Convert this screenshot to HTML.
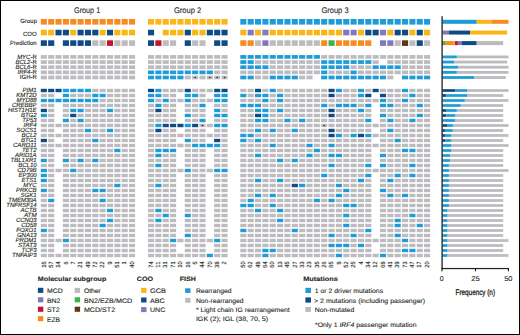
<!DOCTYPE html>
<html><head><meta charset="utf-8"><style>
html,body{margin:0;padding:0;background:#fff;}
body{width:520px;height:335px;overflow:hidden;}
svg{display:block;font-family:"Liberation Sans",sans-serif;text-rendering:geometricPrecision;}
</style></head><body>
<svg width="520" height="335" viewBox="0 0 520 335">

<g>
<rect x="0" y="0" width="520" height="335" fill="#fff"/>
<g fill="#231F20" stroke="#231F20" stroke-width="0.1">
<text x="74.00" y="12.90" font-size="8.2" textLength="26.20" lengthAdjust="spacingAndGlyphs">Group 1</text>
<text x="174.00" y="12.90" font-size="8.2" textLength="27.20" lengthAdjust="spacingAndGlyphs">Group 2</text>
<text x="321.40" y="12.90" font-size="8.2" textLength="27.20" lengthAdjust="spacingAndGlyphs">Group 3</text>
<text x="37.00" y="22.80" font-size="6.0" text-anchor="end" textLength="16.68" lengthAdjust="spacingAndGlyphs" stroke-width="0.12">Group</text>
<text x="36.70" y="35.70" font-size="6.0" text-anchor="end" textLength="13.67" lengthAdjust="spacingAndGlyphs" stroke-width="0.12">COO</text>
<text x="36.70" y="44.90" font-size="6.0" text-anchor="end" textLength="26.68" lengthAdjust="spacingAndGlyphs" stroke-width="0.12">Prediction</text>
<text x="36.8" y="59.30" font-size="6.0" text-anchor="end" textLength="19.66" lengthAdjust="spacingAndGlyphs" stroke-width="0.12"><tspan font-style="italic">MYC</tspan>-R</text>
<text x="36.8" y="64.40" font-size="6.0" text-anchor="end" textLength="21.34" lengthAdjust="spacingAndGlyphs" stroke-width="0.12"><tspan font-style="italic">BCL2</tspan>-R</text>
<text x="36.8" y="69.30" font-size="6.0" text-anchor="end" textLength="21.34" lengthAdjust="spacingAndGlyphs" stroke-width="0.12"><tspan font-style="italic">BCL6</tspan>-R</text>
<text x="36.8" y="74.40" font-size="6.0" text-anchor="end" textLength="19.33" lengthAdjust="spacingAndGlyphs" stroke-width="0.12"><tspan font-style="italic">IRF4</tspan>-R</text>
<text x="36.80" y="79.30" font-size="6.0" text-anchor="end" textLength="17.00" lengthAdjust="spacingAndGlyphs" stroke-width="0.12">IGH-R</text>
<text x="36.60" y="92.10" font-size="6.0" text-anchor="end" textLength="14.00" lengthAdjust="spacingAndGlyphs" stroke-width="0.12" font-style="italic">PIM1</text>
<text x="36.60" y="97.10" font-size="6.0" text-anchor="end" textLength="20.33" lengthAdjust="spacingAndGlyphs" stroke-width="0.12" font-style="italic">KMT2D</text>
<text x="36.60" y="102.10" font-size="6.0" text-anchor="end" textLength="20.01" lengthAdjust="spacingAndGlyphs" stroke-width="0.12" font-style="italic">MYD88</text>
<text x="36.60" y="107.10" font-size="6.0" text-anchor="end" textLength="24.67" lengthAdjust="spacingAndGlyphs" stroke-width="0.12" font-style="italic">CREBBP</text>
<text x="36.60" y="112.10" font-size="6.0" text-anchor="end" textLength="28.68" lengthAdjust="spacingAndGlyphs" stroke-width="0.12" font-style="italic">HIST1H1E</text>
<text x="36.60" y="117.10" font-size="6.0" text-anchor="end" textLength="15.67" lengthAdjust="spacingAndGlyphs" stroke-width="0.12" font-style="italic">BTG2</text>
<text x="36.60" y="122.10" font-size="6.0" text-anchor="end" textLength="14.34" lengthAdjust="spacingAndGlyphs" stroke-width="0.12" font-style="italic">TP53</text>
<text x="36.60" y="127.10" font-size="6.0" text-anchor="end" textLength="13.00" lengthAdjust="spacingAndGlyphs" stroke-width="0.12" font-style="italic">IRF4</text>
<text x="36.60" y="132.10" font-size="6.0" text-anchor="end" textLength="20.34" lengthAdjust="spacingAndGlyphs" stroke-width="0.12" font-style="italic">SOCS1</text>
<text x="36.60" y="137.10" font-size="6.0" text-anchor="end" textLength="15.01" lengthAdjust="spacingAndGlyphs" stroke-width="0.12" font-style="italic">BCL2</text>
<text x="36.60" y="142.10" font-size="6.0" text-anchor="end" textLength="15.67" lengthAdjust="spacingAndGlyphs" stroke-width="0.12" font-style="italic">BTG1</text>
<text x="36.60" y="147.10" font-size="6.0" text-anchor="end" textLength="23.67" lengthAdjust="spacingAndGlyphs" stroke-width="0.12" font-style="italic">CARD11</text>
<text x="36.60" y="152.10" font-size="6.0" text-anchor="end" textLength="14.67" lengthAdjust="spacingAndGlyphs" stroke-width="0.12" font-style="italic">TET2</text>
<text x="36.60" y="157.10" font-size="6.0" text-anchor="end" textLength="21.67" lengthAdjust="spacingAndGlyphs" stroke-width="0.12" font-style="italic">ARID1A</text>
<text x="36.60" y="162.10" font-size="6.0" text-anchor="end" textLength="26.01" lengthAdjust="spacingAndGlyphs" stroke-width="0.12" font-style="italic">TBL1XR1</text>
<text x="36.60" y="167.10" font-size="6.0" text-anchor="end" textLength="18.35" lengthAdjust="spacingAndGlyphs" stroke-width="0.12" font-style="italic">BCL10</text>
<text x="36.60" y="172.10" font-size="6.0" text-anchor="end" textLength="19.34" lengthAdjust="spacingAndGlyphs" stroke-width="0.12" font-style="italic">CD79B</text>
<text x="36.60" y="177.10" font-size="6.0" text-anchor="end" textLength="18.01" lengthAdjust="spacingAndGlyphs" stroke-width="0.12" font-style="italic">EP300</text>
<text x="36.60" y="182.10" font-size="6.0" text-anchor="end" textLength="15.01" lengthAdjust="spacingAndGlyphs" stroke-width="0.12" font-style="italic">ETS1</text>
<text x="36.60" y="187.10" font-size="6.0" text-anchor="end" textLength="13.33" lengthAdjust="spacingAndGlyphs" stroke-width="0.12" font-style="italic">MYC</text>
<text x="36.60" y="192.10" font-size="6.0" text-anchor="end" textLength="20.67" lengthAdjust="spacingAndGlyphs" stroke-width="0.12" font-style="italic">PRKCB</text>
<text x="36.60" y="197.10" font-size="6.0" text-anchor="end" textLength="16.01" lengthAdjust="spacingAndGlyphs" stroke-width="0.12" font-style="italic">SGK1</text>
<text x="36.60" y="202.10" font-size="6.0" text-anchor="end" textLength="28.34" lengthAdjust="spacingAndGlyphs" stroke-width="0.12" font-style="italic">TMEM30A</text>
<text x="36.60" y="207.10" font-size="6.0" text-anchor="end" textLength="30.34" lengthAdjust="spacingAndGlyphs" stroke-width="0.12" font-style="italic">TNFRSF14</text>
<text x="36.60" y="212.10" font-size="6.0" text-anchor="end" textLength="16.00" lengthAdjust="spacingAndGlyphs" stroke-width="0.12" font-style="italic">ACTB</text>
<text x="36.60" y="217.10" font-size="6.0" text-anchor="end" textLength="12.67" lengthAdjust="spacingAndGlyphs" stroke-width="0.12" font-style="italic">ATM</text>
<text x="36.60" y="222.10" font-size="6.0" text-anchor="end" textLength="20.67" lengthAdjust="spacingAndGlyphs" stroke-width="0.12" font-style="italic">CCND3</text>
<text x="36.60" y="227.10" font-size="6.0" text-anchor="end" textLength="15.34" lengthAdjust="spacingAndGlyphs" stroke-width="0.12" font-style="italic">CD58</text>
<text x="36.60" y="232.10" font-size="6.0" text-anchor="end" textLength="20.34" lengthAdjust="spacingAndGlyphs" stroke-width="0.12" font-style="italic">FOXO1</text>
<text x="36.60" y="237.10" font-size="6.0" text-anchor="end" textLength="19.68" lengthAdjust="spacingAndGlyphs" stroke-width="0.12" font-style="italic">GNA13</text>
<text x="36.60" y="242.10" font-size="6.0" text-anchor="end" textLength="21.00" lengthAdjust="spacingAndGlyphs" stroke-width="0.12" font-style="italic">PRDM1</text>
<text x="36.60" y="247.10" font-size="6.0" text-anchor="end" textLength="18.67" lengthAdjust="spacingAndGlyphs" stroke-width="0.12" font-style="italic">STAT3</text>
<text x="36.60" y="252.10" font-size="6.0" text-anchor="end" textLength="15.00" lengthAdjust="spacingAndGlyphs" stroke-width="0.12" font-style="italic">TCF3</text>
<text x="36.60" y="257.10" font-size="6.0" text-anchor="end" textLength="24.67" lengthAdjust="spacingAndGlyphs" stroke-width="0.12" font-style="italic">TNFAIP3</text>
<text x="45.55" y="261.50" font-size="6.1" text-anchor="end" textLength="6.20" lengthAdjust="spacingAndGlyphs" stroke-width="0.12" transform="rotate(-90 45.55 261.50)">15</text>
<text x="52.90" y="261.50" font-size="6.1" text-anchor="end" textLength="6.20" lengthAdjust="spacingAndGlyphs" stroke-width="0.12" transform="rotate(-90 52.90 261.50)">57</text>
<text x="60.25" y="261.50" font-size="6.1" text-anchor="end" textLength="6.20" lengthAdjust="spacingAndGlyphs" stroke-width="0.12" transform="rotate(-90 60.25 261.50)">14</text>
<text x="67.60" y="261.50" font-size="6.1" text-anchor="end" textLength="3.10" lengthAdjust="spacingAndGlyphs" stroke-width="0.12" transform="rotate(-90 67.60 261.50)">6</text>
<text x="74.95" y="261.50" font-size="6.1" text-anchor="end" textLength="3.10" lengthAdjust="spacingAndGlyphs" stroke-width="0.12" transform="rotate(-90 74.95 261.50)">7</text>
<text x="82.30" y="261.50" font-size="6.1" text-anchor="end" textLength="6.20" lengthAdjust="spacingAndGlyphs" stroke-width="0.12" transform="rotate(-90 82.30 261.50)">21</text>
<text x="89.65" y="261.50" font-size="6.1" text-anchor="end" textLength="6.20" lengthAdjust="spacingAndGlyphs" stroke-width="0.12" transform="rotate(-90 89.65 261.50)">49</text>
<text x="97.00" y="261.50" font-size="6.1" text-anchor="end" textLength="6.20" lengthAdjust="spacingAndGlyphs" stroke-width="0.12" transform="rotate(-90 97.00 261.50)">72</text>
<text x="104.35" y="261.50" font-size="6.1" text-anchor="end" textLength="6.20" lengthAdjust="spacingAndGlyphs" stroke-width="0.12" transform="rotate(-90 104.35 261.50)">22</text>
<text x="111.70" y="261.50" font-size="6.1" text-anchor="end" textLength="3.10" lengthAdjust="spacingAndGlyphs" stroke-width="0.12" transform="rotate(-90 111.70 261.50)">9</text>
<text x="119.05" y="261.50" font-size="6.1" text-anchor="end" textLength="6.20" lengthAdjust="spacingAndGlyphs" stroke-width="0.12" transform="rotate(-90 119.05 261.50)">51</text>
<text x="126.40" y="261.50" font-size="6.1" text-anchor="end" textLength="3.10" lengthAdjust="spacingAndGlyphs" stroke-width="0.12" transform="rotate(-90 126.40 261.50)">1</text>
<text x="133.75" y="261.50" font-size="6.1" text-anchor="end" textLength="6.20" lengthAdjust="spacingAndGlyphs" stroke-width="0.12" transform="rotate(-90 133.75 261.50)">40</text>
<text x="152.75" y="261.50" font-size="6.1" text-anchor="end" textLength="6.20" lengthAdjust="spacingAndGlyphs" stroke-width="0.12" transform="rotate(-90 152.75 261.50)">74</text>
<text x="160.10" y="261.50" font-size="6.1" text-anchor="end" textLength="6.20" lengthAdjust="spacingAndGlyphs" stroke-width="0.12" transform="rotate(-90 160.10 261.50)">11</text>
<text x="167.45" y="261.50" font-size="6.1" text-anchor="end" textLength="6.20" lengthAdjust="spacingAndGlyphs" stroke-width="0.12" transform="rotate(-90 167.45 261.50)">31</text>
<text x="174.80" y="261.50" font-size="6.1" text-anchor="end" textLength="6.20" lengthAdjust="spacingAndGlyphs" stroke-width="0.12" transform="rotate(-90 174.80 261.50)">71</text>
<text x="182.15" y="261.50" font-size="6.1" text-anchor="end" textLength="6.20" lengthAdjust="spacingAndGlyphs" stroke-width="0.12" transform="rotate(-90 182.15 261.50)">10</text>
<text x="189.50" y="261.50" font-size="6.1" text-anchor="end" textLength="6.20" lengthAdjust="spacingAndGlyphs" stroke-width="0.12" transform="rotate(-90 189.50 261.50)">16</text>
<text x="196.85" y="261.50" font-size="6.1" text-anchor="end" textLength="3.10" lengthAdjust="spacingAndGlyphs" stroke-width="0.12" transform="rotate(-90 196.85 261.50)">5</text>
<text x="204.20" y="261.50" font-size="6.1" text-anchor="end" textLength="6.20" lengthAdjust="spacingAndGlyphs" stroke-width="0.12" transform="rotate(-90 204.20 261.50)">44</text>
<text x="211.55" y="261.50" font-size="6.1" text-anchor="end" textLength="6.20" lengthAdjust="spacingAndGlyphs" stroke-width="0.12" transform="rotate(-90 211.55 261.50)">70</text>
<text x="218.90" y="261.50" font-size="6.1" text-anchor="end" textLength="6.20" lengthAdjust="spacingAndGlyphs" stroke-width="0.12" transform="rotate(-90 218.90 261.50)">38</text>
<text x="226.25" y="261.50" font-size="6.1" text-anchor="end" textLength="3.10" lengthAdjust="spacingAndGlyphs" stroke-width="0.12" transform="rotate(-90 226.25 261.50)">2</text>
<text x="245.05" y="261.50" font-size="6.1" text-anchor="end" textLength="6.20" lengthAdjust="spacingAndGlyphs" stroke-width="0.12" transform="rotate(-90 245.05 261.50)">50</text>
<text x="252.40" y="261.50" font-size="6.1" text-anchor="end" textLength="6.20" lengthAdjust="spacingAndGlyphs" stroke-width="0.12" transform="rotate(-90 252.40 261.50)">62</text>
<text x="259.75" y="261.50" font-size="6.1" text-anchor="end" textLength="6.20" lengthAdjust="spacingAndGlyphs" stroke-width="0.12" transform="rotate(-90 259.75 261.50)">48</text>
<text x="267.10" y="261.50" font-size="6.1" text-anchor="end" textLength="6.20" lengthAdjust="spacingAndGlyphs" stroke-width="0.12" transform="rotate(-90 267.10 261.50)">64</text>
<text x="274.45" y="261.50" font-size="6.1" text-anchor="end" textLength="6.20" lengthAdjust="spacingAndGlyphs" stroke-width="0.12" transform="rotate(-90 274.45 261.50)">60</text>
<text x="281.80" y="261.50" font-size="6.1" text-anchor="end" textLength="6.20" lengthAdjust="spacingAndGlyphs" stroke-width="0.12" transform="rotate(-90 281.80 261.50)">13</text>
<text x="289.15" y="261.50" font-size="6.1" text-anchor="end" textLength="6.20" lengthAdjust="spacingAndGlyphs" stroke-width="0.12" transform="rotate(-90 289.15 261.50)">45</text>
<text x="296.50" y="261.50" font-size="6.1" text-anchor="end" textLength="6.20" lengthAdjust="spacingAndGlyphs" stroke-width="0.12" transform="rotate(-90 296.50 261.50)">27</text>
<text x="303.85" y="261.50" font-size="6.1" text-anchor="end" textLength="6.20" lengthAdjust="spacingAndGlyphs" stroke-width="0.12" transform="rotate(-90 303.85 261.50)">33</text>
<text x="311.20" y="261.50" font-size="6.1" text-anchor="end" textLength="6.20" lengthAdjust="spacingAndGlyphs" stroke-width="0.12" transform="rotate(-90 311.20 261.50)">23</text>
<text x="318.55" y="261.50" font-size="6.1" text-anchor="end" textLength="6.20" lengthAdjust="spacingAndGlyphs" stroke-width="0.12" transform="rotate(-90 318.55 261.50)">35</text>
<text x="325.90" y="261.50" font-size="6.1" text-anchor="end" textLength="6.20" lengthAdjust="spacingAndGlyphs" stroke-width="0.12" transform="rotate(-90 325.90 261.50)">26</text>
<text x="333.25" y="261.50" font-size="6.1" text-anchor="end" textLength="6.20" lengthAdjust="spacingAndGlyphs" stroke-width="0.12" transform="rotate(-90 333.25 261.50)">65</text>
<text x="340.60" y="261.50" font-size="6.1" text-anchor="end" textLength="3.10" lengthAdjust="spacingAndGlyphs" stroke-width="0.12" transform="rotate(-90 340.60 261.50)">8</text>
<text x="347.95" y="261.50" font-size="6.1" text-anchor="end" textLength="6.20" lengthAdjust="spacingAndGlyphs" stroke-width="0.12" transform="rotate(-90 347.95 261.50)">52</text>
<text x="355.30" y="261.50" font-size="6.1" text-anchor="end" textLength="6.20" lengthAdjust="spacingAndGlyphs" stroke-width="0.12" transform="rotate(-90 355.30 261.50)">25</text>
<text x="362.65" y="261.50" font-size="6.1" text-anchor="end" textLength="3.10" lengthAdjust="spacingAndGlyphs" stroke-width="0.12" transform="rotate(-90 362.65 261.50)">4</text>
<text x="370.00" y="261.50" font-size="6.1" text-anchor="end" textLength="6.20" lengthAdjust="spacingAndGlyphs" stroke-width="0.12" transform="rotate(-90 370.00 261.50)">34</text>
<text x="377.35" y="261.50" font-size="6.1" text-anchor="end" textLength="6.20" lengthAdjust="spacingAndGlyphs" stroke-width="0.12" transform="rotate(-90 377.35 261.50)">12</text>
<text x="384.70" y="261.50" font-size="6.1" text-anchor="end" textLength="6.20" lengthAdjust="spacingAndGlyphs" stroke-width="0.12" transform="rotate(-90 384.70 261.50)">68</text>
<text x="392.05" y="261.50" font-size="6.1" text-anchor="end" textLength="6.20" lengthAdjust="spacingAndGlyphs" stroke-width="0.12" transform="rotate(-90 392.05 261.50)">41</text>
<text x="399.40" y="261.50" font-size="6.1" text-anchor="end" textLength="6.20" lengthAdjust="spacingAndGlyphs" stroke-width="0.12" transform="rotate(-90 399.40 261.50)">39</text>
<text x="406.75" y="261.50" font-size="6.1" text-anchor="end" textLength="6.20" lengthAdjust="spacingAndGlyphs" stroke-width="0.12" transform="rotate(-90 406.75 261.50)">73</text>
<text x="414.10" y="261.50" font-size="6.1" text-anchor="end" textLength="6.20" lengthAdjust="spacingAndGlyphs" stroke-width="0.12" transform="rotate(-90 414.10 261.50)">47</text>
<text x="421.45" y="261.50" font-size="6.1" text-anchor="end" textLength="6.20" lengthAdjust="spacingAndGlyphs" stroke-width="0.12" transform="rotate(-90 421.45 261.50)">17</text>
<text x="428.80" y="261.50" font-size="6.1" text-anchor="end" textLength="6.20" lengthAdjust="spacingAndGlyphs" stroke-width="0.12" transform="rotate(-90 428.80 261.50)">20</text>
<text x="37.80" y="281.20" font-size="6.3" font-weight="bold" textLength="68.50" lengthAdjust="spacingAndGlyphs">Molecular subgroup</text>
<text x="46.90" y="293.40" font-size="6.6" textLength="15.80" lengthAdjust="spacingAndGlyphs">MCD</text>
<text x="46.90" y="302.85" font-size="6.6" textLength="13.60" lengthAdjust="spacingAndGlyphs">BN2</text>
<text x="46.90" y="312.30" font-size="6.6" textLength="12.80" lengthAdjust="spacingAndGlyphs">ST2</text>
<text x="46.90" y="321.75" font-size="6.6" textLength="13.10" lengthAdjust="spacingAndGlyphs">EZB</text>
<text x="83.90" y="293.40" font-size="6.6" textLength="17.00" lengthAdjust="spacingAndGlyphs">Other</text>
<text x="83.90" y="302.85" font-size="6.6" textLength="48.40" lengthAdjust="spacingAndGlyphs">BN2/EZB/MCD</text>
<text x="83.90" y="312.30" font-size="6.6" textLength="31.20" lengthAdjust="spacingAndGlyphs">MCD/ST2</text>
<text x="136.80" y="281.40" font-size="6.3" font-weight="bold" textLength="16.30" lengthAdjust="spacingAndGlyphs">COO</text>
<text x="149.90" y="292.90" font-size="6.6" textLength="16.20" lengthAdjust="spacingAndGlyphs">GCB</text>
<text x="149.90" y="302.50" font-size="6.6" textLength="14.90" lengthAdjust="spacingAndGlyphs">ABC</text>
<text x="149.90" y="312.10" font-size="6.6" textLength="15.40" lengthAdjust="spacingAndGlyphs">UNC</text>
<text x="179.80" y="281.40" font-size="6.3" font-weight="bold" textLength="16.00" lengthAdjust="spacingAndGlyphs">FISH</text>
<text x="195.90" y="293.00" font-size="6.5" textLength="35.70" lengthAdjust="spacingAndGlyphs">Rearranged</text>
<text x="195.90" y="302.50" font-size="6.5" textLength="47.60" lengthAdjust="spacingAndGlyphs">Non-rearranged</text>
<text x="195.90" y="312.10" font-size="6.5" textLength="93.90" lengthAdjust="spacingAndGlyphs">* Light chain IG rearrangement</text>
<text x="195.90" y="320.60" font-size="6.5" textLength="72.30" lengthAdjust="spacingAndGlyphs">IGK (2); IGL (38, 70, 5)</text>
<text x="303.20" y="281.20" font-size="6.3" font-weight="bold" textLength="34.60" lengthAdjust="spacingAndGlyphs">Mutations</text>
<text x="314.80" y="293.10" font-size="6.5" textLength="68.30" lengthAdjust="spacingAndGlyphs">1 or 2 driver mutations</text>
<text x="314.00" y="302.50" font-size="6.5" textLength="111.20" lengthAdjust="spacingAndGlyphs">&gt; 2 mutations (including passenger)</text>
<text x="314.80" y="312.00" font-size="6.5" textLength="39.40" lengthAdjust="spacingAndGlyphs">Non-mutated</text>
<text x="315.0" y="326.6" font-size="6.5" textLength="101.50" lengthAdjust="spacingAndGlyphs">*Only 1 <tspan font-style="italic">IRF4</tspan> passenger mutation</text>
<text x="439.80" y="280.90" font-size="7.0" textLength="3.90" lengthAdjust="spacingAndGlyphs">0</text>
<text x="471.30" y="280.90" font-size="7.0" textLength="8.50" lengthAdjust="spacingAndGlyphs">25</text>
<text x="504.20" y="280.90" font-size="7.0" textLength="8.30" lengthAdjust="spacingAndGlyphs">50</text>
<text x="455.60" y="294.60" font-size="8.2" textLength="39.40" lengthAdjust="spacingAndGlyphs" stroke-width="0.3">Frequency (n)</text>
</g>
<g>
<rect x="40.80" y="19.00" width="6.10" height="5.60" fill="#F68B1F"/>
<rect x="48.15" y="19.00" width="6.10" height="5.60" fill="#F68B1F"/>
<rect x="55.50" y="19.00" width="6.10" height="5.60" fill="#F68B1F"/>
<rect x="62.85" y="19.00" width="6.10" height="5.60" fill="#F68B1F"/>
<rect x="70.20" y="19.00" width="6.10" height="5.60" fill="#F68B1F"/>
<rect x="77.55" y="19.00" width="6.10" height="5.60" fill="#F68B1F"/>
<rect x="84.90" y="19.00" width="6.10" height="5.60" fill="#F68B1F"/>
<rect x="92.25" y="19.00" width="6.10" height="5.60" fill="#F68B1F"/>
<rect x="99.60" y="19.00" width="6.10" height="5.60" fill="#F68B1F"/>
<rect x="106.95" y="19.00" width="6.10" height="5.60" fill="#F68B1F"/>
<rect x="114.30" y="19.00" width="6.10" height="5.60" fill="#F68B1F"/>
<rect x="121.65" y="19.00" width="6.10" height="5.60" fill="#F68B1F"/>
<rect x="129.00" y="19.00" width="6.10" height="5.60" fill="#F68B1F"/>
<rect x="148.00" y="19.00" width="6.10" height="5.60" fill="#FBB516"/>
<rect x="155.35" y="19.00" width="6.10" height="5.60" fill="#FBB516"/>
<rect x="162.70" y="19.00" width="6.10" height="5.60" fill="#FBB516"/>
<rect x="170.05" y="19.00" width="6.10" height="5.60" fill="#FBB516"/>
<rect x="177.40" y="19.00" width="6.10" height="5.60" fill="#FBB516"/>
<rect x="184.75" y="19.00" width="6.10" height="5.60" fill="#FBB516"/>
<rect x="192.10" y="19.00" width="6.10" height="5.60" fill="#FBB516"/>
<rect x="199.45" y="19.00" width="6.10" height="5.60" fill="#FBB516"/>
<rect x="206.80" y="19.00" width="6.10" height="5.60" fill="#FBB516"/>
<rect x="214.15" y="19.00" width="6.10" height="5.60" fill="#FBB516"/>
<rect x="221.50" y="19.00" width="6.10" height="5.60" fill="#FBB516"/>
<rect x="240.30" y="19.00" width="6.10" height="5.60" fill="#1E9CD8"/>
<rect x="247.65" y="19.00" width="6.10" height="5.60" fill="#1E9CD8"/>
<rect x="255.00" y="19.00" width="6.10" height="5.60" fill="#1E9CD8"/>
<rect x="262.35" y="19.00" width="6.10" height="5.60" fill="#1E9CD8"/>
<rect x="269.70" y="19.00" width="6.10" height="5.60" fill="#1E9CD8"/>
<rect x="277.05" y="19.00" width="6.10" height="5.60" fill="#1E9CD8"/>
<rect x="284.40" y="19.00" width="6.10" height="5.60" fill="#1E9CD8"/>
<rect x="291.75" y="19.00" width="6.10" height="5.60" fill="#1E9CD8"/>
<rect x="299.10" y="19.00" width="6.10" height="5.60" fill="#1E9CD8"/>
<rect x="306.45" y="19.00" width="6.10" height="5.60" fill="#1E9CD8"/>
<rect x="313.80" y="19.00" width="6.10" height="5.60" fill="#1E9CD8"/>
<rect x="321.15" y="19.00" width="6.10" height="5.60" fill="#1E9CD8"/>
<rect x="328.50" y="19.00" width="6.10" height="5.60" fill="#1E9CD8"/>
<rect x="335.85" y="19.00" width="6.10" height="5.60" fill="#1E9CD8"/>
<rect x="343.20" y="19.00" width="6.10" height="5.60" fill="#1E9CD8"/>
<rect x="350.55" y="19.00" width="6.10" height="5.60" fill="#1E9CD8"/>
<rect x="357.90" y="19.00" width="6.10" height="5.60" fill="#1E9CD8"/>
<rect x="365.25" y="19.00" width="6.10" height="5.60" fill="#1E9CD8"/>
<rect x="372.60" y="19.00" width="6.10" height="5.60" fill="#1E9CD8"/>
<rect x="379.95" y="19.00" width="6.10" height="5.60" fill="#1E9CD8"/>
<rect x="387.30" y="19.00" width="6.10" height="5.60" fill="#1E9CD8"/>
<rect x="394.65" y="19.00" width="6.10" height="5.60" fill="#1E9CD8"/>
<rect x="402.00" y="19.00" width="6.10" height="5.60" fill="#1E9CD8"/>
<rect x="409.35" y="19.00" width="6.10" height="5.60" fill="#1E9CD8"/>
<rect x="416.70" y="19.00" width="6.10" height="5.60" fill="#1E9CD8"/>
<rect x="424.05" y="19.00" width="6.10" height="5.60" fill="#1E9CD8"/>
<rect x="40.80" y="29.75" width="6.10" height="5.60" fill="#FBB516"/>
<rect x="48.15" y="29.75" width="6.10" height="5.60" fill="#FBB516"/>
<rect x="55.50" y="29.75" width="6.10" height="5.60" fill="#0E4A83"/>
<rect x="62.85" y="29.75" width="6.10" height="5.60" fill="#0E4A83"/>
<rect x="70.20" y="29.75" width="6.10" height="5.60" fill="#FBB516"/>
<rect x="77.55" y="29.75" width="6.10" height="5.60" fill="#0E4A83"/>
<rect x="84.90" y="29.75" width="6.10" height="5.60" fill="#0E4A83"/>
<rect x="92.25" y="29.75" width="6.10" height="5.60" fill="#0E4A83"/>
<rect x="99.60" y="29.75" width="6.10" height="5.60" fill="#FBB516"/>
<rect x="106.95" y="29.75" width="6.10" height="5.60" fill="#0E4A83"/>
<rect x="114.30" y="29.75" width="6.10" height="5.60" fill="#FBB516"/>
<rect x="121.65" y="29.75" width="6.10" height="5.60" fill="#FBB516"/>
<rect x="129.00" y="29.75" width="6.10" height="5.60" fill="#FBB516"/>
<rect x="148.00" y="29.75" width="6.10" height="5.60" fill="#0E4A83"/>
<rect x="162.70" y="29.75" width="6.10" height="5.60" fill="#FBB516"/>
<rect x="170.05" y="29.75" width="6.10" height="5.60" fill="#FBB516"/>
<rect x="177.40" y="29.75" width="6.10" height="5.60" fill="#FBB516"/>
<rect x="184.75" y="29.75" width="6.10" height="5.60" fill="#0E4A83"/>
<rect x="192.10" y="29.75" width="6.10" height="5.60" fill="#FBB516"/>
<rect x="199.45" y="29.75" width="6.10" height="5.60" fill="#FBB516"/>
<rect x="206.80" y="29.75" width="6.10" height="5.60" fill="#0E4A83"/>
<rect x="214.15" y="29.75" width="6.10" height="5.60" fill="#0E4A83"/>
<rect x="221.50" y="29.75" width="6.10" height="5.60" fill="#0E4A83"/>
<rect x="240.30" y="29.75" width="6.10" height="5.60" fill="#FBB516"/>
<rect x="247.65" y="29.75" width="6.10" height="5.60" fill="#8278BC"/>
<rect x="255.00" y="29.75" width="6.10" height="5.60" fill="#FBB516"/>
<rect x="262.35" y="29.75" width="6.10" height="5.60" fill="#8278BC"/>
<rect x="269.70" y="29.75" width="6.10" height="5.60" fill="#FBB516"/>
<rect x="277.05" y="29.75" width="6.10" height="5.60" fill="#FBB516"/>
<rect x="284.40" y="29.75" width="6.10" height="5.60" fill="#FBB516"/>
<rect x="291.75" y="29.75" width="6.10" height="5.60" fill="#FBB516"/>
<rect x="299.10" y="29.75" width="6.10" height="5.60" fill="#FBB516"/>
<rect x="306.45" y="29.75" width="6.10" height="5.60" fill="#FBB516"/>
<rect x="313.80" y="29.75" width="6.10" height="5.60" fill="#FBB516"/>
<rect x="321.15" y="29.75" width="6.10" height="5.60" fill="#FBB516"/>
<rect x="328.50" y="29.75" width="6.10" height="5.60" fill="#FBB516"/>
<rect x="335.85" y="29.75" width="6.10" height="5.60" fill="#FBB516"/>
<rect x="343.20" y="29.75" width="6.10" height="5.60" fill="#8278BC"/>
<rect x="350.55" y="29.75" width="6.10" height="5.60" fill="#8278BC"/>
<rect x="357.90" y="29.75" width="6.10" height="5.60" fill="#FBB516"/>
<rect x="365.25" y="29.75" width="6.10" height="5.60" fill="#0E4A83"/>
<rect x="372.60" y="29.75" width="6.10" height="5.60" fill="#0E4A83"/>
<rect x="379.95" y="29.75" width="6.10" height="5.60" fill="#8278BC"/>
<rect x="387.30" y="29.75" width="6.10" height="5.60" fill="#FBB516"/>
<rect x="394.65" y="29.75" width="6.10" height="5.60" fill="#0E4A83"/>
<rect x="402.00" y="29.75" width="6.10" height="5.60" fill="#0E4A83"/>
<rect x="409.35" y="29.75" width="6.10" height="5.60" fill="#FBB516"/>
<rect x="416.70" y="29.75" width="6.10" height="5.60" fill="#0E4A83"/>
<rect x="424.05" y="29.75" width="6.10" height="5.60" fill="#FBB516"/>
<rect x="40.80" y="40.30" width="6.10" height="5.60" fill="#0E4A83"/>
<rect x="48.15" y="40.30" width="6.10" height="5.60" fill="#0E4A83"/>
<rect x="62.85" y="40.30" width="6.10" height="5.60" fill="#0E4A83"/>
<rect x="70.20" y="40.30" width="6.10" height="5.60" fill="#0E4A83"/>
<rect x="77.55" y="40.30" width="6.10" height="5.60" fill="#0E4A83"/>
<rect x="84.90" y="40.30" width="6.10" height="5.60" fill="#0E4A83"/>
<rect x="92.25" y="40.30" width="6.10" height="5.60" fill="#BCBCC0"/>
<rect x="99.60" y="40.30" width="6.10" height="5.60" fill="#BCBCC0"/>
<rect x="106.95" y="40.30" width="6.10" height="5.60" fill="#C5132F"/>
<rect x="114.30" y="40.30" width="6.10" height="5.60" fill="#BCBCC0"/>
<rect x="121.65" y="40.30" width="6.10" height="5.60" fill="#BCBCC0"/>
<rect x="129.00" y="40.30" width="6.10" height="5.60" fill="#BCBCC0"/>
<rect x="148.00" y="40.30" width="6.10" height="5.60" fill="#0E4A83"/>
<rect x="155.35" y="40.30" width="6.10" height="5.60" fill="#C5132F"/>
<rect x="162.70" y="40.30" width="6.10" height="5.60" fill="#BCBCC0"/>
<rect x="170.05" y="40.30" width="6.10" height="5.60" fill="#BCBCC0"/>
<rect x="184.75" y="40.30" width="6.10" height="5.60" fill="#0E4A83"/>
<rect x="192.10" y="40.30" width="6.10" height="5.60" fill="#BCBCC0"/>
<rect x="199.45" y="40.30" width="6.10" height="5.60" fill="#BCBCC0"/>
<rect x="214.15" y="40.30" width="6.10" height="5.60" fill="#0E4A83"/>
<rect x="221.50" y="40.30" width="6.10" height="5.60" fill="#0E4A83"/>
<rect x="240.30" y="40.30" width="6.10" height="5.60" fill="#F68B1F"/>
<rect x="247.65" y="40.30" width="6.10" height="5.60" fill="#F68B1F"/>
<rect x="255.00" y="40.30" width="6.10" height="5.60" fill="#BCBCC0"/>
<rect x="262.35" y="40.30" width="6.10" height="5.60" fill="#8278BC"/>
<rect x="269.70" y="40.30" width="6.10" height="5.60" fill="#BCBCC0"/>
<rect x="277.05" y="40.30" width="6.10" height="5.60" fill="#BCBCC0"/>
<rect x="284.40" y="40.30" width="6.10" height="5.60" fill="#BCBCC0"/>
<rect x="291.75" y="40.30" width="6.10" height="5.60" fill="#BCBCC0"/>
<rect x="299.10" y="40.30" width="6.10" height="5.60" fill="#BCBCC0"/>
<rect x="306.45" y="40.30" width="6.10" height="5.60" fill="#BCBCC0"/>
<rect x="313.80" y="40.30" width="6.10" height="5.60" fill="#BCBCC0"/>
<rect x="321.15" y="40.30" width="6.10" height="5.60" fill="#F68B1F"/>
<rect x="328.50" y="40.30" width="6.10" height="5.60" fill="#3BB54A"/>
<rect x="335.85" y="40.30" width="6.10" height="5.60" fill="#F68B1F"/>
<rect x="343.20" y="40.30" width="6.10" height="5.60" fill="#F68B1F"/>
<rect x="350.55" y="40.30" width="6.10" height="5.60" fill="#F68B1F"/>
<rect x="357.90" y="40.30" width="6.10" height="5.60" fill="#F68B1F"/>
<rect x="365.25" y="40.30" width="6.10" height="5.60" fill="#F68B1F"/>
<rect x="379.95" y="40.30" width="6.10" height="5.60" fill="#8278BC"/>
<rect x="387.30" y="40.30" width="6.10" height="5.60" fill="#8278BC"/>
<rect x="394.65" y="40.30" width="6.10" height="5.60" fill="#BCBCC0"/>
<rect x="402.00" y="40.30" width="6.10" height="5.60" fill="#5E3719"/>
<rect x="409.35" y="40.30" width="6.10" height="5.60" fill="#BCBCC0"/>
<rect x="416.70" y="40.30" width="6.10" height="5.60" fill="#0E4A83"/>
<rect x="424.05" y="40.30" width="6.10" height="5.60" fill="#BCBCC0"/>
<rect x="40.80" y="55.05" width="6.10" height="3.70" fill="#BCBCC0"/>
<rect x="48.15" y="55.05" width="6.10" height="3.70" fill="#BCBCC0"/>
<rect x="55.50" y="55.05" width="6.10" height="3.70" fill="#BCBCC0"/>
<rect x="62.85" y="55.05" width="6.10" height="3.70" fill="#BCBCC0"/>
<rect x="70.20" y="55.05" width="6.10" height="3.70" fill="#BCBCC0"/>
<rect x="77.55" y="55.05" width="6.10" height="3.70" fill="#BCBCC0"/>
<rect x="84.90" y="55.05" width="6.10" height="3.70" fill="#BCBCC0"/>
<rect x="92.25" y="55.05" width="6.10" height="3.70" fill="#BCBCC0"/>
<rect x="99.60" y="55.05" width="6.10" height="3.70" fill="#BCBCC0"/>
<rect x="106.95" y="55.05" width="6.10" height="3.70" fill="#BCBCC0"/>
<rect x="114.30" y="55.05" width="6.10" height="3.70" fill="#BCBCC0"/>
<rect x="121.65" y="55.05" width="6.10" height="3.70" fill="#BCBCC0"/>
<rect x="129.00" y="55.05" width="6.10" height="3.70" fill="#BCBCC0"/>
<rect x="148.00" y="55.05" width="6.10" height="3.70" fill="#BCBCC0"/>
<rect x="155.35" y="55.05" width="6.10" height="3.70" fill="#BCBCC0"/>
<rect x="162.70" y="55.05" width="6.10" height="3.70" fill="#BCBCC0"/>
<rect x="170.05" y="55.05" width="6.10" height="3.70" fill="#BCBCC0"/>
<rect x="177.40" y="55.05" width="6.10" height="3.70" fill="#BCBCC0"/>
<rect x="184.75" y="55.05" width="6.10" height="3.70" fill="#BCBCC0"/>
<rect x="192.10" y="55.05" width="6.10" height="3.70" fill="#BCBCC0"/>
<rect x="199.45" y="55.05" width="6.10" height="3.70" fill="#BCBCC0"/>
<rect x="206.80" y="55.05" width="6.10" height="3.70" fill="#BCBCC0"/>
<rect x="214.15" y="55.05" width="6.10" height="3.70" fill="#BCBCC0"/>
<rect x="221.50" y="55.05" width="6.10" height="3.70" fill="#BCBCC0"/>
<rect x="240.30" y="55.05" width="6.10" height="3.70" fill="#1E9CD8"/>
<rect x="247.65" y="55.05" width="6.10" height="3.70" fill="#1E9CD8"/>
<rect x="255.00" y="55.05" width="6.10" height="3.70" fill="#1E9CD8"/>
<rect x="262.35" y="55.05" width="6.10" height="3.70" fill="#1E9CD8"/>
<rect x="269.70" y="55.05" width="6.10" height="3.70" fill="#1E9CD8"/>
<rect x="277.05" y="55.05" width="6.10" height="3.70" fill="#1E9CD8"/>
<rect x="284.40" y="55.05" width="6.10" height="3.70" fill="#1E9CD8"/>
<rect x="291.75" y="55.05" width="6.10" height="3.70" fill="#1E9CD8"/>
<rect x="299.10" y="55.05" width="6.10" height="3.70" fill="#1E9CD8"/>
<rect x="306.45" y="55.05" width="6.10" height="3.70" fill="#1E9CD8"/>
<rect x="313.80" y="55.05" width="6.10" height="3.70" fill="#1E9CD8"/>
<rect x="321.15" y="55.05" width="6.10" height="3.70" fill="#BCBCC0"/>
<rect x="328.50" y="55.05" width="6.10" height="3.70" fill="#BCBCC0"/>
<rect x="335.85" y="55.05" width="6.10" height="3.70" fill="#BCBCC0"/>
<rect x="343.20" y="55.05" width="6.10" height="3.70" fill="#BCBCC0"/>
<rect x="350.55" y="55.05" width="6.10" height="3.70" fill="#BCBCC0"/>
<rect x="357.90" y="55.05" width="6.10" height="3.70" fill="#BCBCC0"/>
<rect x="365.25" y="55.05" width="6.10" height="3.70" fill="#BCBCC0"/>
<rect x="372.60" y="55.05" width="6.10" height="3.70" fill="#BCBCC0"/>
<rect x="379.95" y="55.05" width="6.10" height="3.70" fill="#BCBCC0"/>
<rect x="387.30" y="55.05" width="6.10" height="3.70" fill="#BCBCC0"/>
<rect x="394.65" y="55.05" width="6.10" height="3.70" fill="#BCBCC0"/>
<rect x="402.00" y="55.05" width="6.10" height="3.70" fill="#BCBCC0"/>
<rect x="409.35" y="55.05" width="6.10" height="3.70" fill="#BCBCC0"/>
<rect x="416.70" y="55.05" width="6.10" height="3.70" fill="#BCBCC0"/>
<rect x="424.05" y="55.05" width="6.10" height="3.70" fill="#BCBCC0"/>
<rect x="40.80" y="60.20" width="6.10" height="3.70" fill="#BCBCC0"/>
<rect x="48.15" y="60.20" width="6.10" height="3.70" fill="#BCBCC0"/>
<rect x="55.50" y="60.20" width="6.10" height="3.70" fill="#BCBCC0"/>
<rect x="62.85" y="60.20" width="6.10" height="3.70" fill="#BCBCC0"/>
<rect x="70.20" y="60.20" width="6.10" height="3.70" fill="#BCBCC0"/>
<rect x="77.55" y="60.20" width="6.10" height="3.70" fill="#BCBCC0"/>
<rect x="84.90" y="60.20" width="6.10" height="3.70" fill="#BCBCC0"/>
<rect x="92.25" y="60.20" width="6.10" height="3.70" fill="#BCBCC0"/>
<rect x="99.60" y="60.20" width="6.10" height="3.70" fill="#BCBCC0"/>
<rect x="106.95" y="60.20" width="6.10" height="3.70" fill="#BCBCC0"/>
<rect x="114.30" y="60.20" width="6.10" height="3.70" fill="#BCBCC0"/>
<rect x="121.65" y="60.20" width="6.10" height="3.70" fill="#BCBCC0"/>
<rect x="129.00" y="60.20" width="6.10" height="3.70" fill="#BCBCC0"/>
<rect x="148.00" y="60.20" width="6.10" height="3.70" fill="#BCBCC0"/>
<rect x="155.35" y="60.20" width="6.10" height="3.70" fill="#BCBCC0"/>
<rect x="162.70" y="60.20" width="6.10" height="3.70" fill="#BCBCC0"/>
<rect x="170.05" y="60.20" width="6.10" height="3.70" fill="#BCBCC0"/>
<rect x="177.40" y="60.20" width="6.10" height="3.70" fill="#BCBCC0"/>
<rect x="184.75" y="60.20" width="6.10" height="3.70" fill="#BCBCC0"/>
<rect x="192.10" y="60.20" width="6.10" height="3.70" fill="#BCBCC0"/>
<rect x="199.45" y="60.20" width="6.10" height="3.70" fill="#BCBCC0"/>
<rect x="206.80" y="60.20" width="6.10" height="3.70" fill="#BCBCC0"/>
<rect x="214.15" y="60.20" width="6.10" height="3.70" fill="#BCBCC0"/>
<rect x="221.50" y="60.20" width="6.10" height="3.70" fill="#BCBCC0"/>
<rect x="240.30" y="60.20" width="6.10" height="3.70" fill="#1E9CD8"/>
<rect x="247.65" y="60.20" width="6.10" height="3.70" fill="#1E9CD8"/>
<rect x="255.00" y="60.20" width="6.10" height="3.70" fill="#BCBCC0"/>
<rect x="262.35" y="60.20" width="6.10" height="3.70" fill="#BCBCC0"/>
<rect x="269.70" y="60.20" width="6.10" height="3.70" fill="#BCBCC0"/>
<rect x="277.05" y="60.20" width="6.10" height="3.70" fill="#BCBCC0"/>
<rect x="284.40" y="60.20" width="6.10" height="3.70" fill="#BCBCC0"/>
<rect x="291.75" y="60.20" width="6.10" height="3.70" fill="#BCBCC0"/>
<rect x="299.10" y="60.20" width="6.10" height="3.70" fill="#BCBCC0"/>
<rect x="306.45" y="60.20" width="6.10" height="3.70" fill="#BCBCC0"/>
<rect x="313.80" y="60.20" width="6.10" height="3.70" fill="#BCBCC0"/>
<rect x="321.15" y="60.20" width="6.10" height="3.70" fill="#1E9CD8"/>
<rect x="328.50" y="60.20" width="6.10" height="3.70" fill="#1E9CD8"/>
<rect x="335.85" y="60.20" width="6.10" height="3.70" fill="#1E9CD8"/>
<rect x="343.20" y="60.20" width="6.10" height="3.70" fill="#1E9CD8"/>
<rect x="350.55" y="60.20" width="6.10" height="3.70" fill="#1E9CD8"/>
<rect x="357.90" y="60.20" width="6.10" height="3.70" fill="#1E9CD8"/>
<rect x="365.25" y="60.20" width="6.10" height="3.70" fill="#1E9CD8"/>
<rect x="372.60" y="60.20" width="6.10" height="3.70" fill="#BCBCC0"/>
<rect x="387.30" y="60.20" width="6.10" height="3.70" fill="#BCBCC0"/>
<rect x="394.65" y="60.20" width="6.10" height="3.70" fill="#BCBCC0"/>
<rect x="402.00" y="60.20" width="6.10" height="3.70" fill="#BCBCC0"/>
<rect x="409.35" y="60.20" width="6.10" height="3.70" fill="#BCBCC0"/>
<rect x="416.70" y="60.20" width="6.10" height="3.70" fill="#BCBCC0"/>
<rect x="424.05" y="60.20" width="6.10" height="3.70" fill="#BCBCC0"/>
<rect x="40.80" y="65.35" width="6.10" height="3.70" fill="#BCBCC0"/>
<rect x="48.15" y="65.35" width="6.10" height="3.70" fill="#BCBCC0"/>
<rect x="55.50" y="65.35" width="6.10" height="3.70" fill="#BCBCC0"/>
<rect x="62.85" y="65.35" width="6.10" height="3.70" fill="#BCBCC0"/>
<rect x="70.20" y="65.35" width="6.10" height="3.70" fill="#BCBCC0"/>
<rect x="77.55" y="65.35" width="6.10" height="3.70" fill="#BCBCC0"/>
<rect x="84.90" y="65.35" width="6.10" height="3.70" fill="#BCBCC0"/>
<rect x="92.25" y="65.35" width="6.10" height="3.70" fill="#BCBCC0"/>
<rect x="99.60" y="65.35" width="6.10" height="3.70" fill="#BCBCC0"/>
<rect x="106.95" y="65.35" width="6.10" height="3.70" fill="#BCBCC0"/>
<rect x="114.30" y="65.35" width="6.10" height="3.70" fill="#BCBCC0"/>
<rect x="121.65" y="65.35" width="6.10" height="3.70" fill="#BCBCC0"/>
<rect x="129.00" y="65.35" width="6.10" height="3.70" fill="#BCBCC0"/>
<rect x="148.00" y="65.35" width="6.10" height="3.70" fill="#BCBCC0"/>
<rect x="155.35" y="65.35" width="6.10" height="3.70" fill="#BCBCC0"/>
<rect x="162.70" y="65.35" width="6.10" height="3.70" fill="#BCBCC0"/>
<rect x="170.05" y="65.35" width="6.10" height="3.70" fill="#BCBCC0"/>
<rect x="177.40" y="65.35" width="6.10" height="3.70" fill="#BCBCC0"/>
<rect x="184.75" y="65.35" width="6.10" height="3.70" fill="#BCBCC0"/>
<rect x="192.10" y="65.35" width="6.10" height="3.70" fill="#BCBCC0"/>
<rect x="199.45" y="65.35" width="6.10" height="3.70" fill="#BCBCC0"/>
<rect x="206.80" y="65.35" width="6.10" height="3.70" fill="#BCBCC0"/>
<rect x="214.15" y="65.35" width="6.10" height="3.70" fill="#BCBCC0"/>
<rect x="221.50" y="65.35" width="6.10" height="3.70" fill="#BCBCC0"/>
<rect x="240.30" y="65.35" width="6.10" height="3.70" fill="#1E9CD8"/>
<rect x="247.65" y="65.35" width="6.10" height="3.70" fill="#1E9CD8"/>
<rect x="255.00" y="65.35" width="6.10" height="3.70" fill="#1E9CD8"/>
<rect x="262.35" y="65.35" width="6.10" height="3.70" fill="#1E9CD8"/>
<rect x="269.70" y="65.35" width="6.10" height="3.70" fill="#BCBCC0"/>
<rect x="277.05" y="65.35" width="6.10" height="3.70" fill="#BCBCC0"/>
<rect x="284.40" y="65.35" width="6.10" height="3.70" fill="#BCBCC0"/>
<rect x="291.75" y="65.35" width="6.10" height="3.70" fill="#BCBCC0"/>
<rect x="299.10" y="65.35" width="6.10" height="3.70" fill="#BCBCC0"/>
<rect x="306.45" y="65.35" width="6.10" height="3.70" fill="#BCBCC0"/>
<rect x="313.80" y="65.35" width="6.10" height="3.70" fill="#BCBCC0"/>
<rect x="321.15" y="65.35" width="6.10" height="3.70" fill="#1E9CD8"/>
<rect x="328.50" y="65.35" width="6.10" height="3.70" fill="#1E9CD8"/>
<rect x="335.85" y="65.35" width="6.10" height="3.70" fill="#1E9CD8"/>
<rect x="343.20" y="65.35" width="6.10" height="3.70" fill="#1E9CD8"/>
<rect x="350.55" y="65.35" width="6.10" height="3.70" fill="#BCBCC0"/>
<rect x="357.90" y="65.35" width="6.10" height="3.70" fill="#BCBCC0"/>
<rect x="365.25" y="65.35" width="6.10" height="3.70" fill="#BCBCC0"/>
<rect x="372.60" y="65.35" width="6.10" height="3.70" fill="#1E9CD8"/>
<rect x="379.95" y="65.35" width="6.10" height="3.70" fill="#1E9CD8"/>
<rect x="387.30" y="65.35" width="6.10" height="3.70" fill="#1E9CD8"/>
<rect x="394.65" y="65.35" width="6.10" height="3.70" fill="#1E9CD8"/>
<rect x="402.00" y="65.35" width="6.10" height="3.70" fill="#BCBCC0"/>
<rect x="409.35" y="65.35" width="6.10" height="3.70" fill="#BCBCC0"/>
<rect x="416.70" y="65.35" width="6.10" height="3.70" fill="#BCBCC0"/>
<rect x="424.05" y="65.35" width="6.10" height="3.70" fill="#BCBCC0"/>
<rect x="40.80" y="70.50" width="6.10" height="3.70" fill="#BCBCC0"/>
<rect x="48.15" y="70.50" width="6.10" height="3.70" fill="#BCBCC0"/>
<rect x="55.50" y="70.50" width="6.10" height="3.70" fill="#BCBCC0"/>
<rect x="62.85" y="70.50" width="6.10" height="3.70" fill="#BCBCC0"/>
<rect x="70.20" y="70.50" width="6.10" height="3.70" fill="#BCBCC0"/>
<rect x="77.55" y="70.50" width="6.10" height="3.70" fill="#BCBCC0"/>
<rect x="84.90" y="70.50" width="6.10" height="3.70" fill="#BCBCC0"/>
<rect x="92.25" y="70.50" width="6.10" height="3.70" fill="#BCBCC0"/>
<rect x="99.60" y="70.50" width="6.10" height="3.70" fill="#BCBCC0"/>
<rect x="106.95" y="70.50" width="6.10" height="3.70" fill="#BCBCC0"/>
<rect x="114.30" y="70.50" width="6.10" height="3.70" fill="#BCBCC0"/>
<rect x="121.65" y="70.50" width="6.10" height="3.70" fill="#BCBCC0"/>
<rect x="129.00" y="70.50" width="6.10" height="3.70" fill="#BCBCC0"/>
<rect x="148.00" y="70.50" width="6.10" height="3.70" fill="#1E9CD8"/>
<rect x="155.35" y="70.50" width="6.10" height="3.70" fill="#1E9CD8"/>
<rect x="162.70" y="70.50" width="6.10" height="3.70" fill="#1E9CD8"/>
<rect x="170.05" y="70.50" width="6.10" height="3.70" fill="#1E9CD8"/>
<rect x="177.40" y="70.50" width="6.10" height="3.70" fill="#1E9CD8"/>
<rect x="184.75" y="70.50" width="6.10" height="3.70" fill="#1E9CD8"/>
<rect x="192.10" y="70.50" width="6.10" height="3.70" fill="#1E9CD8"/>
<rect x="199.45" y="70.50" width="6.10" height="3.70" fill="#1E9CD8"/>
<rect x="206.80" y="70.50" width="6.10" height="3.70" fill="#1E9CD8"/>
<rect x="214.15" y="70.50" width="6.10" height="3.70" fill="#BCBCC0"/>
<rect x="221.50" y="70.50" width="6.10" height="3.70" fill="#BCBCC0"/>
<rect x="240.30" y="70.50" width="6.10" height="3.70" fill="#BCBCC0"/>
<rect x="247.65" y="70.50" width="6.10" height="3.70" fill="#BCBCC0"/>
<rect x="255.00" y="70.50" width="6.10" height="3.70" fill="#BCBCC0"/>
<rect x="262.35" y="70.50" width="6.10" height="3.70" fill="#BCBCC0"/>
<rect x="269.70" y="70.50" width="6.10" height="3.70" fill="#BCBCC0"/>
<rect x="277.05" y="70.50" width="6.10" height="3.70" fill="#BCBCC0"/>
<rect x="284.40" y="70.50" width="6.10" height="3.70" fill="#BCBCC0"/>
<rect x="291.75" y="70.50" width="6.10" height="3.70" fill="#BCBCC0"/>
<rect x="299.10" y="70.50" width="6.10" height="3.70" fill="#BCBCC0"/>
<rect x="306.45" y="70.50" width="6.10" height="3.70" fill="#BCBCC0"/>
<rect x="313.80" y="70.50" width="6.10" height="3.70" fill="#BCBCC0"/>
<rect x="321.15" y="70.50" width="6.10" height="3.70" fill="#1E9CD8"/>
<rect x="328.50" y="70.50" width="6.10" height="3.70" fill="#BCBCC0"/>
<rect x="335.85" y="70.50" width="6.10" height="3.70" fill="#BCBCC0"/>
<rect x="343.20" y="70.50" width="6.10" height="3.70" fill="#BCBCC0"/>
<rect x="350.55" y="70.50" width="6.10" height="3.70" fill="#1E9CD8"/>
<rect x="357.90" y="70.50" width="6.10" height="3.70" fill="#BCBCC0"/>
<rect x="365.25" y="70.50" width="6.10" height="3.70" fill="#BCBCC0"/>
<rect x="372.60" y="70.50" width="6.10" height="3.70" fill="#BCBCC0"/>
<rect x="379.95" y="70.50" width="6.10" height="3.70" fill="#BCBCC0"/>
<rect x="387.30" y="70.50" width="6.10" height="3.70" fill="#BCBCC0"/>
<rect x="394.65" y="70.50" width="6.10" height="3.70" fill="#BCBCC0"/>
<rect x="402.00" y="70.50" width="6.10" height="3.70" fill="#BCBCC0"/>
<rect x="409.35" y="70.50" width="6.10" height="3.70" fill="#BCBCC0"/>
<rect x="416.70" y="70.50" width="6.10" height="3.70" fill="#BCBCC0"/>
<rect x="424.05" y="70.50" width="6.10" height="3.70" fill="#BCBCC0"/>
<rect x="40.80" y="75.65" width="6.10" height="3.70" fill="#BCBCC0"/>
<rect x="48.15" y="75.65" width="6.10" height="3.70" fill="#BCBCC0"/>
<rect x="55.50" y="75.65" width="6.10" height="3.70" fill="#BCBCC0"/>
<rect x="62.85" y="75.65" width="6.10" height="3.70" fill="#BCBCC0"/>
<rect x="70.20" y="75.65" width="6.10" height="3.70" fill="#BCBCC0"/>
<rect x="77.55" y="75.65" width="6.10" height="3.70" fill="#BCBCC0"/>
<rect x="84.90" y="75.65" width="6.10" height="3.70" fill="#BCBCC0"/>
<rect x="92.25" y="75.65" width="6.10" height="3.70" fill="#BCBCC0"/>
<rect x="99.60" y="75.65" width="6.10" height="3.70" fill="#BCBCC0"/>
<rect x="106.95" y="75.65" width="6.10" height="3.70" fill="#BCBCC0"/>
<rect x="114.30" y="75.65" width="6.10" height="3.70" fill="#BCBCC0"/>
<rect x="121.65" y="75.65" width="6.10" height="3.70" fill="#BCBCC0"/>
<rect x="129.00" y="75.65" width="6.10" height="3.70" fill="#BCBCC0"/>
<rect x="148.00" y="75.65" width="6.10" height="3.70" fill="#1E9CD8"/>
<rect x="155.35" y="75.65" width="6.10" height="3.70" fill="#1E9CD8"/>
<rect x="162.70" y="75.65" width="6.10" height="3.70" fill="#1E9CD8"/>
<rect x="170.05" y="75.65" width="6.10" height="3.70" fill="#1E9CD8"/>
<rect x="177.40" y="75.65" width="6.10" height="3.70" fill="#1E9CD8"/>
<rect x="184.75" y="75.65" width="6.10" height="3.70" fill="#BCBCC0"/>
<rect x="192.10" y="75.65" width="6.10" height="3.70" fill="#BCBCC0"/>
<circle cx="195.15" cy="77.50" r="0.8" fill="#1a1a1a"/>
<rect x="199.45" y="75.65" width="6.10" height="3.70" fill="#BCBCC0"/>
<rect x="206.80" y="75.65" width="6.10" height="3.70" fill="#BCBCC0"/>
<circle cx="209.85" cy="77.50" r="0.8" fill="#1a1a1a"/>
<rect x="214.15" y="75.65" width="6.10" height="3.70" fill="#BCBCC0"/>
<circle cx="217.20" cy="77.50" r="0.8" fill="#1a1a1a"/>
<rect x="221.50" y="75.65" width="6.10" height="3.70" fill="#BCBCC0"/>
<circle cx="224.55" cy="77.50" r="0.8" fill="#1a1a1a"/>
<rect x="240.30" y="75.65" width="6.10" height="3.70" fill="#1E9CD8"/>
<rect x="247.65" y="75.65" width="6.10" height="3.70" fill="#1E9CD8"/>
<rect x="255.00" y="75.65" width="6.10" height="3.70" fill="#BCBCC0"/>
<rect x="262.35" y="75.65" width="6.10" height="3.70" fill="#BCBCC0"/>
<rect x="269.70" y="75.65" width="6.10" height="3.70" fill="#1E9CD8"/>
<rect x="277.05" y="75.65" width="6.10" height="3.70" fill="#1E9CD8"/>
<rect x="284.40" y="75.65" width="6.10" height="3.70" fill="#1E9CD8"/>
<rect x="291.75" y="75.65" width="6.10" height="3.70" fill="#1E9CD8"/>
<rect x="299.10" y="75.65" width="6.10" height="3.70" fill="#BCBCC0"/>
<rect x="306.45" y="75.65" width="6.10" height="3.70" fill="#BCBCC0"/>
<rect x="321.15" y="75.65" width="6.10" height="3.70" fill="#1E9CD8"/>
<rect x="328.50" y="75.65" width="6.10" height="3.70" fill="#1E9CD8"/>
<rect x="335.85" y="75.65" width="6.10" height="3.70" fill="#1E9CD8"/>
<rect x="343.20" y="75.65" width="6.10" height="3.70" fill="#1E9CD8"/>
<rect x="350.55" y="75.65" width="6.10" height="3.70" fill="#1E9CD8"/>
<rect x="357.90" y="75.65" width="6.10" height="3.70" fill="#1E9CD8"/>
<rect x="365.25" y="75.65" width="6.10" height="3.70" fill="#1E9CD8"/>
<rect x="372.60" y="75.65" width="6.10" height="3.70" fill="#1E9CD8"/>
<rect x="379.95" y="75.65" width="6.10" height="3.70" fill="#1E9CD8"/>
<rect x="387.30" y="75.65" width="6.10" height="3.70" fill="#BCBCC0"/>
<rect x="402.00" y="75.65" width="6.10" height="3.70" fill="#1E9CD8"/>
<rect x="409.35" y="75.65" width="6.10" height="3.70" fill="#1E9CD8"/>
<rect x="416.70" y="75.65" width="6.10" height="3.70" fill="#1E9CD8"/>
<rect x="424.05" y="75.65" width="6.10" height="3.70" fill="#1E9CD8"/>
<rect x="40.80" y="88.80" width="6.10" height="3.40" fill="#0E4A83"/>
<rect x="48.15" y="88.80" width="6.10" height="3.40" fill="#0E4A83"/>
<rect x="55.50" y="88.80" width="6.10" height="3.40" fill="#0E4A83"/>
<rect x="62.85" y="88.80" width="6.10" height="3.40" fill="#1E9CD8"/>
<rect x="70.20" y="88.80" width="6.10" height="3.40" fill="#1E9CD8"/>
<rect x="77.55" y="88.80" width="6.10" height="3.40" fill="#1E9CD8"/>
<rect x="84.90" y="88.80" width="6.10" height="3.40" fill="#1E9CD8"/>
<rect x="92.25" y="88.80" width="6.10" height="3.40" fill="#BCBCC0"/>
<rect x="99.60" y="88.80" width="6.10" height="3.40" fill="#BCBCC0"/>
<rect x="106.95" y="88.80" width="6.10" height="3.40" fill="#BCBCC0"/>
<rect x="114.30" y="88.80" width="6.10" height="3.40" fill="#BCBCC0"/>
<rect x="121.65" y="88.80" width="6.10" height="3.40" fill="#BCBCC0"/>
<rect x="129.00" y="88.80" width="6.10" height="3.40" fill="#BCBCC0"/>
<rect x="148.00" y="88.80" width="6.10" height="3.40" fill="#0E4A83"/>
<rect x="155.35" y="88.80" width="6.10" height="3.40" fill="#1E9CD8"/>
<rect x="162.70" y="88.80" width="6.10" height="3.40" fill="#BCBCC0"/>
<rect x="170.05" y="88.80" width="6.10" height="3.40" fill="#BCBCC0"/>
<rect x="177.40" y="88.80" width="6.10" height="3.40" fill="#BCBCC0"/>
<rect x="184.75" y="88.80" width="6.10" height="3.40" fill="#0E4A83"/>
<rect x="192.10" y="88.80" width="6.10" height="3.40" fill="#BCBCC0"/>
<rect x="199.45" y="88.80" width="6.10" height="3.40" fill="#BCBCC0"/>
<rect x="206.80" y="88.80" width="6.10" height="3.40" fill="#BCBCC0"/>
<rect x="214.15" y="88.80" width="6.10" height="3.40" fill="#0E4A83"/>
<rect x="221.50" y="88.80" width="6.10" height="3.40" fill="#0E4A83"/>
<rect x="240.30" y="88.80" width="6.10" height="3.40" fill="#BCBCC0"/>
<rect x="247.65" y="88.80" width="6.10" height="3.40" fill="#BCBCC0"/>
<rect x="255.00" y="88.80" width="6.10" height="3.40" fill="#0E4A83"/>
<rect x="262.35" y="88.80" width="6.10" height="3.40" fill="#BCBCC0"/>
<rect x="269.70" y="88.80" width="6.10" height="3.40" fill="#1E9CD8"/>
<rect x="277.05" y="88.80" width="6.10" height="3.40" fill="#BCBCC0"/>
<rect x="284.40" y="88.80" width="6.10" height="3.40" fill="#BCBCC0"/>
<rect x="291.75" y="88.80" width="6.10" height="3.40" fill="#BCBCC0"/>
<rect x="299.10" y="88.80" width="6.10" height="3.40" fill="#BCBCC0"/>
<rect x="306.45" y="88.80" width="6.10" height="3.40" fill="#BCBCC0"/>
<rect x="313.80" y="88.80" width="6.10" height="3.40" fill="#BCBCC0"/>
<rect x="321.15" y="88.80" width="6.10" height="3.40" fill="#BCBCC0"/>
<rect x="328.50" y="88.80" width="6.10" height="3.40" fill="#0E4A83"/>
<rect x="335.85" y="88.80" width="6.10" height="3.40" fill="#1E9CD8"/>
<rect x="343.20" y="88.80" width="6.10" height="3.40" fill="#BCBCC0"/>
<rect x="350.55" y="88.80" width="6.10" height="3.40" fill="#BCBCC0"/>
<rect x="357.90" y="88.80" width="6.10" height="3.40" fill="#1E9CD8"/>
<rect x="365.25" y="88.80" width="6.10" height="3.40" fill="#BCBCC0"/>
<rect x="372.60" y="88.80" width="6.10" height="3.40" fill="#0E4A83"/>
<rect x="379.95" y="88.80" width="6.10" height="3.40" fill="#BCBCC0"/>
<rect x="387.30" y="88.80" width="6.10" height="3.40" fill="#BCBCC0"/>
<rect x="394.65" y="88.80" width="6.10" height="3.40" fill="#BCBCC0"/>
<rect x="402.00" y="88.80" width="6.10" height="3.40" fill="#1E9CD8"/>
<rect x="409.35" y="88.80" width="6.10" height="3.40" fill="#BCBCC0"/>
<rect x="416.70" y="88.80" width="6.10" height="3.40" fill="#BCBCC0"/>
<rect x="424.05" y="88.80" width="6.10" height="3.40" fill="#BCBCC0"/>
<rect x="40.80" y="93.80" width="6.10" height="3.40" fill="#BCBCC0"/>
<rect x="48.15" y="93.80" width="6.10" height="3.40" fill="#BCBCC0"/>
<rect x="62.85" y="93.80" width="6.10" height="3.40" fill="#1E9CD8"/>
<rect x="70.20" y="93.80" width="6.10" height="3.40" fill="#BCBCC0"/>
<rect x="77.55" y="93.80" width="6.10" height="3.40" fill="#BCBCC0"/>
<rect x="84.90" y="93.80" width="6.10" height="3.40" fill="#BCBCC0"/>
<rect x="92.25" y="93.80" width="6.10" height="3.40" fill="#1E9CD8"/>
<rect x="99.60" y="93.80" width="6.10" height="3.40" fill="#1E9CD8"/>
<rect x="106.95" y="93.80" width="6.10" height="3.40" fill="#BCBCC0"/>
<rect x="114.30" y="93.80" width="6.10" height="3.40" fill="#BCBCC0"/>
<rect x="121.65" y="93.80" width="6.10" height="3.40" fill="#BCBCC0"/>
<rect x="129.00" y="93.80" width="6.10" height="3.40" fill="#BCBCC0"/>
<rect x="148.00" y="93.80" width="6.10" height="3.40" fill="#1E9CD8"/>
<rect x="155.35" y="93.80" width="6.10" height="3.40" fill="#1E9CD8"/>
<rect x="162.70" y="93.80" width="6.10" height="3.40" fill="#BCBCC0"/>
<rect x="170.05" y="93.80" width="6.10" height="3.40" fill="#BCBCC0"/>
<rect x="184.75" y="93.80" width="6.10" height="3.40" fill="#1E9CD8"/>
<rect x="192.10" y="93.80" width="6.10" height="3.40" fill="#1E9CD8"/>
<rect x="199.45" y="93.80" width="6.10" height="3.40" fill="#BCBCC0"/>
<rect x="214.15" y="93.80" width="6.10" height="3.40" fill="#1E9CD8"/>
<rect x="221.50" y="93.80" width="6.10" height="3.40" fill="#1E9CD8"/>
<rect x="240.30" y="93.80" width="6.10" height="3.40" fill="#1E9CD8"/>
<rect x="247.65" y="93.80" width="6.10" height="3.40" fill="#BCBCC0"/>
<rect x="255.00" y="93.80" width="6.10" height="3.40" fill="#1E9CD8"/>
<rect x="262.35" y="93.80" width="6.10" height="3.40" fill="#1E9CD8"/>
<rect x="269.70" y="93.80" width="6.10" height="3.40" fill="#BCBCC0"/>
<rect x="277.05" y="93.80" width="6.10" height="3.40" fill="#1E9CD8"/>
<rect x="284.40" y="93.80" width="6.10" height="3.40" fill="#BCBCC0"/>
<rect x="291.75" y="93.80" width="6.10" height="3.40" fill="#BCBCC0"/>
<rect x="299.10" y="93.80" width="6.10" height="3.40" fill="#BCBCC0"/>
<rect x="306.45" y="93.80" width="6.10" height="3.40" fill="#BCBCC0"/>
<rect x="313.80" y="93.80" width="6.10" height="3.40" fill="#BCBCC0"/>
<rect x="321.15" y="93.80" width="6.10" height="3.40" fill="#BCBCC0"/>
<rect x="328.50" y="93.80" width="6.10" height="3.40" fill="#0E4A83"/>
<rect x="335.85" y="93.80" width="6.10" height="3.40" fill="#BCBCC0"/>
<rect x="343.20" y="93.80" width="6.10" height="3.40" fill="#BCBCC0"/>
<rect x="350.55" y="93.80" width="6.10" height="3.40" fill="#BCBCC0"/>
<rect x="357.90" y="93.80" width="6.10" height="3.40" fill="#1E9CD8"/>
<rect x="365.25" y="93.80" width="6.10" height="3.40" fill="#0E4A83"/>
<rect x="379.95" y="93.80" width="6.10" height="3.40" fill="#0E4A83"/>
<rect x="387.30" y="93.80" width="6.10" height="3.40" fill="#BCBCC0"/>
<rect x="394.65" y="93.80" width="6.10" height="3.40" fill="#BCBCC0"/>
<rect x="402.00" y="93.80" width="6.10" height="3.40" fill="#BCBCC0"/>
<rect x="409.35" y="93.80" width="6.10" height="3.40" fill="#1E9CD8"/>
<rect x="416.70" y="93.80" width="6.10" height="3.40" fill="#BCBCC0"/>
<rect x="424.05" y="93.80" width="6.10" height="3.40" fill="#BCBCC0"/>
<rect x="40.80" y="98.80" width="6.10" height="3.40" fill="#1E9CD8"/>
<rect x="48.15" y="98.80" width="6.10" height="3.40" fill="#1E9CD8"/>
<rect x="55.50" y="98.80" width="6.10" height="3.40" fill="#1E9CD8"/>
<rect x="62.85" y="98.80" width="6.10" height="3.40" fill="#1E9CD8"/>
<rect x="70.20" y="98.80" width="6.10" height="3.40" fill="#1E9CD8"/>
<rect x="77.55" y="98.80" width="6.10" height="3.40" fill="#1E9CD8"/>
<rect x="84.90" y="98.80" width="6.10" height="3.40" fill="#1E9CD8"/>
<rect x="92.25" y="98.80" width="6.10" height="3.40" fill="#1E9CD8"/>
<rect x="99.60" y="98.80" width="6.10" height="3.40" fill="#BCBCC0"/>
<rect x="106.95" y="98.80" width="6.10" height="3.40" fill="#BCBCC0"/>
<rect x="114.30" y="98.80" width="6.10" height="3.40" fill="#BCBCC0"/>
<rect x="121.65" y="98.80" width="6.10" height="3.40" fill="#BCBCC0"/>
<rect x="129.00" y="98.80" width="6.10" height="3.40" fill="#BCBCC0"/>
<rect x="148.00" y="98.80" width="6.10" height="3.40" fill="#1E9CD8"/>
<rect x="155.35" y="98.80" width="6.10" height="3.40" fill="#BCBCC0"/>
<rect x="162.70" y="98.80" width="6.10" height="3.40" fill="#1E9CD8"/>
<rect x="170.05" y="98.80" width="6.10" height="3.40" fill="#BCBCC0"/>
<rect x="177.40" y="98.80" width="6.10" height="3.40" fill="#BCBCC0"/>
<rect x="184.75" y="98.80" width="6.10" height="3.40" fill="#1E9CD8"/>
<rect x="192.10" y="98.80" width="6.10" height="3.40" fill="#BCBCC0"/>
<rect x="199.45" y="98.80" width="6.10" height="3.40" fill="#BCBCC0"/>
<rect x="206.80" y="98.80" width="6.10" height="3.40" fill="#BCBCC0"/>
<rect x="214.15" y="98.80" width="6.10" height="3.40" fill="#1E9CD8"/>
<rect x="221.50" y="98.80" width="6.10" height="3.40" fill="#1E9CD8"/>
<rect x="240.30" y="98.80" width="6.10" height="3.40" fill="#BCBCC0"/>
<rect x="247.65" y="98.80" width="6.10" height="3.40" fill="#BCBCC0"/>
<rect x="255.00" y="98.80" width="6.10" height="3.40" fill="#BCBCC0"/>
<rect x="262.35" y="98.80" width="6.10" height="3.40" fill="#1E9CD8"/>
<rect x="269.70" y="98.80" width="6.10" height="3.40" fill="#BCBCC0"/>
<rect x="277.05" y="98.80" width="6.10" height="3.40" fill="#1E9CD8"/>
<rect x="284.40" y="98.80" width="6.10" height="3.40" fill="#BCBCC0"/>
<rect x="291.75" y="98.80" width="6.10" height="3.40" fill="#BCBCC0"/>
<rect x="299.10" y="98.80" width="6.10" height="3.40" fill="#BCBCC0"/>
<rect x="306.45" y="98.80" width="6.10" height="3.40" fill="#BCBCC0"/>
<rect x="313.80" y="98.80" width="6.10" height="3.40" fill="#BCBCC0"/>
<rect x="321.15" y="98.80" width="6.10" height="3.40" fill="#BCBCC0"/>
<rect x="328.50" y="98.80" width="6.10" height="3.40" fill="#BCBCC0"/>
<rect x="335.85" y="98.80" width="6.10" height="3.40" fill="#BCBCC0"/>
<rect x="343.20" y="98.80" width="6.10" height="3.40" fill="#BCBCC0"/>
<rect x="350.55" y="98.80" width="6.10" height="3.40" fill="#BCBCC0"/>
<rect x="357.90" y="98.80" width="6.10" height="3.40" fill="#BCBCC0"/>
<rect x="365.25" y="98.80" width="6.10" height="3.40" fill="#BCBCC0"/>
<rect x="372.60" y="98.80" width="6.10" height="3.40" fill="#BCBCC0"/>
<rect x="379.95" y="98.80" width="6.10" height="3.40" fill="#1E9CD8"/>
<rect x="387.30" y="98.80" width="6.10" height="3.40" fill="#BCBCC0"/>
<rect x="394.65" y="98.80" width="6.10" height="3.40" fill="#BCBCC0"/>
<rect x="402.00" y="98.80" width="6.10" height="3.40" fill="#1E9CD8"/>
<rect x="409.35" y="98.80" width="6.10" height="3.40" fill="#BCBCC0"/>
<rect x="416.70" y="98.80" width="6.10" height="3.40" fill="#BCBCC0"/>
<rect x="424.05" y="98.80" width="6.10" height="3.40" fill="#BCBCC0"/>
<rect x="40.80" y="103.80" width="6.10" height="3.40" fill="#BCBCC0"/>
<rect x="48.15" y="103.80" width="6.10" height="3.40" fill="#BCBCC0"/>
<rect x="62.85" y="103.80" width="6.10" height="3.40" fill="#BCBCC0"/>
<rect x="70.20" y="103.80" width="6.10" height="3.40" fill="#BCBCC0"/>
<rect x="77.55" y="103.80" width="6.10" height="3.40" fill="#BCBCC0"/>
<rect x="84.90" y="103.80" width="6.10" height="3.40" fill="#BCBCC0"/>
<rect x="92.25" y="103.80" width="6.10" height="3.40" fill="#BCBCC0"/>
<rect x="99.60" y="103.80" width="6.10" height="3.40" fill="#BCBCC0"/>
<rect x="106.95" y="103.80" width="6.10" height="3.40" fill="#BCBCC0"/>
<rect x="114.30" y="103.80" width="6.10" height="3.40" fill="#BCBCC0"/>
<rect x="121.65" y="103.80" width="6.10" height="3.40" fill="#BCBCC0"/>
<rect x="129.00" y="103.80" width="6.10" height="3.40" fill="#BCBCC0"/>
<rect x="148.00" y="103.80" width="6.10" height="3.40" fill="#BCBCC0"/>
<rect x="155.35" y="103.80" width="6.10" height="3.40" fill="#1E9CD8"/>
<rect x="162.70" y="103.80" width="6.10" height="3.40" fill="#BCBCC0"/>
<rect x="170.05" y="103.80" width="6.10" height="3.40" fill="#BCBCC0"/>
<rect x="184.75" y="103.80" width="6.10" height="3.40" fill="#BCBCC0"/>
<rect x="192.10" y="103.80" width="6.10" height="3.40" fill="#BCBCC0"/>
<rect x="199.45" y="103.80" width="6.10" height="3.40" fill="#1E9CD8"/>
<rect x="214.15" y="103.80" width="6.10" height="3.40" fill="#BCBCC0"/>
<rect x="221.50" y="103.80" width="6.10" height="3.40" fill="#BCBCC0"/>
<rect x="240.30" y="103.80" width="6.10" height="3.40" fill="#1E9CD8"/>
<rect x="247.65" y="103.80" width="6.10" height="3.40" fill="#1E9CD8"/>
<rect x="255.00" y="103.80" width="6.10" height="3.40" fill="#1E9CD8"/>
<rect x="262.35" y="103.80" width="6.10" height="3.40" fill="#BCBCC0"/>
<rect x="269.70" y="103.80" width="6.10" height="3.40" fill="#BCBCC0"/>
<rect x="277.05" y="103.80" width="6.10" height="3.40" fill="#BCBCC0"/>
<rect x="284.40" y="103.80" width="6.10" height="3.40" fill="#BCBCC0"/>
<rect x="291.75" y="103.80" width="6.10" height="3.40" fill="#BCBCC0"/>
<rect x="299.10" y="103.80" width="6.10" height="3.40" fill="#BCBCC0"/>
<rect x="306.45" y="103.80" width="6.10" height="3.40" fill="#BCBCC0"/>
<rect x="313.80" y="103.80" width="6.10" height="3.40" fill="#BCBCC0"/>
<rect x="321.15" y="103.80" width="6.10" height="3.40" fill="#1E9CD8"/>
<rect x="328.50" y="103.80" width="6.10" height="3.40" fill="#BCBCC0"/>
<rect x="335.85" y="103.80" width="6.10" height="3.40" fill="#1E9CD8"/>
<rect x="343.20" y="103.80" width="6.10" height="3.40" fill="#1E9CD8"/>
<rect x="350.55" y="103.80" width="6.10" height="3.40" fill="#1E9CD8"/>
<rect x="357.90" y="103.80" width="6.10" height="3.40" fill="#BCBCC0"/>
<rect x="365.25" y="103.80" width="6.10" height="3.40" fill="#1E9CD8"/>
<rect x="379.95" y="103.80" width="6.10" height="3.40" fill="#1E9CD8"/>
<rect x="387.30" y="103.80" width="6.10" height="3.40" fill="#1E9CD8"/>
<rect x="394.65" y="103.80" width="6.10" height="3.40" fill="#BCBCC0"/>
<rect x="402.00" y="103.80" width="6.10" height="3.40" fill="#BCBCC0"/>
<rect x="409.35" y="103.80" width="6.10" height="3.40" fill="#BCBCC0"/>
<rect x="416.70" y="103.80" width="6.10" height="3.40" fill="#1E9CD8"/>
<rect x="424.05" y="103.80" width="6.10" height="3.40" fill="#BCBCC0"/>
<rect x="40.80" y="108.80" width="6.10" height="3.40" fill="#0E4A83"/>
<rect x="48.15" y="108.80" width="6.10" height="3.40" fill="#BCBCC0"/>
<rect x="62.85" y="108.80" width="6.10" height="3.40" fill="#BCBCC0"/>
<rect x="70.20" y="108.80" width="6.10" height="3.40" fill="#1E9CD8"/>
<rect x="77.55" y="108.80" width="6.10" height="3.40" fill="#1E9CD8"/>
<rect x="84.90" y="108.80" width="6.10" height="3.40" fill="#BCBCC0"/>
<rect x="92.25" y="108.80" width="6.10" height="3.40" fill="#BCBCC0"/>
<rect x="99.60" y="108.80" width="6.10" height="3.40" fill="#BCBCC0"/>
<rect x="106.95" y="108.80" width="6.10" height="3.40" fill="#1E9CD8"/>
<rect x="114.30" y="108.80" width="6.10" height="3.40" fill="#BCBCC0"/>
<rect x="121.65" y="108.80" width="6.10" height="3.40" fill="#BCBCC0"/>
<rect x="129.00" y="108.80" width="6.10" height="3.40" fill="#BCBCC0"/>
<rect x="148.00" y="108.80" width="6.10" height="3.40" fill="#BCBCC0"/>
<rect x="155.35" y="108.80" width="6.10" height="3.40" fill="#0E4A83"/>
<rect x="162.70" y="108.80" width="6.10" height="3.40" fill="#BCBCC0"/>
<rect x="170.05" y="108.80" width="6.10" height="3.40" fill="#BCBCC0"/>
<rect x="184.75" y="108.80" width="6.10" height="3.40" fill="#BCBCC0"/>
<rect x="192.10" y="108.80" width="6.10" height="3.40" fill="#BCBCC0"/>
<rect x="199.45" y="108.80" width="6.10" height="3.40" fill="#BCBCC0"/>
<rect x="214.15" y="108.80" width="6.10" height="3.40" fill="#1E9CD8"/>
<rect x="221.50" y="108.80" width="6.10" height="3.40" fill="#BCBCC0"/>
<rect x="240.30" y="108.80" width="6.10" height="3.40" fill="#BCBCC0"/>
<rect x="247.65" y="108.80" width="6.10" height="3.40" fill="#BCBCC0"/>
<rect x="255.00" y="108.80" width="6.10" height="3.40" fill="#1E9CD8"/>
<rect x="262.35" y="108.80" width="6.10" height="3.40" fill="#1E9CD8"/>
<rect x="269.70" y="108.80" width="6.10" height="3.40" fill="#BCBCC0"/>
<rect x="277.05" y="108.80" width="6.10" height="3.40" fill="#1E9CD8"/>
<rect x="284.40" y="108.80" width="6.10" height="3.40" fill="#BCBCC0"/>
<rect x="291.75" y="108.80" width="6.10" height="3.40" fill="#BCBCC0"/>
<rect x="299.10" y="108.80" width="6.10" height="3.40" fill="#BCBCC0"/>
<rect x="306.45" y="108.80" width="6.10" height="3.40" fill="#BCBCC0"/>
<rect x="313.80" y="108.80" width="6.10" height="3.40" fill="#BCBCC0"/>
<rect x="321.15" y="108.80" width="6.10" height="3.40" fill="#BCBCC0"/>
<rect x="328.50" y="108.80" width="6.10" height="3.40" fill="#0E4A83"/>
<rect x="335.85" y="108.80" width="6.10" height="3.40" fill="#BCBCC0"/>
<rect x="343.20" y="108.80" width="6.10" height="3.40" fill="#BCBCC0"/>
<rect x="350.55" y="108.80" width="6.10" height="3.40" fill="#BCBCC0"/>
<rect x="357.90" y="108.80" width="6.10" height="3.40" fill="#1E9CD8"/>
<rect x="365.25" y="108.80" width="6.10" height="3.40" fill="#BCBCC0"/>
<rect x="379.95" y="108.80" width="6.10" height="3.40" fill="#BCBCC0"/>
<rect x="387.30" y="108.80" width="6.10" height="3.40" fill="#BCBCC0"/>
<rect x="394.65" y="108.80" width="6.10" height="3.40" fill="#BCBCC0"/>
<rect x="402.00" y="108.80" width="6.10" height="3.40" fill="#BCBCC0"/>
<rect x="409.35" y="108.80" width="6.10" height="3.40" fill="#BCBCC0"/>
<rect x="416.70" y="108.80" width="6.10" height="3.40" fill="#BCBCC0"/>
<rect x="424.05" y="108.80" width="6.10" height="3.40" fill="#BCBCC0"/>
<rect x="40.80" y="113.80" width="6.10" height="3.40" fill="#1E9CD8"/>
<rect x="48.15" y="113.80" width="6.10" height="3.40" fill="#BCBCC0"/>
<rect x="62.85" y="113.80" width="6.10" height="3.40" fill="#BCBCC0"/>
<rect x="70.20" y="113.80" width="6.10" height="3.40" fill="#0E4A83"/>
<rect x="77.55" y="113.80" width="6.10" height="3.40" fill="#BCBCC0"/>
<rect x="84.90" y="113.80" width="6.10" height="3.40" fill="#BCBCC0"/>
<rect x="92.25" y="113.80" width="6.10" height="3.40" fill="#BCBCC0"/>
<rect x="99.60" y="113.80" width="6.10" height="3.40" fill="#BCBCC0"/>
<rect x="106.95" y="113.80" width="6.10" height="3.40" fill="#BCBCC0"/>
<rect x="114.30" y="113.80" width="6.10" height="3.40" fill="#BCBCC0"/>
<rect x="121.65" y="113.80" width="6.10" height="3.40" fill="#BCBCC0"/>
<rect x="129.00" y="113.80" width="6.10" height="3.40" fill="#BCBCC0"/>
<rect x="148.00" y="113.80" width="6.10" height="3.40" fill="#BCBCC0"/>
<rect x="155.35" y="113.80" width="6.10" height="3.40" fill="#BCBCC0"/>
<rect x="162.70" y="113.80" width="6.10" height="3.40" fill="#BCBCC0"/>
<rect x="170.05" y="113.80" width="6.10" height="3.40" fill="#BCBCC0"/>
<rect x="184.75" y="113.80" width="6.10" height="3.40" fill="#1E9CD8"/>
<rect x="192.10" y="113.80" width="6.10" height="3.40" fill="#BCBCC0"/>
<rect x="199.45" y="113.80" width="6.10" height="3.40" fill="#BCBCC0"/>
<rect x="214.15" y="113.80" width="6.10" height="3.40" fill="#1E9CD8"/>
<rect x="221.50" y="113.80" width="6.10" height="3.40" fill="#1E9CD8"/>
<rect x="240.30" y="113.80" width="6.10" height="3.40" fill="#BCBCC0"/>
<rect x="247.65" y="113.80" width="6.10" height="3.40" fill="#BCBCC0"/>
<rect x="255.00" y="113.80" width="6.10" height="3.40" fill="#0E4A83"/>
<rect x="262.35" y="113.80" width="6.10" height="3.40" fill="#1E9CD8"/>
<rect x="269.70" y="113.80" width="6.10" height="3.40" fill="#BCBCC0"/>
<rect x="277.05" y="113.80" width="6.10" height="3.40" fill="#BCBCC0"/>
<rect x="284.40" y="113.80" width="6.10" height="3.40" fill="#BCBCC0"/>
<rect x="291.75" y="113.80" width="6.10" height="3.40" fill="#BCBCC0"/>
<rect x="299.10" y="113.80" width="6.10" height="3.40" fill="#BCBCC0"/>
<rect x="306.45" y="113.80" width="6.10" height="3.40" fill="#BCBCC0"/>
<rect x="313.80" y="113.80" width="6.10" height="3.40" fill="#BCBCC0"/>
<rect x="321.15" y="113.80" width="6.10" height="3.40" fill="#BCBCC0"/>
<rect x="328.50" y="113.80" width="6.10" height="3.40" fill="#0E4A83"/>
<rect x="335.85" y="113.80" width="6.10" height="3.40" fill="#BCBCC0"/>
<rect x="343.20" y="113.80" width="6.10" height="3.40" fill="#BCBCC0"/>
<rect x="350.55" y="113.80" width="6.10" height="3.40" fill="#BCBCC0"/>
<rect x="357.90" y="113.80" width="6.10" height="3.40" fill="#BCBCC0"/>
<rect x="365.25" y="113.80" width="6.10" height="3.40" fill="#BCBCC0"/>
<rect x="379.95" y="113.80" width="6.10" height="3.40" fill="#1E9CD8"/>
<rect x="387.30" y="113.80" width="6.10" height="3.40" fill="#BCBCC0"/>
<rect x="394.65" y="113.80" width="6.10" height="3.40" fill="#BCBCC0"/>
<rect x="402.00" y="113.80" width="6.10" height="3.40" fill="#BCBCC0"/>
<rect x="409.35" y="113.80" width="6.10" height="3.40" fill="#BCBCC0"/>
<rect x="416.70" y="113.80" width="6.10" height="3.40" fill="#1E9CD8"/>
<rect x="424.05" y="113.80" width="6.10" height="3.40" fill="#BCBCC0"/>
<rect x="40.80" y="118.80" width="6.10" height="3.40" fill="#BCBCC0"/>
<rect x="48.15" y="118.80" width="6.10" height="3.40" fill="#BCBCC0"/>
<rect x="62.85" y="118.80" width="6.10" height="3.40" fill="#1E9CD8"/>
<rect x="70.20" y="118.80" width="6.10" height="3.40" fill="#BCBCC0"/>
<rect x="77.55" y="118.80" width="6.10" height="3.40" fill="#1E9CD8"/>
<rect x="84.90" y="118.80" width="6.10" height="3.40" fill="#BCBCC0"/>
<rect x="92.25" y="118.80" width="6.10" height="3.40" fill="#BCBCC0"/>
<rect x="99.60" y="118.80" width="6.10" height="3.40" fill="#BCBCC0"/>
<rect x="106.95" y="118.80" width="6.10" height="3.40" fill="#BCBCC0"/>
<rect x="114.30" y="118.80" width="6.10" height="3.40" fill="#BCBCC0"/>
<rect x="121.65" y="118.80" width="6.10" height="3.40" fill="#BCBCC0"/>
<rect x="129.00" y="118.80" width="6.10" height="3.40" fill="#BCBCC0"/>
<rect x="148.00" y="118.80" width="6.10" height="3.40" fill="#BCBCC0"/>
<rect x="155.35" y="118.80" width="6.10" height="3.40" fill="#BCBCC0"/>
<rect x="162.70" y="118.80" width="6.10" height="3.40" fill="#BCBCC0"/>
<rect x="170.05" y="118.80" width="6.10" height="3.40" fill="#BCBCC0"/>
<rect x="184.75" y="118.80" width="6.10" height="3.40" fill="#BCBCC0"/>
<rect x="192.10" y="118.80" width="6.10" height="3.40" fill="#BCBCC0"/>
<rect x="199.45" y="118.80" width="6.10" height="3.40" fill="#1E9CD8"/>
<rect x="214.15" y="118.80" width="6.10" height="3.40" fill="#BCBCC0"/>
<rect x="221.50" y="118.80" width="6.10" height="3.40" fill="#BCBCC0"/>
<rect x="240.30" y="118.80" width="6.10" height="3.40" fill="#BCBCC0"/>
<rect x="247.65" y="118.80" width="6.10" height="3.40" fill="#BCBCC0"/>
<rect x="255.00" y="118.80" width="6.10" height="3.40" fill="#1E9CD8"/>
<rect x="262.35" y="118.80" width="6.10" height="3.40" fill="#1E9CD8"/>
<rect x="269.70" y="118.80" width="6.10" height="3.40" fill="#BCBCC0"/>
<rect x="277.05" y="118.80" width="6.10" height="3.40" fill="#BCBCC0"/>
<rect x="284.40" y="118.80" width="6.10" height="3.40" fill="#1E9CD8"/>
<rect x="291.75" y="118.80" width="6.10" height="3.40" fill="#BCBCC0"/>
<rect x="299.10" y="118.80" width="6.10" height="3.40" fill="#1E9CD8"/>
<rect x="306.45" y="118.80" width="6.10" height="3.40" fill="#BCBCC0"/>
<rect x="313.80" y="118.80" width="6.10" height="3.40" fill="#BCBCC0"/>
<rect x="321.15" y="118.80" width="6.10" height="3.40" fill="#BCBCC0"/>
<rect x="328.50" y="118.80" width="6.10" height="3.40" fill="#BCBCC0"/>
<rect x="335.85" y="118.80" width="6.10" height="3.40" fill="#BCBCC0"/>
<rect x="343.20" y="118.80" width="6.10" height="3.40" fill="#BCBCC0"/>
<rect x="350.55" y="118.80" width="6.10" height="3.40" fill="#BCBCC0"/>
<rect x="357.90" y="118.80" width="6.10" height="3.40" fill="#BCBCC0"/>
<rect x="365.25" y="118.80" width="6.10" height="3.40" fill="#1E9CD8"/>
<rect x="379.95" y="118.80" width="6.10" height="3.40" fill="#BCBCC0"/>
<rect x="387.30" y="118.80" width="6.10" height="3.40" fill="#1E9CD8"/>
<rect x="394.65" y="118.80" width="6.10" height="3.40" fill="#BCBCC0"/>
<rect x="402.00" y="118.80" width="6.10" height="3.40" fill="#BCBCC0"/>
<rect x="409.35" y="118.80" width="6.10" height="3.40" fill="#1E9CD8"/>
<rect x="416.70" y="118.80" width="6.10" height="3.40" fill="#BCBCC0"/>
<rect x="424.05" y="118.80" width="6.10" height="3.40" fill="#BCBCC0"/>
<rect x="40.80" y="123.80" width="6.10" height="3.40" fill="#BCBCC0"/>
<rect x="48.15" y="123.80" width="6.10" height="3.40" fill="#BCBCC0"/>
<rect x="55.50" y="123.80" width="6.10" height="3.40" fill="#BCBCC0"/>
<rect x="62.85" y="123.80" width="6.10" height="3.40" fill="#BCBCC0"/>
<rect x="70.20" y="123.80" width="6.10" height="3.40" fill="#BCBCC0"/>
<rect x="77.55" y="123.80" width="6.10" height="3.40" fill="#BCBCC0"/>
<rect x="84.90" y="123.80" width="6.10" height="3.40" fill="#BCBCC0"/>
<rect x="92.25" y="123.80" width="6.10" height="3.40" fill="#BCBCC0"/>
<rect x="99.60" y="123.80" width="6.10" height="3.40" fill="#BCBCC0"/>
<rect x="106.95" y="123.80" width="6.10" height="3.40" fill="#BCBCC0"/>
<rect x="114.30" y="123.80" width="6.10" height="3.40" fill="#BCBCC0"/>
<rect x="121.65" y="123.80" width="6.10" height="3.40" fill="#BCBCC0"/>
<rect x="129.00" y="123.80" width="6.10" height="3.40" fill="#BCBCC0"/>
<rect x="148.00" y="123.80" width="6.10" height="3.40" fill="#BCBCC0"/>
<rect x="155.35" y="123.80" width="6.10" height="3.40" fill="#1E9CD8"/>
<rect x="162.70" y="123.80" width="6.10" height="3.40" fill="#0E4A83"/>
<rect x="170.05" y="123.80" width="6.10" height="3.40" fill="#0E4A83"/>
<rect x="177.40" y="123.80" width="6.10" height="3.40" fill="#0E4A83"/>
<rect x="184.75" y="123.80" width="6.10" height="3.40" fill="#1E9CD8"/>
<rect x="192.10" y="123.80" width="6.10" height="3.40" fill="#0E4A83"/>
<rect x="199.45" y="123.80" width="6.10" height="3.40" fill="#BCBCC0"/>
<circle cx="202.50" cy="125.50" r="0.8" fill="#1a1a1a"/>
<rect x="206.80" y="123.80" width="6.10" height="3.40" fill="#BCBCC0"/>
<rect x="214.15" y="123.80" width="6.10" height="3.40" fill="#1E9CD8"/>
<rect x="221.50" y="123.80" width="6.10" height="3.40" fill="#1E9CD8"/>
<rect x="240.30" y="123.80" width="6.10" height="3.40" fill="#BCBCC0"/>
<rect x="247.65" y="123.80" width="6.10" height="3.40" fill="#BCBCC0"/>
<rect x="255.00" y="123.80" width="6.10" height="3.40" fill="#BCBCC0"/>
<rect x="262.35" y="123.80" width="6.10" height="3.40" fill="#BCBCC0"/>
<rect x="269.70" y="123.80" width="6.10" height="3.40" fill="#BCBCC0"/>
<rect x="277.05" y="123.80" width="6.10" height="3.40" fill="#BCBCC0"/>
<rect x="284.40" y="123.80" width="6.10" height="3.40" fill="#BCBCC0"/>
<rect x="291.75" y="123.80" width="6.10" height="3.40" fill="#BCBCC0"/>
<rect x="299.10" y="123.80" width="6.10" height="3.40" fill="#BCBCC0"/>
<rect x="306.45" y="123.80" width="6.10" height="3.40" fill="#BCBCC0"/>
<rect x="313.80" y="123.80" width="6.10" height="3.40" fill="#BCBCC0"/>
<rect x="321.15" y="123.80" width="6.10" height="3.40" fill="#BCBCC0"/>
<circle cx="324.20" cy="125.50" r="0.8" fill="#1a1a1a"/>
<rect x="328.50" y="123.80" width="6.10" height="3.40" fill="#BCBCC0"/>
<rect x="335.85" y="123.80" width="6.10" height="3.40" fill="#BCBCC0"/>
<rect x="343.20" y="123.80" width="6.10" height="3.40" fill="#BCBCC0"/>
<rect x="350.55" y="123.80" width="6.10" height="3.40" fill="#BCBCC0"/>
<rect x="357.90" y="123.80" width="6.10" height="3.40" fill="#BCBCC0"/>
<rect x="365.25" y="123.80" width="6.10" height="3.40" fill="#BCBCC0"/>
<rect x="372.60" y="123.80" width="6.10" height="3.40" fill="#BCBCC0"/>
<rect x="379.95" y="123.80" width="6.10" height="3.40" fill="#BCBCC0"/>
<rect x="387.30" y="123.80" width="6.10" height="3.40" fill="#BCBCC0"/>
<rect x="394.65" y="123.80" width="6.10" height="3.40" fill="#BCBCC0"/>
<rect x="402.00" y="123.80" width="6.10" height="3.40" fill="#BCBCC0"/>
<rect x="409.35" y="123.80" width="6.10" height="3.40" fill="#BCBCC0"/>
<rect x="416.70" y="123.80" width="6.10" height="3.40" fill="#BCBCC0"/>
<rect x="424.05" y="123.80" width="6.10" height="3.40" fill="#BCBCC0"/>
<rect x="40.80" y="128.80" width="6.10" height="3.40" fill="#BCBCC0"/>
<rect x="48.15" y="128.80" width="6.10" height="3.40" fill="#BCBCC0"/>
<rect x="62.85" y="128.80" width="6.10" height="3.40" fill="#BCBCC0"/>
<rect x="70.20" y="128.80" width="6.10" height="3.40" fill="#BCBCC0"/>
<rect x="77.55" y="128.80" width="6.10" height="3.40" fill="#BCBCC0"/>
<rect x="84.90" y="128.80" width="6.10" height="3.40" fill="#1E9CD8"/>
<rect x="92.25" y="128.80" width="6.10" height="3.40" fill="#BCBCC0"/>
<rect x="99.60" y="128.80" width="6.10" height="3.40" fill="#BCBCC0"/>
<rect x="106.95" y="128.80" width="6.10" height="3.40" fill="#1E9CD8"/>
<rect x="114.30" y="128.80" width="6.10" height="3.40" fill="#BCBCC0"/>
<rect x="121.65" y="128.80" width="6.10" height="3.40" fill="#BCBCC0"/>
<rect x="129.00" y="128.80" width="6.10" height="3.40" fill="#BCBCC0"/>
<rect x="148.00" y="128.80" width="6.10" height="3.40" fill="#BCBCC0"/>
<rect x="155.35" y="128.80" width="6.10" height="3.40" fill="#0E4A83"/>
<rect x="162.70" y="128.80" width="6.10" height="3.40" fill="#BCBCC0"/>
<rect x="170.05" y="128.80" width="6.10" height="3.40" fill="#BCBCC0"/>
<rect x="184.75" y="128.80" width="6.10" height="3.40" fill="#BCBCC0"/>
<rect x="192.10" y="128.80" width="6.10" height="3.40" fill="#BCBCC0"/>
<rect x="199.45" y="128.80" width="6.10" height="3.40" fill="#BCBCC0"/>
<rect x="214.15" y="128.80" width="6.10" height="3.40" fill="#BCBCC0"/>
<rect x="221.50" y="128.80" width="6.10" height="3.40" fill="#BCBCC0"/>
<rect x="240.30" y="128.80" width="6.10" height="3.40" fill="#BCBCC0"/>
<rect x="247.65" y="128.80" width="6.10" height="3.40" fill="#BCBCC0"/>
<rect x="255.00" y="128.80" width="6.10" height="3.40" fill="#1E9CD8"/>
<rect x="262.35" y="128.80" width="6.10" height="3.40" fill="#BCBCC0"/>
<rect x="269.70" y="128.80" width="6.10" height="3.40" fill="#1E9CD8"/>
<rect x="277.05" y="128.80" width="6.10" height="3.40" fill="#BCBCC0"/>
<rect x="284.40" y="128.80" width="6.10" height="3.40" fill="#BCBCC0"/>
<rect x="291.75" y="128.80" width="6.10" height="3.40" fill="#1E9CD8"/>
<rect x="299.10" y="128.80" width="6.10" height="3.40" fill="#BCBCC0"/>
<rect x="306.45" y="128.80" width="6.10" height="3.40" fill="#BCBCC0"/>
<rect x="313.80" y="128.80" width="6.10" height="3.40" fill="#BCBCC0"/>
<rect x="321.15" y="128.80" width="6.10" height="3.40" fill="#BCBCC0"/>
<rect x="328.50" y="128.80" width="6.10" height="3.40" fill="#0E4A83"/>
<rect x="335.85" y="128.80" width="6.10" height="3.40" fill="#BCBCC0"/>
<rect x="343.20" y="128.80" width="6.10" height="3.40" fill="#BCBCC0"/>
<rect x="350.55" y="128.80" width="6.10" height="3.40" fill="#BCBCC0"/>
<rect x="357.90" y="128.80" width="6.10" height="3.40" fill="#BCBCC0"/>
<rect x="365.25" y="128.80" width="6.10" height="3.40" fill="#BCBCC0"/>
<rect x="379.95" y="128.80" width="6.10" height="3.40" fill="#BCBCC0"/>
<rect x="387.30" y="128.80" width="6.10" height="3.40" fill="#1E9CD8"/>
<rect x="394.65" y="128.80" width="6.10" height="3.40" fill="#BCBCC0"/>
<rect x="402.00" y="128.80" width="6.10" height="3.40" fill="#BCBCC0"/>
<rect x="409.35" y="128.80" width="6.10" height="3.40" fill="#BCBCC0"/>
<rect x="416.70" y="128.80" width="6.10" height="3.40" fill="#BCBCC0"/>
<rect x="424.05" y="128.80" width="6.10" height="3.40" fill="#BCBCC0"/>
<rect x="40.80" y="133.80" width="6.10" height="3.40" fill="#BCBCC0"/>
<rect x="48.15" y="133.80" width="6.10" height="3.40" fill="#BCBCC0"/>
<rect x="55.50" y="133.80" width="6.10" height="3.40" fill="#BCBCC0"/>
<rect x="62.85" y="133.80" width="6.10" height="3.40" fill="#BCBCC0"/>
<rect x="70.20" y="133.80" width="6.10" height="3.40" fill="#BCBCC0"/>
<rect x="77.55" y="133.80" width="6.10" height="3.40" fill="#BCBCC0"/>
<rect x="84.90" y="133.80" width="6.10" height="3.40" fill="#BCBCC0"/>
<rect x="92.25" y="133.80" width="6.10" height="3.40" fill="#BCBCC0"/>
<rect x="99.60" y="133.80" width="6.10" height="3.40" fill="#BCBCC0"/>
<rect x="106.95" y="133.80" width="6.10" height="3.40" fill="#BCBCC0"/>
<rect x="114.30" y="133.80" width="6.10" height="3.40" fill="#BCBCC0"/>
<rect x="121.65" y="133.80" width="6.10" height="3.40" fill="#BCBCC0"/>
<rect x="129.00" y="133.80" width="6.10" height="3.40" fill="#BCBCC0"/>
<rect x="148.00" y="133.80" width="6.10" height="3.40" fill="#BCBCC0"/>
<rect x="155.35" y="133.80" width="6.10" height="3.40" fill="#BCBCC0"/>
<rect x="162.70" y="133.80" width="6.10" height="3.40" fill="#BCBCC0"/>
<rect x="170.05" y="133.80" width="6.10" height="3.40" fill="#BCBCC0"/>
<rect x="177.40" y="133.80" width="6.10" height="3.40" fill="#BCBCC0"/>
<rect x="184.75" y="133.80" width="6.10" height="3.40" fill="#BCBCC0"/>
<rect x="192.10" y="133.80" width="6.10" height="3.40" fill="#BCBCC0"/>
<rect x="199.45" y="133.80" width="6.10" height="3.40" fill="#BCBCC0"/>
<rect x="206.80" y="133.80" width="6.10" height="3.40" fill="#BCBCC0"/>
<rect x="214.15" y="133.80" width="6.10" height="3.40" fill="#BCBCC0"/>
<rect x="221.50" y="133.80" width="6.10" height="3.40" fill="#BCBCC0"/>
<rect x="240.30" y="133.80" width="6.10" height="3.40" fill="#1E9CD8"/>
<rect x="247.65" y="133.80" width="6.10" height="3.40" fill="#1E9CD8"/>
<rect x="255.00" y="133.80" width="6.10" height="3.40" fill="#BCBCC0"/>
<rect x="262.35" y="133.80" width="6.10" height="3.40" fill="#BCBCC0"/>
<rect x="269.70" y="133.80" width="6.10" height="3.40" fill="#BCBCC0"/>
<rect x="277.05" y="133.80" width="6.10" height="3.40" fill="#BCBCC0"/>
<rect x="284.40" y="133.80" width="6.10" height="3.40" fill="#BCBCC0"/>
<rect x="291.75" y="133.80" width="6.10" height="3.40" fill="#BCBCC0"/>
<rect x="299.10" y="133.80" width="6.10" height="3.40" fill="#BCBCC0"/>
<rect x="306.45" y="133.80" width="6.10" height="3.40" fill="#BCBCC0"/>
<rect x="313.80" y="133.80" width="6.10" height="3.40" fill="#BCBCC0"/>
<rect x="321.15" y="133.80" width="6.10" height="3.40" fill="#BCBCC0"/>
<rect x="328.50" y="133.80" width="6.10" height="3.40" fill="#0E4A83"/>
<rect x="335.85" y="133.80" width="6.10" height="3.40" fill="#1E9CD8"/>
<rect x="343.20" y="133.80" width="6.10" height="3.40" fill="#BCBCC0"/>
<rect x="350.55" y="133.80" width="6.10" height="3.40" fill="#1E9CD8"/>
<rect x="357.90" y="133.80" width="6.10" height="3.40" fill="#0E4A83"/>
<rect x="365.25" y="133.80" width="6.10" height="3.40" fill="#1E9CD8"/>
<rect x="372.60" y="133.80" width="6.10" height="3.40" fill="#BCBCC0"/>
<rect x="379.95" y="133.80" width="6.10" height="3.40" fill="#BCBCC0"/>
<rect x="387.30" y="133.80" width="6.10" height="3.40" fill="#BCBCC0"/>
<rect x="394.65" y="133.80" width="6.10" height="3.40" fill="#BCBCC0"/>
<rect x="402.00" y="133.80" width="6.10" height="3.40" fill="#BCBCC0"/>
<rect x="409.35" y="133.80" width="6.10" height="3.40" fill="#BCBCC0"/>
<rect x="416.70" y="133.80" width="6.10" height="3.40" fill="#BCBCC0"/>
<rect x="424.05" y="133.80" width="6.10" height="3.40" fill="#BCBCC0"/>
<rect x="40.80" y="138.80" width="6.10" height="3.40" fill="#0E4A83"/>
<rect x="48.15" y="138.80" width="6.10" height="3.40" fill="#BCBCC0"/>
<rect x="62.85" y="138.80" width="6.10" height="3.40" fill="#BCBCC0"/>
<rect x="70.20" y="138.80" width="6.10" height="3.40" fill="#BCBCC0"/>
<rect x="77.55" y="138.80" width="6.10" height="3.40" fill="#BCBCC0"/>
<rect x="84.90" y="138.80" width="6.10" height="3.40" fill="#BCBCC0"/>
<rect x="92.25" y="138.80" width="6.10" height="3.40" fill="#1E9CD8"/>
<rect x="99.60" y="138.80" width="6.10" height="3.40" fill="#BCBCC0"/>
<rect x="106.95" y="138.80" width="6.10" height="3.40" fill="#BCBCC0"/>
<rect x="114.30" y="138.80" width="6.10" height="3.40" fill="#BCBCC0"/>
<rect x="121.65" y="138.80" width="6.10" height="3.40" fill="#BCBCC0"/>
<rect x="129.00" y="138.80" width="6.10" height="3.40" fill="#BCBCC0"/>
<rect x="148.00" y="138.80" width="6.10" height="3.40" fill="#BCBCC0"/>
<rect x="155.35" y="138.80" width="6.10" height="3.40" fill="#BCBCC0"/>
<rect x="162.70" y="138.80" width="6.10" height="3.40" fill="#BCBCC0"/>
<rect x="170.05" y="138.80" width="6.10" height="3.40" fill="#BCBCC0"/>
<rect x="184.75" y="138.80" width="6.10" height="3.40" fill="#1E9CD8"/>
<rect x="192.10" y="138.80" width="6.10" height="3.40" fill="#BCBCC0"/>
<rect x="199.45" y="138.80" width="6.10" height="3.40" fill="#BCBCC0"/>
<rect x="214.15" y="138.80" width="6.10" height="3.40" fill="#0E4A83"/>
<rect x="221.50" y="138.80" width="6.10" height="3.40" fill="#BCBCC0"/>
<rect x="240.30" y="138.80" width="6.10" height="3.40" fill="#1E9CD8"/>
<rect x="247.65" y="138.80" width="6.10" height="3.40" fill="#BCBCC0"/>
<rect x="255.00" y="138.80" width="6.10" height="3.40" fill="#1E9CD8"/>
<rect x="262.35" y="138.80" width="6.10" height="3.40" fill="#BCBCC0"/>
<rect x="269.70" y="138.80" width="6.10" height="3.40" fill="#BCBCC0"/>
<rect x="277.05" y="138.80" width="6.10" height="3.40" fill="#BCBCC0"/>
<rect x="284.40" y="138.80" width="6.10" height="3.40" fill="#BCBCC0"/>
<rect x="291.75" y="138.80" width="6.10" height="3.40" fill="#BCBCC0"/>
<rect x="299.10" y="138.80" width="6.10" height="3.40" fill="#BCBCC0"/>
<rect x="306.45" y="138.80" width="6.10" height="3.40" fill="#BCBCC0"/>
<rect x="313.80" y="138.80" width="6.10" height="3.40" fill="#BCBCC0"/>
<rect x="321.15" y="138.80" width="6.10" height="3.40" fill="#BCBCC0"/>
<rect x="328.50" y="138.80" width="6.10" height="3.40" fill="#BCBCC0"/>
<rect x="335.85" y="138.80" width="6.10" height="3.40" fill="#BCBCC0"/>
<rect x="343.20" y="138.80" width="6.10" height="3.40" fill="#BCBCC0"/>
<rect x="350.55" y="138.80" width="6.10" height="3.40" fill="#BCBCC0"/>
<rect x="357.90" y="138.80" width="6.10" height="3.40" fill="#BCBCC0"/>
<rect x="365.25" y="138.80" width="6.10" height="3.40" fill="#BCBCC0"/>
<rect x="379.95" y="138.80" width="6.10" height="3.40" fill="#BCBCC0"/>
<rect x="387.30" y="138.80" width="6.10" height="3.40" fill="#BCBCC0"/>
<rect x="394.65" y="138.80" width="6.10" height="3.40" fill="#1E9CD8"/>
<rect x="402.00" y="138.80" width="6.10" height="3.40" fill="#BCBCC0"/>
<rect x="409.35" y="138.80" width="6.10" height="3.40" fill="#BCBCC0"/>
<rect x="416.70" y="138.80" width="6.10" height="3.40" fill="#BCBCC0"/>
<rect x="424.05" y="138.80" width="6.10" height="3.40" fill="#BCBCC0"/>
<rect x="40.80" y="143.80" width="6.10" height="3.40" fill="#BCBCC0"/>
<rect x="48.15" y="143.80" width="6.10" height="3.40" fill="#BCBCC0"/>
<rect x="55.50" y="143.80" width="6.10" height="3.40" fill="#BCBCC0"/>
<rect x="62.85" y="143.80" width="6.10" height="3.40" fill="#BCBCC0"/>
<rect x="70.20" y="143.80" width="6.10" height="3.40" fill="#BCBCC0"/>
<rect x="77.55" y="143.80" width="6.10" height="3.40" fill="#BCBCC0"/>
<rect x="84.90" y="143.80" width="6.10" height="3.40" fill="#BCBCC0"/>
<rect x="92.25" y="143.80" width="6.10" height="3.40" fill="#BCBCC0"/>
<rect x="99.60" y="143.80" width="6.10" height="3.40" fill="#BCBCC0"/>
<rect x="106.95" y="143.80" width="6.10" height="3.40" fill="#BCBCC0"/>
<rect x="114.30" y="143.80" width="6.10" height="3.40" fill="#BCBCC0"/>
<rect x="121.65" y="143.80" width="6.10" height="3.40" fill="#BCBCC0"/>
<rect x="129.00" y="143.80" width="6.10" height="3.40" fill="#BCBCC0"/>
<rect x="148.00" y="143.80" width="6.10" height="3.40" fill="#BCBCC0"/>
<rect x="155.35" y="143.80" width="6.10" height="3.40" fill="#BCBCC0"/>
<rect x="162.70" y="143.80" width="6.10" height="3.40" fill="#BCBCC0"/>
<rect x="170.05" y="143.80" width="6.10" height="3.40" fill="#BCBCC0"/>
<rect x="177.40" y="143.80" width="6.10" height="3.40" fill="#BCBCC0"/>
<rect x="184.75" y="143.80" width="6.10" height="3.40" fill="#BCBCC0"/>
<rect x="192.10" y="143.80" width="6.10" height="3.40" fill="#1E9CD8"/>
<rect x="199.45" y="143.80" width="6.10" height="3.40" fill="#1E9CD8"/>
<rect x="206.80" y="143.80" width="6.10" height="3.40" fill="#1E9CD8"/>
<rect x="214.15" y="143.80" width="6.10" height="3.40" fill="#1E9CD8"/>
<rect x="221.50" y="143.80" width="6.10" height="3.40" fill="#BCBCC0"/>
<rect x="240.30" y="143.80" width="6.10" height="3.40" fill="#BCBCC0"/>
<rect x="247.65" y="143.80" width="6.10" height="3.40" fill="#BCBCC0"/>
<rect x="255.00" y="143.80" width="6.10" height="3.40" fill="#BCBCC0"/>
<rect x="262.35" y="143.80" width="6.10" height="3.40" fill="#BCBCC0"/>
<rect x="269.70" y="143.80" width="6.10" height="3.40" fill="#1E9CD8"/>
<rect x="277.05" y="143.80" width="6.10" height="3.40" fill="#BCBCC0"/>
<rect x="284.40" y="143.80" width="6.10" height="3.40" fill="#BCBCC0"/>
<rect x="291.75" y="143.80" width="6.10" height="3.40" fill="#BCBCC0"/>
<rect x="299.10" y="143.80" width="6.10" height="3.40" fill="#BCBCC0"/>
<rect x="306.45" y="143.80" width="6.10" height="3.40" fill="#1E9CD8"/>
<rect x="313.80" y="143.80" width="6.10" height="3.40" fill="#BCBCC0"/>
<rect x="321.15" y="143.80" width="6.10" height="3.40" fill="#BCBCC0"/>
<rect x="328.50" y="143.80" width="6.10" height="3.40" fill="#1E9CD8"/>
<rect x="335.85" y="143.80" width="6.10" height="3.40" fill="#BCBCC0"/>
<rect x="343.20" y="143.80" width="6.10" height="3.40" fill="#BCBCC0"/>
<rect x="350.55" y="143.80" width="6.10" height="3.40" fill="#BCBCC0"/>
<rect x="357.90" y="143.80" width="6.10" height="3.40" fill="#BCBCC0"/>
<rect x="365.25" y="143.80" width="6.10" height="3.40" fill="#BCBCC0"/>
<rect x="372.60" y="143.80" width="6.10" height="3.40" fill="#BCBCC0"/>
<rect x="379.95" y="143.80" width="6.10" height="3.40" fill="#BCBCC0"/>
<rect x="387.30" y="143.80" width="6.10" height="3.40" fill="#BCBCC0"/>
<rect x="394.65" y="143.80" width="6.10" height="3.40" fill="#BCBCC0"/>
<rect x="402.00" y="143.80" width="6.10" height="3.40" fill="#BCBCC0"/>
<rect x="409.35" y="143.80" width="6.10" height="3.40" fill="#BCBCC0"/>
<rect x="416.70" y="143.80" width="6.10" height="3.40" fill="#BCBCC0"/>
<rect x="424.05" y="143.80" width="6.10" height="3.40" fill="#BCBCC0"/>
<rect x="40.80" y="148.80" width="6.10" height="3.40" fill="#BCBCC0"/>
<rect x="48.15" y="148.80" width="6.10" height="3.40" fill="#BCBCC0"/>
<rect x="62.85" y="148.80" width="6.10" height="3.40" fill="#BCBCC0"/>
<rect x="70.20" y="148.80" width="6.10" height="3.40" fill="#BCBCC0"/>
<rect x="77.55" y="148.80" width="6.10" height="3.40" fill="#BCBCC0"/>
<rect x="84.90" y="148.80" width="6.10" height="3.40" fill="#BCBCC0"/>
<rect x="92.25" y="148.80" width="6.10" height="3.40" fill="#BCBCC0"/>
<rect x="99.60" y="148.80" width="6.10" height="3.40" fill="#BCBCC0"/>
<rect x="106.95" y="148.80" width="6.10" height="3.40" fill="#BCBCC0"/>
<rect x="114.30" y="148.80" width="6.10" height="3.40" fill="#1E9CD8"/>
<rect x="121.65" y="148.80" width="6.10" height="3.40" fill="#BCBCC0"/>
<rect x="129.00" y="148.80" width="6.10" height="3.40" fill="#BCBCC0"/>
<rect x="148.00" y="148.80" width="6.10" height="3.40" fill="#BCBCC0"/>
<rect x="155.35" y="148.80" width="6.10" height="3.40" fill="#1E9CD8"/>
<rect x="162.70" y="148.80" width="6.10" height="3.40" fill="#1E9CD8"/>
<rect x="170.05" y="148.80" width="6.10" height="3.40" fill="#1E9CD8"/>
<rect x="184.75" y="148.80" width="6.10" height="3.40" fill="#BCBCC0"/>
<rect x="192.10" y="148.80" width="6.10" height="3.40" fill="#BCBCC0"/>
<rect x="199.45" y="148.80" width="6.10" height="3.40" fill="#BCBCC0"/>
<rect x="214.15" y="148.80" width="6.10" height="3.40" fill="#BCBCC0"/>
<rect x="221.50" y="148.80" width="6.10" height="3.40" fill="#BCBCC0"/>
<rect x="240.30" y="148.80" width="6.10" height="3.40" fill="#BCBCC0"/>
<rect x="247.65" y="148.80" width="6.10" height="3.40" fill="#BCBCC0"/>
<rect x="255.00" y="148.80" width="6.10" height="3.40" fill="#BCBCC0"/>
<rect x="262.35" y="148.80" width="6.10" height="3.40" fill="#BCBCC0"/>
<rect x="269.70" y="148.80" width="6.10" height="3.40" fill="#BCBCC0"/>
<rect x="277.05" y="148.80" width="6.10" height="3.40" fill="#BCBCC0"/>
<rect x="284.40" y="148.80" width="6.10" height="3.40" fill="#BCBCC0"/>
<rect x="291.75" y="148.80" width="6.10" height="3.40" fill="#BCBCC0"/>
<rect x="299.10" y="148.80" width="6.10" height="3.40" fill="#BCBCC0"/>
<rect x="306.45" y="148.80" width="6.10" height="3.40" fill="#BCBCC0"/>
<rect x="313.80" y="148.80" width="6.10" height="3.40" fill="#1E9CD8"/>
<rect x="321.15" y="148.80" width="6.10" height="3.40" fill="#BCBCC0"/>
<rect x="328.50" y="148.80" width="6.10" height="3.40" fill="#BCBCC0"/>
<rect x="335.85" y="148.80" width="6.10" height="3.40" fill="#BCBCC0"/>
<rect x="343.20" y="148.80" width="6.10" height="3.40" fill="#BCBCC0"/>
<rect x="350.55" y="148.80" width="6.10" height="3.40" fill="#BCBCC0"/>
<rect x="357.90" y="148.80" width="6.10" height="3.40" fill="#BCBCC0"/>
<rect x="365.25" y="148.80" width="6.10" height="3.40" fill="#BCBCC0"/>
<rect x="379.95" y="148.80" width="6.10" height="3.40" fill="#BCBCC0"/>
<rect x="387.30" y="148.80" width="6.10" height="3.40" fill="#BCBCC0"/>
<rect x="394.65" y="148.80" width="6.10" height="3.40" fill="#BCBCC0"/>
<rect x="402.00" y="148.80" width="6.10" height="3.40" fill="#1E9CD8"/>
<rect x="409.35" y="148.80" width="6.10" height="3.40" fill="#1E9CD8"/>
<rect x="416.70" y="148.80" width="6.10" height="3.40" fill="#BCBCC0"/>
<rect x="424.05" y="148.80" width="6.10" height="3.40" fill="#BCBCC0"/>
<rect x="40.80" y="153.80" width="6.10" height="3.40" fill="#BCBCC0"/>
<rect x="48.15" y="153.80" width="6.10" height="3.40" fill="#BCBCC0"/>
<rect x="62.85" y="153.80" width="6.10" height="3.40" fill="#BCBCC0"/>
<rect x="70.20" y="153.80" width="6.10" height="3.40" fill="#BCBCC0"/>
<rect x="77.55" y="153.80" width="6.10" height="3.40" fill="#BCBCC0"/>
<rect x="84.90" y="153.80" width="6.10" height="3.40" fill="#BCBCC0"/>
<rect x="92.25" y="153.80" width="6.10" height="3.40" fill="#BCBCC0"/>
<rect x="99.60" y="153.80" width="6.10" height="3.40" fill="#BCBCC0"/>
<rect x="106.95" y="153.80" width="6.10" height="3.40" fill="#BCBCC0"/>
<rect x="114.30" y="153.80" width="6.10" height="3.40" fill="#BCBCC0"/>
<rect x="121.65" y="153.80" width="6.10" height="3.40" fill="#BCBCC0"/>
<rect x="129.00" y="153.80" width="6.10" height="3.40" fill="#BCBCC0"/>
<rect x="148.00" y="153.80" width="6.10" height="3.40" fill="#BCBCC0"/>
<rect x="155.35" y="153.80" width="6.10" height="3.40" fill="#1E9CD8"/>
<rect x="162.70" y="153.80" width="6.10" height="3.40" fill="#BCBCC0"/>
<rect x="170.05" y="153.80" width="6.10" height="3.40" fill="#BCBCC0"/>
<rect x="184.75" y="153.80" width="6.10" height="3.40" fill="#BCBCC0"/>
<rect x="192.10" y="153.80" width="6.10" height="3.40" fill="#BCBCC0"/>
<rect x="199.45" y="153.80" width="6.10" height="3.40" fill="#BCBCC0"/>
<rect x="214.15" y="153.80" width="6.10" height="3.40" fill="#BCBCC0"/>
<rect x="221.50" y="153.80" width="6.10" height="3.40" fill="#BCBCC0"/>
<rect x="240.30" y="153.80" width="6.10" height="3.40" fill="#BCBCC0"/>
<rect x="247.65" y="153.80" width="6.10" height="3.40" fill="#BCBCC0"/>
<rect x="255.00" y="153.80" width="6.10" height="3.40" fill="#1E9CD8"/>
<rect x="262.35" y="153.80" width="6.10" height="3.40" fill="#BCBCC0"/>
<rect x="269.70" y="153.80" width="6.10" height="3.40" fill="#BCBCC0"/>
<rect x="277.05" y="153.80" width="6.10" height="3.40" fill="#BCBCC0"/>
<rect x="284.40" y="153.80" width="6.10" height="3.40" fill="#BCBCC0"/>
<rect x="291.75" y="153.80" width="6.10" height="3.40" fill="#BCBCC0"/>
<rect x="299.10" y="153.80" width="6.10" height="3.40" fill="#BCBCC0"/>
<rect x="306.45" y="153.80" width="6.10" height="3.40" fill="#1E9CD8"/>
<rect x="313.80" y="153.80" width="6.10" height="3.40" fill="#BCBCC0"/>
<rect x="321.15" y="153.80" width="6.10" height="3.40" fill="#BCBCC0"/>
<rect x="328.50" y="153.80" width="6.10" height="3.40" fill="#1E9CD8"/>
<rect x="335.85" y="153.80" width="6.10" height="3.40" fill="#1E9CD8"/>
<rect x="343.20" y="153.80" width="6.10" height="3.40" fill="#BCBCC0"/>
<rect x="350.55" y="153.80" width="6.10" height="3.40" fill="#BCBCC0"/>
<rect x="357.90" y="153.80" width="6.10" height="3.40" fill="#BCBCC0"/>
<rect x="365.25" y="153.80" width="6.10" height="3.40" fill="#BCBCC0"/>
<rect x="379.95" y="153.80" width="6.10" height="3.40" fill="#1E9CD8"/>
<rect x="387.30" y="153.80" width="6.10" height="3.40" fill="#BCBCC0"/>
<rect x="394.65" y="153.80" width="6.10" height="3.40" fill="#BCBCC0"/>
<rect x="402.00" y="153.80" width="6.10" height="3.40" fill="#BCBCC0"/>
<rect x="409.35" y="153.80" width="6.10" height="3.40" fill="#BCBCC0"/>
<rect x="416.70" y="153.80" width="6.10" height="3.40" fill="#BCBCC0"/>
<rect x="424.05" y="153.80" width="6.10" height="3.40" fill="#BCBCC0"/>
<rect x="40.80" y="158.80" width="6.10" height="3.40" fill="#1E9CD8"/>
<rect x="48.15" y="158.80" width="6.10" height="3.40" fill="#BCBCC0"/>
<rect x="62.85" y="158.80" width="6.10" height="3.40" fill="#1E9CD8"/>
<rect x="70.20" y="158.80" width="6.10" height="3.40" fill="#BCBCC0"/>
<rect x="77.55" y="158.80" width="6.10" height="3.40" fill="#1E9CD8"/>
<rect x="84.90" y="158.80" width="6.10" height="3.40" fill="#BCBCC0"/>
<rect x="92.25" y="158.80" width="6.10" height="3.40" fill="#1E9CD8"/>
<rect x="99.60" y="158.80" width="6.10" height="3.40" fill="#BCBCC0"/>
<rect x="106.95" y="158.80" width="6.10" height="3.40" fill="#BCBCC0"/>
<rect x="114.30" y="158.80" width="6.10" height="3.40" fill="#BCBCC0"/>
<rect x="121.65" y="158.80" width="6.10" height="3.40" fill="#BCBCC0"/>
<rect x="129.00" y="158.80" width="6.10" height="3.40" fill="#BCBCC0"/>
<rect x="148.00" y="158.80" width="6.10" height="3.40" fill="#BCBCC0"/>
<rect x="155.35" y="158.80" width="6.10" height="3.40" fill="#BCBCC0"/>
<rect x="162.70" y="158.80" width="6.10" height="3.40" fill="#BCBCC0"/>
<rect x="170.05" y="158.80" width="6.10" height="3.40" fill="#BCBCC0"/>
<rect x="184.75" y="158.80" width="6.10" height="3.40" fill="#BCBCC0"/>
<rect x="192.10" y="158.80" width="6.10" height="3.40" fill="#BCBCC0"/>
<rect x="199.45" y="158.80" width="6.10" height="3.40" fill="#BCBCC0"/>
<rect x="214.15" y="158.80" width="6.10" height="3.40" fill="#BCBCC0"/>
<rect x="221.50" y="158.80" width="6.10" height="3.40" fill="#BCBCC0"/>
<rect x="240.30" y="158.80" width="6.10" height="3.40" fill="#BCBCC0"/>
<rect x="247.65" y="158.80" width="6.10" height="3.40" fill="#BCBCC0"/>
<rect x="255.00" y="158.80" width="6.10" height="3.40" fill="#BCBCC0"/>
<rect x="262.35" y="158.80" width="6.10" height="3.40" fill="#BCBCC0"/>
<rect x="269.70" y="158.80" width="6.10" height="3.40" fill="#BCBCC0"/>
<rect x="277.05" y="158.80" width="6.10" height="3.40" fill="#1E9CD8"/>
<rect x="284.40" y="158.80" width="6.10" height="3.40" fill="#BCBCC0"/>
<rect x="291.75" y="158.80" width="6.10" height="3.40" fill="#1E9CD8"/>
<rect x="299.10" y="158.80" width="6.10" height="3.40" fill="#BCBCC0"/>
<rect x="306.45" y="158.80" width="6.10" height="3.40" fill="#BCBCC0"/>
<rect x="313.80" y="158.80" width="6.10" height="3.40" fill="#BCBCC0"/>
<rect x="321.15" y="158.80" width="6.10" height="3.40" fill="#BCBCC0"/>
<rect x="328.50" y="158.80" width="6.10" height="3.40" fill="#BCBCC0"/>
<rect x="335.85" y="158.80" width="6.10" height="3.40" fill="#BCBCC0"/>
<rect x="343.20" y="158.80" width="6.10" height="3.40" fill="#BCBCC0"/>
<rect x="350.55" y="158.80" width="6.10" height="3.40" fill="#BCBCC0"/>
<rect x="357.90" y="158.80" width="6.10" height="3.40" fill="#BCBCC0"/>
<rect x="365.25" y="158.80" width="6.10" height="3.40" fill="#BCBCC0"/>
<rect x="379.95" y="158.80" width="6.10" height="3.40" fill="#BCBCC0"/>
<rect x="387.30" y="158.80" width="6.10" height="3.40" fill="#BCBCC0"/>
<rect x="394.65" y="158.80" width="6.10" height="3.40" fill="#BCBCC0"/>
<rect x="402.00" y="158.80" width="6.10" height="3.40" fill="#BCBCC0"/>
<rect x="409.35" y="158.80" width="6.10" height="3.40" fill="#BCBCC0"/>
<rect x="416.70" y="158.80" width="6.10" height="3.40" fill="#BCBCC0"/>
<rect x="424.05" y="158.80" width="6.10" height="3.40" fill="#BCBCC0"/>
<rect x="40.80" y="163.80" width="6.10" height="3.40" fill="#BCBCC0"/>
<rect x="48.15" y="163.80" width="6.10" height="3.40" fill="#BCBCC0"/>
<rect x="62.85" y="163.80" width="6.10" height="3.40" fill="#BCBCC0"/>
<rect x="70.20" y="163.80" width="6.10" height="3.40" fill="#BCBCC0"/>
<rect x="77.55" y="163.80" width="6.10" height="3.40" fill="#BCBCC0"/>
<rect x="84.90" y="163.80" width="6.10" height="3.40" fill="#BCBCC0"/>
<rect x="92.25" y="163.80" width="6.10" height="3.40" fill="#BCBCC0"/>
<rect x="99.60" y="163.80" width="6.10" height="3.40" fill="#BCBCC0"/>
<rect x="106.95" y="163.80" width="6.10" height="3.40" fill="#BCBCC0"/>
<rect x="114.30" y="163.80" width="6.10" height="3.40" fill="#BCBCC0"/>
<rect x="121.65" y="163.80" width="6.10" height="3.40" fill="#BCBCC0"/>
<rect x="129.00" y="163.80" width="6.10" height="3.40" fill="#BCBCC0"/>
<rect x="148.00" y="163.80" width="6.10" height="3.40" fill="#BCBCC0"/>
<rect x="155.35" y="163.80" width="6.10" height="3.40" fill="#1E9CD8"/>
<rect x="162.70" y="163.80" width="6.10" height="3.40" fill="#BCBCC0"/>
<rect x="170.05" y="163.80" width="6.10" height="3.40" fill="#BCBCC0"/>
<rect x="184.75" y="163.80" width="6.10" height="3.40" fill="#BCBCC0"/>
<rect x="192.10" y="163.80" width="6.10" height="3.40" fill="#BCBCC0"/>
<rect x="199.45" y="163.80" width="6.10" height="3.40" fill="#BCBCC0"/>
<rect x="214.15" y="163.80" width="6.10" height="3.40" fill="#BCBCC0"/>
<rect x="221.50" y="163.80" width="6.10" height="3.40" fill="#BCBCC0"/>
<rect x="240.30" y="163.80" width="6.10" height="3.40" fill="#BCBCC0"/>
<rect x="247.65" y="163.80" width="6.10" height="3.40" fill="#BCBCC0"/>
<rect x="255.00" y="163.80" width="6.10" height="3.40" fill="#BCBCC0"/>
<rect x="262.35" y="163.80" width="6.10" height="3.40" fill="#BCBCC0"/>
<rect x="269.70" y="163.80" width="6.10" height="3.40" fill="#BCBCC0"/>
<rect x="277.05" y="163.80" width="6.10" height="3.40" fill="#BCBCC0"/>
<rect x="284.40" y="163.80" width="6.10" height="3.40" fill="#BCBCC0"/>
<rect x="291.75" y="163.80" width="6.10" height="3.40" fill="#BCBCC0"/>
<rect x="299.10" y="163.80" width="6.10" height="3.40" fill="#BCBCC0"/>
<rect x="306.45" y="163.80" width="6.10" height="3.40" fill="#BCBCC0"/>
<rect x="313.80" y="163.80" width="6.10" height="3.40" fill="#BCBCC0"/>
<rect x="321.15" y="163.80" width="6.10" height="3.40" fill="#BCBCC0"/>
<rect x="328.50" y="163.80" width="6.10" height="3.40" fill="#1E9CD8"/>
<rect x="335.85" y="163.80" width="6.10" height="3.40" fill="#BCBCC0"/>
<rect x="343.20" y="163.80" width="6.10" height="3.40" fill="#BCBCC0"/>
<rect x="350.55" y="163.80" width="6.10" height="3.40" fill="#BCBCC0"/>
<rect x="357.90" y="163.80" width="6.10" height="3.40" fill="#BCBCC0"/>
<rect x="365.25" y="163.80" width="6.10" height="3.40" fill="#1E9CD8"/>
<rect x="379.95" y="163.80" width="6.10" height="3.40" fill="#1E9CD8"/>
<rect x="387.30" y="163.80" width="6.10" height="3.40" fill="#BCBCC0"/>
<rect x="394.65" y="163.80" width="6.10" height="3.40" fill="#BCBCC0"/>
<rect x="402.00" y="163.80" width="6.10" height="3.40" fill="#BCBCC0"/>
<rect x="409.35" y="163.80" width="6.10" height="3.40" fill="#1E9CD8"/>
<rect x="416.70" y="163.80" width="6.10" height="3.40" fill="#BCBCC0"/>
<rect x="424.05" y="163.80" width="6.10" height="3.40" fill="#BCBCC0"/>
<rect x="40.80" y="168.80" width="6.10" height="3.40" fill="#1E9CD8"/>
<rect x="48.15" y="168.80" width="6.10" height="3.40" fill="#BCBCC0"/>
<rect x="55.50" y="168.80" width="6.10" height="3.40" fill="#BCBCC0"/>
<rect x="62.85" y="168.80" width="6.10" height="3.40" fill="#BCBCC0"/>
<rect x="70.20" y="168.80" width="6.10" height="3.40" fill="#1E9CD8"/>
<rect x="77.55" y="168.80" width="6.10" height="3.40" fill="#BCBCC0"/>
<rect x="84.90" y="168.80" width="6.10" height="3.40" fill="#BCBCC0"/>
<rect x="92.25" y="168.80" width="6.10" height="3.40" fill="#BCBCC0"/>
<rect x="99.60" y="168.80" width="6.10" height="3.40" fill="#BCBCC0"/>
<rect x="106.95" y="168.80" width="6.10" height="3.40" fill="#BCBCC0"/>
<rect x="114.30" y="168.80" width="6.10" height="3.40" fill="#BCBCC0"/>
<rect x="121.65" y="168.80" width="6.10" height="3.40" fill="#BCBCC0"/>
<rect x="129.00" y="168.80" width="6.10" height="3.40" fill="#BCBCC0"/>
<rect x="148.00" y="168.80" width="6.10" height="3.40" fill="#BCBCC0"/>
<rect x="155.35" y="168.80" width="6.10" height="3.40" fill="#BCBCC0"/>
<rect x="162.70" y="168.80" width="6.10" height="3.40" fill="#BCBCC0"/>
<rect x="170.05" y="168.80" width="6.10" height="3.40" fill="#BCBCC0"/>
<rect x="177.40" y="168.80" width="6.10" height="3.40" fill="#BCBCC0"/>
<rect x="184.75" y="168.80" width="6.10" height="3.40" fill="#1E9CD8"/>
<rect x="192.10" y="168.80" width="6.10" height="3.40" fill="#BCBCC0"/>
<rect x="199.45" y="168.80" width="6.10" height="3.40" fill="#BCBCC0"/>
<rect x="206.80" y="168.80" width="6.10" height="3.40" fill="#BCBCC0"/>
<rect x="214.15" y="168.80" width="6.10" height="3.40" fill="#1E9CD8"/>
<rect x="221.50" y="168.80" width="6.10" height="3.40" fill="#1E9CD8"/>
<rect x="240.30" y="168.80" width="6.10" height="3.40" fill="#BCBCC0"/>
<rect x="247.65" y="168.80" width="6.10" height="3.40" fill="#BCBCC0"/>
<rect x="255.00" y="168.80" width="6.10" height="3.40" fill="#BCBCC0"/>
<rect x="262.35" y="168.80" width="6.10" height="3.40" fill="#BCBCC0"/>
<rect x="269.70" y="168.80" width="6.10" height="3.40" fill="#BCBCC0"/>
<rect x="277.05" y="168.80" width="6.10" height="3.40" fill="#BCBCC0"/>
<rect x="284.40" y="168.80" width="6.10" height="3.40" fill="#BCBCC0"/>
<rect x="291.75" y="168.80" width="6.10" height="3.40" fill="#BCBCC0"/>
<rect x="299.10" y="168.80" width="6.10" height="3.40" fill="#BCBCC0"/>
<rect x="306.45" y="168.80" width="6.10" height="3.40" fill="#BCBCC0"/>
<rect x="313.80" y="168.80" width="6.10" height="3.40" fill="#BCBCC0"/>
<rect x="321.15" y="168.80" width="6.10" height="3.40" fill="#BCBCC0"/>
<rect x="328.50" y="168.80" width="6.10" height="3.40" fill="#BCBCC0"/>
<rect x="335.85" y="168.80" width="6.10" height="3.40" fill="#BCBCC0"/>
<rect x="343.20" y="168.80" width="6.10" height="3.40" fill="#BCBCC0"/>
<rect x="350.55" y="168.80" width="6.10" height="3.40" fill="#BCBCC0"/>
<rect x="357.90" y="168.80" width="6.10" height="3.40" fill="#BCBCC0"/>
<rect x="365.25" y="168.80" width="6.10" height="3.40" fill="#BCBCC0"/>
<rect x="372.60" y="168.80" width="6.10" height="3.40" fill="#BCBCC0"/>
<rect x="379.95" y="168.80" width="6.10" height="3.40" fill="#BCBCC0"/>
<rect x="387.30" y="168.80" width="6.10" height="3.40" fill="#BCBCC0"/>
<rect x="394.65" y="168.80" width="6.10" height="3.40" fill="#BCBCC0"/>
<rect x="402.00" y="168.80" width="6.10" height="3.40" fill="#BCBCC0"/>
<rect x="409.35" y="168.80" width="6.10" height="3.40" fill="#BCBCC0"/>
<rect x="416.70" y="168.80" width="6.10" height="3.40" fill="#BCBCC0"/>
<rect x="424.05" y="168.80" width="6.10" height="3.40" fill="#BCBCC0"/>
<rect x="40.80" y="173.80" width="6.10" height="3.40" fill="#1E9CD8"/>
<rect x="48.15" y="173.80" width="6.10" height="3.40" fill="#BCBCC0"/>
<rect x="62.85" y="173.80" width="6.10" height="3.40" fill="#BCBCC0"/>
<rect x="70.20" y="173.80" width="6.10" height="3.40" fill="#BCBCC0"/>
<rect x="77.55" y="173.80" width="6.10" height="3.40" fill="#BCBCC0"/>
<rect x="84.90" y="173.80" width="6.10" height="3.40" fill="#BCBCC0"/>
<rect x="92.25" y="173.80" width="6.10" height="3.40" fill="#BCBCC0"/>
<rect x="99.60" y="173.80" width="6.10" height="3.40" fill="#BCBCC0"/>
<rect x="106.95" y="173.80" width="6.10" height="3.40" fill="#BCBCC0"/>
<rect x="114.30" y="173.80" width="6.10" height="3.40" fill="#BCBCC0"/>
<rect x="121.65" y="173.80" width="6.10" height="3.40" fill="#BCBCC0"/>
<rect x="129.00" y="173.80" width="6.10" height="3.40" fill="#BCBCC0"/>
<rect x="148.00" y="173.80" width="6.10" height="3.40" fill="#BCBCC0"/>
<rect x="155.35" y="173.80" width="6.10" height="3.40" fill="#BCBCC0"/>
<rect x="162.70" y="173.80" width="6.10" height="3.40" fill="#BCBCC0"/>
<rect x="170.05" y="173.80" width="6.10" height="3.40" fill="#BCBCC0"/>
<rect x="184.75" y="173.80" width="6.10" height="3.40" fill="#BCBCC0"/>
<rect x="192.10" y="173.80" width="6.10" height="3.40" fill="#BCBCC0"/>
<rect x="199.45" y="173.80" width="6.10" height="3.40" fill="#BCBCC0"/>
<rect x="214.15" y="173.80" width="6.10" height="3.40" fill="#BCBCC0"/>
<rect x="221.50" y="173.80" width="6.10" height="3.40" fill="#BCBCC0"/>
<rect x="240.30" y="173.80" width="6.10" height="3.40" fill="#BCBCC0"/>
<rect x="247.65" y="173.80" width="6.10" height="3.40" fill="#BCBCC0"/>
<rect x="255.00" y="173.80" width="6.10" height="3.40" fill="#BCBCC0"/>
<rect x="262.35" y="173.80" width="6.10" height="3.40" fill="#BCBCC0"/>
<rect x="269.70" y="173.80" width="6.10" height="3.40" fill="#BCBCC0"/>
<rect x="277.05" y="173.80" width="6.10" height="3.40" fill="#BCBCC0"/>
<rect x="284.40" y="173.80" width="6.10" height="3.40" fill="#BCBCC0"/>
<rect x="291.75" y="173.80" width="6.10" height="3.40" fill="#BCBCC0"/>
<rect x="299.10" y="173.80" width="6.10" height="3.40" fill="#BCBCC0"/>
<rect x="306.45" y="173.80" width="6.10" height="3.40" fill="#BCBCC0"/>
<rect x="313.80" y="173.80" width="6.10" height="3.40" fill="#BCBCC0"/>
<rect x="321.15" y="173.80" width="6.10" height="3.40" fill="#1E9CD8"/>
<rect x="328.50" y="173.80" width="6.10" height="3.40" fill="#BCBCC0"/>
<rect x="335.85" y="173.80" width="6.10" height="3.40" fill="#BCBCC0"/>
<rect x="343.20" y="173.80" width="6.10" height="3.40" fill="#BCBCC0"/>
<rect x="350.55" y="173.80" width="6.10" height="3.40" fill="#BCBCC0"/>
<rect x="357.90" y="173.80" width="6.10" height="3.40" fill="#BCBCC0"/>
<rect x="365.25" y="173.80" width="6.10" height="3.40" fill="#1E9CD8"/>
<rect x="379.95" y="173.80" width="6.10" height="3.40" fill="#BCBCC0"/>
<rect x="387.30" y="173.80" width="6.10" height="3.40" fill="#BCBCC0"/>
<rect x="394.65" y="173.80" width="6.10" height="3.40" fill="#1E9CD8"/>
<rect x="402.00" y="173.80" width="6.10" height="3.40" fill="#BCBCC0"/>
<rect x="409.35" y="173.80" width="6.10" height="3.40" fill="#1E9CD8"/>
<rect x="416.70" y="173.80" width="6.10" height="3.40" fill="#BCBCC0"/>
<rect x="424.05" y="173.80" width="6.10" height="3.40" fill="#BCBCC0"/>
<rect x="40.80" y="178.80" width="6.10" height="3.40" fill="#1E9CD8"/>
<rect x="48.15" y="178.80" width="6.10" height="3.40" fill="#BCBCC0"/>
<rect x="62.85" y="178.80" width="6.10" height="3.40" fill="#BCBCC0"/>
<rect x="70.20" y="178.80" width="6.10" height="3.40" fill="#BCBCC0"/>
<rect x="77.55" y="178.80" width="6.10" height="3.40" fill="#BCBCC0"/>
<rect x="84.90" y="178.80" width="6.10" height="3.40" fill="#BCBCC0"/>
<rect x="92.25" y="178.80" width="6.10" height="3.40" fill="#BCBCC0"/>
<rect x="99.60" y="178.80" width="6.10" height="3.40" fill="#BCBCC0"/>
<rect x="106.95" y="178.80" width="6.10" height="3.40" fill="#BCBCC0"/>
<rect x="114.30" y="178.80" width="6.10" height="3.40" fill="#BCBCC0"/>
<rect x="121.65" y="178.80" width="6.10" height="3.40" fill="#BCBCC0"/>
<rect x="129.00" y="178.80" width="6.10" height="3.40" fill="#BCBCC0"/>
<rect x="148.00" y="178.80" width="6.10" height="3.40" fill="#BCBCC0"/>
<rect x="155.35" y="178.80" width="6.10" height="3.40" fill="#BCBCC0"/>
<rect x="162.70" y="178.80" width="6.10" height="3.40" fill="#BCBCC0"/>
<rect x="170.05" y="178.80" width="6.10" height="3.40" fill="#BCBCC0"/>
<rect x="184.75" y="178.80" width="6.10" height="3.40" fill="#BCBCC0"/>
<rect x="192.10" y="178.80" width="6.10" height="3.40" fill="#BCBCC0"/>
<rect x="199.45" y="178.80" width="6.10" height="3.40" fill="#BCBCC0"/>
<rect x="214.15" y="178.80" width="6.10" height="3.40" fill="#BCBCC0"/>
<rect x="221.50" y="178.80" width="6.10" height="3.40" fill="#BCBCC0"/>
<rect x="240.30" y="178.80" width="6.10" height="3.40" fill="#BCBCC0"/>
<rect x="247.65" y="178.80" width="6.10" height="3.40" fill="#BCBCC0"/>
<rect x="255.00" y="178.80" width="6.10" height="3.40" fill="#1E9CD8"/>
<rect x="262.35" y="178.80" width="6.10" height="3.40" fill="#BCBCC0"/>
<rect x="269.70" y="178.80" width="6.10" height="3.40" fill="#BCBCC0"/>
<rect x="277.05" y="178.80" width="6.10" height="3.40" fill="#1E9CD8"/>
<rect x="284.40" y="178.80" width="6.10" height="3.40" fill="#BCBCC0"/>
<rect x="291.75" y="178.80" width="6.10" height="3.40" fill="#BCBCC0"/>
<rect x="299.10" y="178.80" width="6.10" height="3.40" fill="#BCBCC0"/>
<rect x="306.45" y="178.80" width="6.10" height="3.40" fill="#BCBCC0"/>
<rect x="313.80" y="178.80" width="6.10" height="3.40" fill="#BCBCC0"/>
<rect x="321.15" y="178.80" width="6.10" height="3.40" fill="#BCBCC0"/>
<rect x="328.50" y="178.80" width="6.10" height="3.40" fill="#BCBCC0"/>
<rect x="335.85" y="178.80" width="6.10" height="3.40" fill="#BCBCC0"/>
<rect x="343.20" y="178.80" width="6.10" height="3.40" fill="#BCBCC0"/>
<rect x="350.55" y="178.80" width="6.10" height="3.40" fill="#BCBCC0"/>
<rect x="357.90" y="178.80" width="6.10" height="3.40" fill="#1E9CD8"/>
<rect x="365.25" y="178.80" width="6.10" height="3.40" fill="#BCBCC0"/>
<rect x="379.95" y="178.80" width="6.10" height="3.40" fill="#BCBCC0"/>
<rect x="387.30" y="178.80" width="6.10" height="3.40" fill="#1E9CD8"/>
<rect x="394.65" y="178.80" width="6.10" height="3.40" fill="#BCBCC0"/>
<rect x="402.00" y="178.80" width="6.10" height="3.40" fill="#BCBCC0"/>
<rect x="409.35" y="178.80" width="6.10" height="3.40" fill="#BCBCC0"/>
<rect x="416.70" y="178.80" width="6.10" height="3.40" fill="#BCBCC0"/>
<rect x="424.05" y="178.80" width="6.10" height="3.40" fill="#BCBCC0"/>
<rect x="40.80" y="183.80" width="6.10" height="3.40" fill="#BCBCC0"/>
<rect x="48.15" y="183.80" width="6.10" height="3.40" fill="#BCBCC0"/>
<rect x="62.85" y="183.80" width="6.10" height="3.40" fill="#BCBCC0"/>
<rect x="70.20" y="183.80" width="6.10" height="3.40" fill="#BCBCC0"/>
<rect x="77.55" y="183.80" width="6.10" height="3.40" fill="#BCBCC0"/>
<rect x="84.90" y="183.80" width="6.10" height="3.40" fill="#BCBCC0"/>
<rect x="92.25" y="183.80" width="6.10" height="3.40" fill="#BCBCC0"/>
<rect x="99.60" y="183.80" width="6.10" height="3.40" fill="#BCBCC0"/>
<rect x="106.95" y="183.80" width="6.10" height="3.40" fill="#BCBCC0"/>
<rect x="114.30" y="183.80" width="6.10" height="3.40" fill="#1E9CD8"/>
<rect x="121.65" y="183.80" width="6.10" height="3.40" fill="#BCBCC0"/>
<rect x="129.00" y="183.80" width="6.10" height="3.40" fill="#BCBCC0"/>
<rect x="148.00" y="183.80" width="6.10" height="3.40" fill="#BCBCC0"/>
<rect x="155.35" y="183.80" width="6.10" height="3.40" fill="#1E9CD8"/>
<rect x="162.70" y="183.80" width="6.10" height="3.40" fill="#BCBCC0"/>
<rect x="170.05" y="183.80" width="6.10" height="3.40" fill="#BCBCC0"/>
<rect x="184.75" y="183.80" width="6.10" height="3.40" fill="#BCBCC0"/>
<rect x="192.10" y="183.80" width="6.10" height="3.40" fill="#BCBCC0"/>
<rect x="199.45" y="183.80" width="6.10" height="3.40" fill="#BCBCC0"/>
<rect x="214.15" y="183.80" width="6.10" height="3.40" fill="#BCBCC0"/>
<rect x="221.50" y="183.80" width="6.10" height="3.40" fill="#BCBCC0"/>
<rect x="240.30" y="183.80" width="6.10" height="3.40" fill="#BCBCC0"/>
<rect x="247.65" y="183.80" width="6.10" height="3.40" fill="#BCBCC0"/>
<rect x="255.00" y="183.80" width="6.10" height="3.40" fill="#BCBCC0"/>
<rect x="262.35" y="183.80" width="6.10" height="3.40" fill="#BCBCC0"/>
<rect x="269.70" y="183.80" width="6.10" height="3.40" fill="#BCBCC0"/>
<rect x="277.05" y="183.80" width="6.10" height="3.40" fill="#BCBCC0"/>
<rect x="284.40" y="183.80" width="6.10" height="3.40" fill="#BCBCC0"/>
<rect x="291.75" y="183.80" width="6.10" height="3.40" fill="#0E4A83"/>
<rect x="299.10" y="183.80" width="6.10" height="3.40" fill="#1E9CD8"/>
<rect x="306.45" y="183.80" width="6.10" height="3.40" fill="#BCBCC0"/>
<rect x="313.80" y="183.80" width="6.10" height="3.40" fill="#BCBCC0"/>
<rect x="321.15" y="183.80" width="6.10" height="3.40" fill="#BCBCC0"/>
<rect x="328.50" y="183.80" width="6.10" height="3.40" fill="#BCBCC0"/>
<rect x="335.85" y="183.80" width="6.10" height="3.40" fill="#1E9CD8"/>
<rect x="343.20" y="183.80" width="6.10" height="3.40" fill="#BCBCC0"/>
<rect x="350.55" y="183.80" width="6.10" height="3.40" fill="#BCBCC0"/>
<rect x="357.90" y="183.80" width="6.10" height="3.40" fill="#BCBCC0"/>
<rect x="365.25" y="183.80" width="6.10" height="3.40" fill="#BCBCC0"/>
<rect x="379.95" y="183.80" width="6.10" height="3.40" fill="#BCBCC0"/>
<rect x="387.30" y="183.80" width="6.10" height="3.40" fill="#BCBCC0"/>
<rect x="394.65" y="183.80" width="6.10" height="3.40" fill="#BCBCC0"/>
<rect x="402.00" y="183.80" width="6.10" height="3.40" fill="#BCBCC0"/>
<rect x="409.35" y="183.80" width="6.10" height="3.40" fill="#BCBCC0"/>
<rect x="416.70" y="183.80" width="6.10" height="3.40" fill="#BCBCC0"/>
<rect x="424.05" y="183.80" width="6.10" height="3.40" fill="#BCBCC0"/>
<rect x="40.80" y="188.80" width="6.10" height="3.40" fill="#1E9CD8"/>
<rect x="48.15" y="188.80" width="6.10" height="3.40" fill="#BCBCC0"/>
<rect x="62.85" y="188.80" width="6.10" height="3.40" fill="#BCBCC0"/>
<rect x="70.20" y="188.80" width="6.10" height="3.40" fill="#BCBCC0"/>
<rect x="77.55" y="188.80" width="6.10" height="3.40" fill="#BCBCC0"/>
<rect x="84.90" y="188.80" width="6.10" height="3.40" fill="#BCBCC0"/>
<rect x="92.25" y="188.80" width="6.10" height="3.40" fill="#1E9CD8"/>
<rect x="99.60" y="188.80" width="6.10" height="3.40" fill="#1E9CD8"/>
<rect x="106.95" y="188.80" width="6.10" height="3.40" fill="#BCBCC0"/>
<rect x="114.30" y="188.80" width="6.10" height="3.40" fill="#BCBCC0"/>
<rect x="121.65" y="188.80" width="6.10" height="3.40" fill="#BCBCC0"/>
<rect x="129.00" y="188.80" width="6.10" height="3.40" fill="#BCBCC0"/>
<rect x="148.00" y="188.80" width="6.10" height="3.40" fill="#BCBCC0"/>
<rect x="155.35" y="188.80" width="6.10" height="3.40" fill="#BCBCC0"/>
<rect x="162.70" y="188.80" width="6.10" height="3.40" fill="#BCBCC0"/>
<rect x="170.05" y="188.80" width="6.10" height="3.40" fill="#BCBCC0"/>
<rect x="184.75" y="188.80" width="6.10" height="3.40" fill="#BCBCC0"/>
<rect x="192.10" y="188.80" width="6.10" height="3.40" fill="#BCBCC0"/>
<rect x="199.45" y="188.80" width="6.10" height="3.40" fill="#BCBCC0"/>
<rect x="214.15" y="188.80" width="6.10" height="3.40" fill="#BCBCC0"/>
<rect x="221.50" y="188.80" width="6.10" height="3.40" fill="#BCBCC0"/>
<rect x="240.30" y="188.80" width="6.10" height="3.40" fill="#BCBCC0"/>
<rect x="247.65" y="188.80" width="6.10" height="3.40" fill="#BCBCC0"/>
<rect x="255.00" y="188.80" width="6.10" height="3.40" fill="#BCBCC0"/>
<rect x="262.35" y="188.80" width="6.10" height="3.40" fill="#BCBCC0"/>
<rect x="269.70" y="188.80" width="6.10" height="3.40" fill="#BCBCC0"/>
<rect x="277.05" y="188.80" width="6.10" height="3.40" fill="#BCBCC0"/>
<rect x="284.40" y="188.80" width="6.10" height="3.40" fill="#BCBCC0"/>
<rect x="291.75" y="188.80" width="6.10" height="3.40" fill="#BCBCC0"/>
<rect x="299.10" y="188.80" width="6.10" height="3.40" fill="#BCBCC0"/>
<rect x="306.45" y="188.80" width="6.10" height="3.40" fill="#BCBCC0"/>
<rect x="313.80" y="188.80" width="6.10" height="3.40" fill="#BCBCC0"/>
<rect x="321.15" y="188.80" width="6.10" height="3.40" fill="#BCBCC0"/>
<rect x="328.50" y="188.80" width="6.10" height="3.40" fill="#BCBCC0"/>
<rect x="335.85" y="188.80" width="6.10" height="3.40" fill="#BCBCC0"/>
<rect x="343.20" y="188.80" width="6.10" height="3.40" fill="#1E9CD8"/>
<rect x="350.55" y="188.80" width="6.10" height="3.40" fill="#BCBCC0"/>
<rect x="357.90" y="188.80" width="6.10" height="3.40" fill="#BCBCC0"/>
<rect x="365.25" y="188.80" width="6.10" height="3.40" fill="#BCBCC0"/>
<rect x="379.95" y="188.80" width="6.10" height="3.40" fill="#1E9CD8"/>
<rect x="387.30" y="188.80" width="6.10" height="3.40" fill="#BCBCC0"/>
<rect x="394.65" y="188.80" width="6.10" height="3.40" fill="#BCBCC0"/>
<rect x="402.00" y="188.80" width="6.10" height="3.40" fill="#BCBCC0"/>
<rect x="409.35" y="188.80" width="6.10" height="3.40" fill="#BCBCC0"/>
<rect x="416.70" y="188.80" width="6.10" height="3.40" fill="#BCBCC0"/>
<rect x="424.05" y="188.80" width="6.10" height="3.40" fill="#BCBCC0"/>
<rect x="40.80" y="193.80" width="6.10" height="3.40" fill="#BCBCC0"/>
<rect x="48.15" y="193.80" width="6.10" height="3.40" fill="#BCBCC0"/>
<rect x="62.85" y="193.80" width="6.10" height="3.40" fill="#BCBCC0"/>
<rect x="70.20" y="193.80" width="6.10" height="3.40" fill="#BCBCC0"/>
<rect x="77.55" y="193.80" width="6.10" height="3.40" fill="#BCBCC0"/>
<rect x="84.90" y="193.80" width="6.10" height="3.40" fill="#BCBCC0"/>
<rect x="92.25" y="193.80" width="6.10" height="3.40" fill="#BCBCC0"/>
<rect x="99.60" y="193.80" width="6.10" height="3.40" fill="#BCBCC0"/>
<rect x="106.95" y="193.80" width="6.10" height="3.40" fill="#BCBCC0"/>
<rect x="114.30" y="193.80" width="6.10" height="3.40" fill="#BCBCC0"/>
<rect x="121.65" y="193.80" width="6.10" height="3.40" fill="#BCBCC0"/>
<rect x="129.00" y="193.80" width="6.10" height="3.40" fill="#BCBCC0"/>
<rect x="148.00" y="193.80" width="6.10" height="3.40" fill="#BCBCC0"/>
<rect x="155.35" y="193.80" width="6.10" height="3.40" fill="#BCBCC0"/>
<rect x="162.70" y="193.80" width="6.10" height="3.40" fill="#BCBCC0"/>
<rect x="170.05" y="193.80" width="6.10" height="3.40" fill="#BCBCC0"/>
<rect x="184.75" y="193.80" width="6.10" height="3.40" fill="#BCBCC0"/>
<rect x="192.10" y="193.80" width="6.10" height="3.40" fill="#BCBCC0"/>
<rect x="199.45" y="193.80" width="6.10" height="3.40" fill="#BCBCC0"/>
<rect x="214.15" y="193.80" width="6.10" height="3.40" fill="#BCBCC0"/>
<rect x="221.50" y="193.80" width="6.10" height="3.40" fill="#BCBCC0"/>
<rect x="240.30" y="193.80" width="6.10" height="3.40" fill="#BCBCC0"/>
<rect x="247.65" y="193.80" width="6.10" height="3.40" fill="#BCBCC0"/>
<rect x="255.00" y="193.80" width="6.10" height="3.40" fill="#1E9CD8"/>
<rect x="262.35" y="193.80" width="6.10" height="3.40" fill="#BCBCC0"/>
<rect x="269.70" y="193.80" width="6.10" height="3.40" fill="#1E9CD8"/>
<rect x="277.05" y="193.80" width="6.10" height="3.40" fill="#BCBCC0"/>
<rect x="284.40" y="193.80" width="6.10" height="3.40" fill="#BCBCC0"/>
<rect x="291.75" y="193.80" width="6.10" height="3.40" fill="#BCBCC0"/>
<rect x="299.10" y="193.80" width="6.10" height="3.40" fill="#BCBCC0"/>
<rect x="306.45" y="193.80" width="6.10" height="3.40" fill="#BCBCC0"/>
<rect x="313.80" y="193.80" width="6.10" height="3.40" fill="#BCBCC0"/>
<rect x="321.15" y="193.80" width="6.10" height="3.40" fill="#BCBCC0"/>
<rect x="328.50" y="193.80" width="6.10" height="3.40" fill="#BCBCC0"/>
<rect x="335.85" y="193.80" width="6.10" height="3.40" fill="#1E9CD8"/>
<rect x="343.20" y="193.80" width="6.10" height="3.40" fill="#BCBCC0"/>
<rect x="350.55" y="193.80" width="6.10" height="3.40" fill="#BCBCC0"/>
<rect x="357.90" y="193.80" width="6.10" height="3.40" fill="#BCBCC0"/>
<rect x="365.25" y="193.80" width="6.10" height="3.40" fill="#BCBCC0"/>
<rect x="379.95" y="193.80" width="6.10" height="3.40" fill="#BCBCC0"/>
<rect x="387.30" y="193.80" width="6.10" height="3.40" fill="#1E9CD8"/>
<rect x="394.65" y="193.80" width="6.10" height="3.40" fill="#BCBCC0"/>
<rect x="402.00" y="193.80" width="6.10" height="3.40" fill="#1E9CD8"/>
<rect x="409.35" y="193.80" width="6.10" height="3.40" fill="#BCBCC0"/>
<rect x="416.70" y="193.80" width="6.10" height="3.40" fill="#BCBCC0"/>
<rect x="424.05" y="193.80" width="6.10" height="3.40" fill="#BCBCC0"/>
<rect x="40.80" y="198.80" width="6.10" height="3.40" fill="#BCBCC0"/>
<rect x="48.15" y="198.80" width="6.10" height="3.40" fill="#1E9CD8"/>
<rect x="62.85" y="198.80" width="6.10" height="3.40" fill="#BCBCC0"/>
<rect x="70.20" y="198.80" width="6.10" height="3.40" fill="#BCBCC0"/>
<rect x="77.55" y="198.80" width="6.10" height="3.40" fill="#BCBCC0"/>
<rect x="84.90" y="198.80" width="6.10" height="3.40" fill="#BCBCC0"/>
<rect x="92.25" y="198.80" width="6.10" height="3.40" fill="#BCBCC0"/>
<rect x="99.60" y="198.80" width="6.10" height="3.40" fill="#1E9CD8"/>
<rect x="106.95" y="198.80" width="6.10" height="3.40" fill="#BCBCC0"/>
<rect x="114.30" y="198.80" width="6.10" height="3.40" fill="#BCBCC0"/>
<rect x="121.65" y="198.80" width="6.10" height="3.40" fill="#BCBCC0"/>
<rect x="129.00" y="198.80" width="6.10" height="3.40" fill="#BCBCC0"/>
<rect x="148.00" y="198.80" width="6.10" height="3.40" fill="#BCBCC0"/>
<rect x="155.35" y="198.80" width="6.10" height="3.40" fill="#BCBCC0"/>
<rect x="162.70" y="198.80" width="6.10" height="3.40" fill="#BCBCC0"/>
<rect x="170.05" y="198.80" width="6.10" height="3.40" fill="#BCBCC0"/>
<rect x="184.75" y="198.80" width="6.10" height="3.40" fill="#BCBCC0"/>
<rect x="192.10" y="198.80" width="6.10" height="3.40" fill="#BCBCC0"/>
<rect x="199.45" y="198.80" width="6.10" height="3.40" fill="#BCBCC0"/>
<rect x="214.15" y="198.80" width="6.10" height="3.40" fill="#BCBCC0"/>
<rect x="221.50" y="198.80" width="6.10" height="3.40" fill="#BCBCC0"/>
<rect x="240.30" y="198.80" width="6.10" height="3.40" fill="#BCBCC0"/>
<rect x="247.65" y="198.80" width="6.10" height="3.40" fill="#1E9CD8"/>
<rect x="255.00" y="198.80" width="6.10" height="3.40" fill="#BCBCC0"/>
<rect x="262.35" y="198.80" width="6.10" height="3.40" fill="#BCBCC0"/>
<rect x="269.70" y="198.80" width="6.10" height="3.40" fill="#BCBCC0"/>
<rect x="277.05" y="198.80" width="6.10" height="3.40" fill="#BCBCC0"/>
<rect x="284.40" y="198.80" width="6.10" height="3.40" fill="#BCBCC0"/>
<rect x="291.75" y="198.80" width="6.10" height="3.40" fill="#BCBCC0"/>
<rect x="299.10" y="198.80" width="6.10" height="3.40" fill="#BCBCC0"/>
<rect x="306.45" y="198.80" width="6.10" height="3.40" fill="#BCBCC0"/>
<rect x="313.80" y="198.80" width="6.10" height="3.40" fill="#1E9CD8"/>
<rect x="321.15" y="198.80" width="6.10" height="3.40" fill="#BCBCC0"/>
<rect x="328.50" y="198.80" width="6.10" height="3.40" fill="#1E9CD8"/>
<rect x="335.85" y="198.80" width="6.10" height="3.40" fill="#BCBCC0"/>
<rect x="343.20" y="198.80" width="6.10" height="3.40" fill="#BCBCC0"/>
<rect x="350.55" y="198.80" width="6.10" height="3.40" fill="#BCBCC0"/>
<rect x="357.90" y="198.80" width="6.10" height="3.40" fill="#BCBCC0"/>
<rect x="365.25" y="198.80" width="6.10" height="3.40" fill="#BCBCC0"/>
<rect x="379.95" y="198.80" width="6.10" height="3.40" fill="#BCBCC0"/>
<rect x="387.30" y="198.80" width="6.10" height="3.40" fill="#BCBCC0"/>
<rect x="394.65" y="198.80" width="6.10" height="3.40" fill="#BCBCC0"/>
<rect x="402.00" y="198.80" width="6.10" height="3.40" fill="#BCBCC0"/>
<rect x="409.35" y="198.80" width="6.10" height="3.40" fill="#BCBCC0"/>
<rect x="416.70" y="198.80" width="6.10" height="3.40" fill="#BCBCC0"/>
<rect x="424.05" y="198.80" width="6.10" height="3.40" fill="#BCBCC0"/>
<rect x="40.80" y="203.80" width="6.10" height="3.40" fill="#BCBCC0"/>
<rect x="48.15" y="203.80" width="6.10" height="3.40" fill="#BCBCC0"/>
<rect x="62.85" y="203.80" width="6.10" height="3.40" fill="#BCBCC0"/>
<rect x="70.20" y="203.80" width="6.10" height="3.40" fill="#BCBCC0"/>
<rect x="77.55" y="203.80" width="6.10" height="3.40" fill="#BCBCC0"/>
<rect x="84.90" y="203.80" width="6.10" height="3.40" fill="#BCBCC0"/>
<rect x="92.25" y="203.80" width="6.10" height="3.40" fill="#BCBCC0"/>
<rect x="99.60" y="203.80" width="6.10" height="3.40" fill="#BCBCC0"/>
<rect x="106.95" y="203.80" width="6.10" height="3.40" fill="#BCBCC0"/>
<rect x="114.30" y="203.80" width="6.10" height="3.40" fill="#BCBCC0"/>
<rect x="121.65" y="203.80" width="6.10" height="3.40" fill="#BCBCC0"/>
<rect x="129.00" y="203.80" width="6.10" height="3.40" fill="#BCBCC0"/>
<rect x="148.00" y="203.80" width="6.10" height="3.40" fill="#BCBCC0"/>
<rect x="155.35" y="203.80" width="6.10" height="3.40" fill="#BCBCC0"/>
<rect x="162.70" y="203.80" width="6.10" height="3.40" fill="#BCBCC0"/>
<rect x="170.05" y="203.80" width="6.10" height="3.40" fill="#BCBCC0"/>
<rect x="184.75" y="203.80" width="6.10" height="3.40" fill="#BCBCC0"/>
<rect x="192.10" y="203.80" width="6.10" height="3.40" fill="#BCBCC0"/>
<rect x="199.45" y="203.80" width="6.10" height="3.40" fill="#BCBCC0"/>
<rect x="214.15" y="203.80" width="6.10" height="3.40" fill="#BCBCC0"/>
<rect x="221.50" y="203.80" width="6.10" height="3.40" fill="#BCBCC0"/>
<rect x="240.30" y="203.80" width="6.10" height="3.40" fill="#1E9CD8"/>
<rect x="247.65" y="203.80" width="6.10" height="3.40" fill="#1E9CD8"/>
<rect x="255.00" y="203.80" width="6.10" height="3.40" fill="#BCBCC0"/>
<rect x="262.35" y="203.80" width="6.10" height="3.40" fill="#BCBCC0"/>
<rect x="269.70" y="203.80" width="6.10" height="3.40" fill="#1E9CD8"/>
<rect x="277.05" y="203.80" width="6.10" height="3.40" fill="#BCBCC0"/>
<rect x="284.40" y="203.80" width="6.10" height="3.40" fill="#BCBCC0"/>
<rect x="291.75" y="203.80" width="6.10" height="3.40" fill="#BCBCC0"/>
<rect x="299.10" y="203.80" width="6.10" height="3.40" fill="#BCBCC0"/>
<rect x="306.45" y="203.80" width="6.10" height="3.40" fill="#BCBCC0"/>
<rect x="313.80" y="203.80" width="6.10" height="3.40" fill="#BCBCC0"/>
<rect x="321.15" y="203.80" width="6.10" height="3.40" fill="#BCBCC0"/>
<rect x="328.50" y="203.80" width="6.10" height="3.40" fill="#BCBCC0"/>
<rect x="335.85" y="203.80" width="6.10" height="3.40" fill="#BCBCC0"/>
<rect x="343.20" y="203.80" width="6.10" height="3.40" fill="#1E9CD8"/>
<rect x="350.55" y="203.80" width="6.10" height="3.40" fill="#1E9CD8"/>
<rect x="357.90" y="203.80" width="6.10" height="3.40" fill="#BCBCC0"/>
<rect x="365.25" y="203.80" width="6.10" height="3.40" fill="#BCBCC0"/>
<rect x="379.95" y="203.80" width="6.10" height="3.40" fill="#BCBCC0"/>
<rect x="387.30" y="203.80" width="6.10" height="3.40" fill="#BCBCC0"/>
<rect x="394.65" y="203.80" width="6.10" height="3.40" fill="#BCBCC0"/>
<rect x="402.00" y="203.80" width="6.10" height="3.40" fill="#BCBCC0"/>
<rect x="409.35" y="203.80" width="6.10" height="3.40" fill="#BCBCC0"/>
<rect x="416.70" y="203.80" width="6.10" height="3.40" fill="#BCBCC0"/>
<rect x="424.05" y="203.80" width="6.10" height="3.40" fill="#BCBCC0"/>
<rect x="40.80" y="208.80" width="6.10" height="3.40" fill="#BCBCC0"/>
<rect x="48.15" y="208.80" width="6.10" height="3.40" fill="#BCBCC0"/>
<rect x="62.85" y="208.80" width="6.10" height="3.40" fill="#BCBCC0"/>
<rect x="70.20" y="208.80" width="6.10" height="3.40" fill="#BCBCC0"/>
<rect x="77.55" y="208.80" width="6.10" height="3.40" fill="#BCBCC0"/>
<rect x="84.90" y="208.80" width="6.10" height="3.40" fill="#BCBCC0"/>
<rect x="92.25" y="208.80" width="6.10" height="3.40" fill="#BCBCC0"/>
<rect x="99.60" y="208.80" width="6.10" height="3.40" fill="#BCBCC0"/>
<rect x="106.95" y="208.80" width="6.10" height="3.40" fill="#1E9CD8"/>
<rect x="114.30" y="208.80" width="6.10" height="3.40" fill="#BCBCC0"/>
<rect x="121.65" y="208.80" width="6.10" height="3.40" fill="#BCBCC0"/>
<rect x="129.00" y="208.80" width="6.10" height="3.40" fill="#BCBCC0"/>
<rect x="148.00" y="208.80" width="6.10" height="3.40" fill="#BCBCC0"/>
<rect x="155.35" y="208.80" width="6.10" height="3.40" fill="#1E9CD8"/>
<rect x="162.70" y="208.80" width="6.10" height="3.40" fill="#BCBCC0"/>
<rect x="170.05" y="208.80" width="6.10" height="3.40" fill="#BCBCC0"/>
<rect x="184.75" y="208.80" width="6.10" height="3.40" fill="#BCBCC0"/>
<rect x="192.10" y="208.80" width="6.10" height="3.40" fill="#BCBCC0"/>
<rect x="199.45" y="208.80" width="6.10" height="3.40" fill="#BCBCC0"/>
<rect x="214.15" y="208.80" width="6.10" height="3.40" fill="#BCBCC0"/>
<rect x="221.50" y="208.80" width="6.10" height="3.40" fill="#BCBCC0"/>
<rect x="240.30" y="208.80" width="6.10" height="3.40" fill="#BCBCC0"/>
<rect x="247.65" y="208.80" width="6.10" height="3.40" fill="#BCBCC0"/>
<rect x="255.00" y="208.80" width="6.10" height="3.40" fill="#1E9CD8"/>
<rect x="262.35" y="208.80" width="6.10" height="3.40" fill="#BCBCC0"/>
<rect x="269.70" y="208.80" width="6.10" height="3.40" fill="#BCBCC0"/>
<rect x="277.05" y="208.80" width="6.10" height="3.40" fill="#1E9CD8"/>
<rect x="284.40" y="208.80" width="6.10" height="3.40" fill="#BCBCC0"/>
<rect x="291.75" y="208.80" width="6.10" height="3.40" fill="#BCBCC0"/>
<rect x="299.10" y="208.80" width="6.10" height="3.40" fill="#BCBCC0"/>
<rect x="306.45" y="208.80" width="6.10" height="3.40" fill="#BCBCC0"/>
<rect x="313.80" y="208.80" width="6.10" height="3.40" fill="#BCBCC0"/>
<rect x="321.15" y="208.80" width="6.10" height="3.40" fill="#BCBCC0"/>
<rect x="328.50" y="208.80" width="6.10" height="3.40" fill="#BCBCC0"/>
<rect x="335.85" y="208.80" width="6.10" height="3.40" fill="#BCBCC0"/>
<rect x="343.20" y="208.80" width="6.10" height="3.40" fill="#BCBCC0"/>
<rect x="350.55" y="208.80" width="6.10" height="3.40" fill="#BCBCC0"/>
<rect x="357.90" y="208.80" width="6.10" height="3.40" fill="#BCBCC0"/>
<rect x="365.25" y="208.80" width="6.10" height="3.40" fill="#BCBCC0"/>
<rect x="379.95" y="208.80" width="6.10" height="3.40" fill="#BCBCC0"/>
<rect x="387.30" y="208.80" width="6.10" height="3.40" fill="#BCBCC0"/>
<rect x="394.65" y="208.80" width="6.10" height="3.40" fill="#BCBCC0"/>
<rect x="402.00" y="208.80" width="6.10" height="3.40" fill="#BCBCC0"/>
<rect x="409.35" y="208.80" width="6.10" height="3.40" fill="#BCBCC0"/>
<rect x="416.70" y="208.80" width="6.10" height="3.40" fill="#BCBCC0"/>
<rect x="424.05" y="208.80" width="6.10" height="3.40" fill="#BCBCC0"/>
<rect x="40.80" y="213.80" width="6.10" height="3.40" fill="#BCBCC0"/>
<rect x="48.15" y="213.80" width="6.10" height="3.40" fill="#BCBCC0"/>
<rect x="62.85" y="213.80" width="6.10" height="3.40" fill="#BCBCC0"/>
<rect x="70.20" y="213.80" width="6.10" height="3.40" fill="#BCBCC0"/>
<rect x="77.55" y="213.80" width="6.10" height="3.40" fill="#BCBCC0"/>
<rect x="84.90" y="213.80" width="6.10" height="3.40" fill="#BCBCC0"/>
<rect x="92.25" y="213.80" width="6.10" height="3.40" fill="#BCBCC0"/>
<rect x="99.60" y="213.80" width="6.10" height="3.40" fill="#BCBCC0"/>
<rect x="106.95" y="213.80" width="6.10" height="3.40" fill="#BCBCC0"/>
<rect x="114.30" y="213.80" width="6.10" height="3.40" fill="#BCBCC0"/>
<rect x="121.65" y="213.80" width="6.10" height="3.40" fill="#BCBCC0"/>
<rect x="129.00" y="213.80" width="6.10" height="3.40" fill="#BCBCC0"/>
<rect x="148.00" y="213.80" width="6.10" height="3.40" fill="#BCBCC0"/>
<rect x="155.35" y="213.80" width="6.10" height="3.40" fill="#BCBCC0"/>
<rect x="162.70" y="213.80" width="6.10" height="3.40" fill="#1E9CD8"/>
<rect x="170.05" y="213.80" width="6.10" height="3.40" fill="#BCBCC0"/>
<rect x="184.75" y="213.80" width="6.10" height="3.40" fill="#1E9CD8"/>
<rect x="192.10" y="213.80" width="6.10" height="3.40" fill="#BCBCC0"/>
<rect x="199.45" y="213.80" width="6.10" height="3.40" fill="#BCBCC0"/>
<rect x="214.15" y="213.80" width="6.10" height="3.40" fill="#BCBCC0"/>
<rect x="221.50" y="213.80" width="6.10" height="3.40" fill="#BCBCC0"/>
<rect x="240.30" y="213.80" width="6.10" height="3.40" fill="#BCBCC0"/>
<rect x="247.65" y="213.80" width="6.10" height="3.40" fill="#BCBCC0"/>
<rect x="255.00" y="213.80" width="6.10" height="3.40" fill="#BCBCC0"/>
<rect x="262.35" y="213.80" width="6.10" height="3.40" fill="#BCBCC0"/>
<rect x="269.70" y="213.80" width="6.10" height="3.40" fill="#BCBCC0"/>
<rect x="277.05" y="213.80" width="6.10" height="3.40" fill="#BCBCC0"/>
<rect x="284.40" y="213.80" width="6.10" height="3.40" fill="#BCBCC0"/>
<rect x="291.75" y="213.80" width="6.10" height="3.40" fill="#BCBCC0"/>
<rect x="299.10" y="213.80" width="6.10" height="3.40" fill="#BCBCC0"/>
<rect x="306.45" y="213.80" width="6.10" height="3.40" fill="#BCBCC0"/>
<rect x="313.80" y="213.80" width="6.10" height="3.40" fill="#BCBCC0"/>
<rect x="321.15" y="213.80" width="6.10" height="3.40" fill="#BCBCC0"/>
<rect x="328.50" y="213.80" width="6.10" height="3.40" fill="#BCBCC0"/>
<rect x="335.85" y="213.80" width="6.10" height="3.40" fill="#BCBCC0"/>
<rect x="343.20" y="213.80" width="6.10" height="3.40" fill="#1E9CD8"/>
<rect x="350.55" y="213.80" width="6.10" height="3.40" fill="#BCBCC0"/>
<rect x="357.90" y="213.80" width="6.10" height="3.40" fill="#BCBCC0"/>
<rect x="365.25" y="213.80" width="6.10" height="3.40" fill="#BCBCC0"/>
<rect x="379.95" y="213.80" width="6.10" height="3.40" fill="#BCBCC0"/>
<rect x="387.30" y="213.80" width="6.10" height="3.40" fill="#BCBCC0"/>
<rect x="394.65" y="213.80" width="6.10" height="3.40" fill="#BCBCC0"/>
<rect x="402.00" y="213.80" width="6.10" height="3.40" fill="#BCBCC0"/>
<rect x="409.35" y="213.80" width="6.10" height="3.40" fill="#1E9CD8"/>
<rect x="416.70" y="213.80" width="6.10" height="3.40" fill="#BCBCC0"/>
<rect x="424.05" y="213.80" width="6.10" height="3.40" fill="#BCBCC0"/>
<rect x="40.80" y="218.80" width="6.10" height="3.40" fill="#BCBCC0"/>
<rect x="48.15" y="218.80" width="6.10" height="3.40" fill="#BCBCC0"/>
<rect x="62.85" y="218.80" width="6.10" height="3.40" fill="#BCBCC0"/>
<rect x="70.20" y="218.80" width="6.10" height="3.40" fill="#BCBCC0"/>
<rect x="77.55" y="218.80" width="6.10" height="3.40" fill="#BCBCC0"/>
<rect x="84.90" y="218.80" width="6.10" height="3.40" fill="#BCBCC0"/>
<rect x="92.25" y="218.80" width="6.10" height="3.40" fill="#BCBCC0"/>
<rect x="99.60" y="218.80" width="6.10" height="3.40" fill="#BCBCC0"/>
<rect x="106.95" y="218.80" width="6.10" height="3.40" fill="#1E9CD8"/>
<rect x="114.30" y="218.80" width="6.10" height="3.40" fill="#BCBCC0"/>
<rect x="121.65" y="218.80" width="6.10" height="3.40" fill="#BCBCC0"/>
<rect x="129.00" y="218.80" width="6.10" height="3.40" fill="#BCBCC0"/>
<rect x="148.00" y="218.80" width="6.10" height="3.40" fill="#BCBCC0"/>
<rect x="155.35" y="218.80" width="6.10" height="3.40" fill="#1E9CD8"/>
<rect x="162.70" y="218.80" width="6.10" height="3.40" fill="#BCBCC0"/>
<rect x="170.05" y="218.80" width="6.10" height="3.40" fill="#BCBCC0"/>
<rect x="184.75" y="218.80" width="6.10" height="3.40" fill="#BCBCC0"/>
<rect x="192.10" y="218.80" width="6.10" height="3.40" fill="#BCBCC0"/>
<rect x="199.45" y="218.80" width="6.10" height="3.40" fill="#BCBCC0"/>
<rect x="214.15" y="218.80" width="6.10" height="3.40" fill="#BCBCC0"/>
<rect x="221.50" y="218.80" width="6.10" height="3.40" fill="#BCBCC0"/>
<rect x="240.30" y="218.80" width="6.10" height="3.40" fill="#BCBCC0"/>
<rect x="247.65" y="218.80" width="6.10" height="3.40" fill="#BCBCC0"/>
<rect x="255.00" y="218.80" width="6.10" height="3.40" fill="#BCBCC0"/>
<rect x="262.35" y="218.80" width="6.10" height="3.40" fill="#BCBCC0"/>
<rect x="269.70" y="218.80" width="6.10" height="3.40" fill="#BCBCC0"/>
<rect x="277.05" y="218.80" width="6.10" height="3.40" fill="#1E9CD8"/>
<rect x="284.40" y="218.80" width="6.10" height="3.40" fill="#BCBCC0"/>
<rect x="291.75" y="218.80" width="6.10" height="3.40" fill="#BCBCC0"/>
<rect x="299.10" y="218.80" width="6.10" height="3.40" fill="#BCBCC0"/>
<rect x="306.45" y="218.80" width="6.10" height="3.40" fill="#BCBCC0"/>
<rect x="313.80" y="218.80" width="6.10" height="3.40" fill="#BCBCC0"/>
<rect x="321.15" y="218.80" width="6.10" height="3.40" fill="#BCBCC0"/>
<rect x="328.50" y="218.80" width="6.10" height="3.40" fill="#BCBCC0"/>
<rect x="335.85" y="218.80" width="6.10" height="3.40" fill="#BCBCC0"/>
<rect x="343.20" y="218.80" width="6.10" height="3.40" fill="#BCBCC0"/>
<rect x="350.55" y="218.80" width="6.10" height="3.40" fill="#BCBCC0"/>
<rect x="357.90" y="218.80" width="6.10" height="3.40" fill="#BCBCC0"/>
<rect x="365.25" y="218.80" width="6.10" height="3.40" fill="#BCBCC0"/>
<rect x="379.95" y="218.80" width="6.10" height="3.40" fill="#BCBCC0"/>
<rect x="387.30" y="218.80" width="6.10" height="3.40" fill="#BCBCC0"/>
<rect x="394.65" y="218.80" width="6.10" height="3.40" fill="#1E9CD8"/>
<rect x="402.00" y="218.80" width="6.10" height="3.40" fill="#BCBCC0"/>
<rect x="409.35" y="218.80" width="6.10" height="3.40" fill="#BCBCC0"/>
<rect x="416.70" y="218.80" width="6.10" height="3.40" fill="#BCBCC0"/>
<rect x="424.05" y="218.80" width="6.10" height="3.40" fill="#BCBCC0"/>
<rect x="40.80" y="223.80" width="6.10" height="3.40" fill="#BCBCC0"/>
<rect x="48.15" y="223.80" width="6.10" height="3.40" fill="#BCBCC0"/>
<rect x="62.85" y="223.80" width="6.10" height="3.40" fill="#BCBCC0"/>
<rect x="70.20" y="223.80" width="6.10" height="3.40" fill="#BCBCC0"/>
<rect x="77.55" y="223.80" width="6.10" height="3.40" fill="#BCBCC0"/>
<rect x="84.90" y="223.80" width="6.10" height="3.40" fill="#BCBCC0"/>
<rect x="92.25" y="223.80" width="6.10" height="3.40" fill="#BCBCC0"/>
<rect x="99.60" y="223.80" width="6.10" height="3.40" fill="#1E9CD8"/>
<rect x="106.95" y="223.80" width="6.10" height="3.40" fill="#BCBCC0"/>
<rect x="114.30" y="223.80" width="6.10" height="3.40" fill="#BCBCC0"/>
<rect x="121.65" y="223.80" width="6.10" height="3.40" fill="#BCBCC0"/>
<rect x="129.00" y="223.80" width="6.10" height="3.40" fill="#BCBCC0"/>
<rect x="148.00" y="223.80" width="6.10" height="3.40" fill="#BCBCC0"/>
<rect x="155.35" y="223.80" width="6.10" height="3.40" fill="#BCBCC0"/>
<rect x="162.70" y="223.80" width="6.10" height="3.40" fill="#BCBCC0"/>
<rect x="170.05" y="223.80" width="6.10" height="3.40" fill="#BCBCC0"/>
<rect x="184.75" y="223.80" width="6.10" height="3.40" fill="#BCBCC0"/>
<rect x="192.10" y="223.80" width="6.10" height="3.40" fill="#BCBCC0"/>
<rect x="199.45" y="223.80" width="6.10" height="3.40" fill="#BCBCC0"/>
<rect x="214.15" y="223.80" width="6.10" height="3.40" fill="#BCBCC0"/>
<rect x="221.50" y="223.80" width="6.10" height="3.40" fill="#BCBCC0"/>
<rect x="240.30" y="223.80" width="6.10" height="3.40" fill="#BCBCC0"/>
<rect x="247.65" y="223.80" width="6.10" height="3.40" fill="#BCBCC0"/>
<rect x="255.00" y="223.80" width="6.10" height="3.40" fill="#BCBCC0"/>
<rect x="262.35" y="223.80" width="6.10" height="3.40" fill="#BCBCC0"/>
<rect x="269.70" y="223.80" width="6.10" height="3.40" fill="#BCBCC0"/>
<rect x="277.05" y="223.80" width="6.10" height="3.40" fill="#BCBCC0"/>
<rect x="284.40" y="223.80" width="6.10" height="3.40" fill="#BCBCC0"/>
<rect x="291.75" y="223.80" width="6.10" height="3.40" fill="#BCBCC0"/>
<rect x="299.10" y="223.80" width="6.10" height="3.40" fill="#BCBCC0"/>
<rect x="306.45" y="223.80" width="6.10" height="3.40" fill="#BCBCC0"/>
<rect x="313.80" y="223.80" width="6.10" height="3.40" fill="#BCBCC0"/>
<rect x="321.15" y="223.80" width="6.10" height="3.40" fill="#BCBCC0"/>
<rect x="328.50" y="223.80" width="6.10" height="3.40" fill="#BCBCC0"/>
<rect x="335.85" y="223.80" width="6.10" height="3.40" fill="#BCBCC0"/>
<rect x="343.20" y="223.80" width="6.10" height="3.40" fill="#1E9CD8"/>
<rect x="350.55" y="223.80" width="6.10" height="3.40" fill="#BCBCC0"/>
<rect x="357.90" y="223.80" width="6.10" height="3.40" fill="#BCBCC0"/>
<rect x="365.25" y="223.80" width="6.10" height="3.40" fill="#BCBCC0"/>
<rect x="379.95" y="223.80" width="6.10" height="3.40" fill="#BCBCC0"/>
<rect x="387.30" y="223.80" width="6.10" height="3.40" fill="#BCBCC0"/>
<rect x="394.65" y="223.80" width="6.10" height="3.40" fill="#1E9CD8"/>
<rect x="402.00" y="223.80" width="6.10" height="3.40" fill="#BCBCC0"/>
<rect x="409.35" y="223.80" width="6.10" height="3.40" fill="#BCBCC0"/>
<rect x="416.70" y="223.80" width="6.10" height="3.40" fill="#1E9CD8"/>
<rect x="424.05" y="223.80" width="6.10" height="3.40" fill="#BCBCC0"/>
<rect x="40.80" y="228.80" width="6.10" height="3.40" fill="#1E9CD8"/>
<rect x="48.15" y="228.80" width="6.10" height="3.40" fill="#BCBCC0"/>
<rect x="62.85" y="228.80" width="6.10" height="3.40" fill="#BCBCC0"/>
<rect x="70.20" y="228.80" width="6.10" height="3.40" fill="#BCBCC0"/>
<rect x="77.55" y="228.80" width="6.10" height="3.40" fill="#BCBCC0"/>
<rect x="84.90" y="228.80" width="6.10" height="3.40" fill="#BCBCC0"/>
<rect x="92.25" y="228.80" width="6.10" height="3.40" fill="#BCBCC0"/>
<rect x="99.60" y="228.80" width="6.10" height="3.40" fill="#BCBCC0"/>
<rect x="106.95" y="228.80" width="6.10" height="3.40" fill="#BCBCC0"/>
<rect x="114.30" y="228.80" width="6.10" height="3.40" fill="#BCBCC0"/>
<rect x="121.65" y="228.80" width="6.10" height="3.40" fill="#BCBCC0"/>
<rect x="129.00" y="228.80" width="6.10" height="3.40" fill="#BCBCC0"/>
<rect x="148.00" y="228.80" width="6.10" height="3.40" fill="#BCBCC0"/>
<rect x="155.35" y="228.80" width="6.10" height="3.40" fill="#BCBCC0"/>
<rect x="162.70" y="228.80" width="6.10" height="3.40" fill="#BCBCC0"/>
<rect x="170.05" y="228.80" width="6.10" height="3.40" fill="#BCBCC0"/>
<rect x="184.75" y="228.80" width="6.10" height="3.40" fill="#BCBCC0"/>
<rect x="192.10" y="228.80" width="6.10" height="3.40" fill="#BCBCC0"/>
<rect x="199.45" y="228.80" width="6.10" height="3.40" fill="#BCBCC0"/>
<rect x="214.15" y="228.80" width="6.10" height="3.40" fill="#BCBCC0"/>
<rect x="221.50" y="228.80" width="6.10" height="3.40" fill="#BCBCC0"/>
<rect x="240.30" y="228.80" width="6.10" height="3.40" fill="#1E9CD8"/>
<rect x="247.65" y="228.80" width="6.10" height="3.40" fill="#BCBCC0"/>
<rect x="255.00" y="228.80" width="6.10" height="3.40" fill="#BCBCC0"/>
<rect x="262.35" y="228.80" width="6.10" height="3.40" fill="#BCBCC0"/>
<rect x="269.70" y="228.80" width="6.10" height="3.40" fill="#BCBCC0"/>
<rect x="277.05" y="228.80" width="6.10" height="3.40" fill="#BCBCC0"/>
<rect x="284.40" y="228.80" width="6.10" height="3.40" fill="#BCBCC0"/>
<rect x="291.75" y="228.80" width="6.10" height="3.40" fill="#1E9CD8"/>
<rect x="299.10" y="228.80" width="6.10" height="3.40" fill="#BCBCC0"/>
<rect x="306.45" y="228.80" width="6.10" height="3.40" fill="#BCBCC0"/>
<rect x="313.80" y="228.80" width="6.10" height="3.40" fill="#BCBCC0"/>
<rect x="321.15" y="228.80" width="6.10" height="3.40" fill="#BCBCC0"/>
<rect x="328.50" y="228.80" width="6.10" height="3.40" fill="#BCBCC0"/>
<rect x="335.85" y="228.80" width="6.10" height="3.40" fill="#BCBCC0"/>
<rect x="343.20" y="228.80" width="6.10" height="3.40" fill="#BCBCC0"/>
<rect x="350.55" y="228.80" width="6.10" height="3.40" fill="#BCBCC0"/>
<rect x="357.90" y="228.80" width="6.10" height="3.40" fill="#BCBCC0"/>
<rect x="365.25" y="228.80" width="6.10" height="3.40" fill="#1E9CD8"/>
<rect x="379.95" y="228.80" width="6.10" height="3.40" fill="#BCBCC0"/>
<rect x="387.30" y="228.80" width="6.10" height="3.40" fill="#BCBCC0"/>
<rect x="394.65" y="228.80" width="6.10" height="3.40" fill="#BCBCC0"/>
<rect x="402.00" y="228.80" width="6.10" height="3.40" fill="#BCBCC0"/>
<rect x="409.35" y="228.80" width="6.10" height="3.40" fill="#BCBCC0"/>
<rect x="416.70" y="228.80" width="6.10" height="3.40" fill="#BCBCC0"/>
<rect x="424.05" y="228.80" width="6.10" height="3.40" fill="#BCBCC0"/>
<rect x="40.80" y="233.80" width="6.10" height="3.40" fill="#BCBCC0"/>
<rect x="48.15" y="233.80" width="6.10" height="3.40" fill="#BCBCC0"/>
<rect x="62.85" y="233.80" width="6.10" height="3.40" fill="#BCBCC0"/>
<rect x="70.20" y="233.80" width="6.10" height="3.40" fill="#BCBCC0"/>
<rect x="77.55" y="233.80" width="6.10" height="3.40" fill="#BCBCC0"/>
<rect x="84.90" y="233.80" width="6.10" height="3.40" fill="#BCBCC0"/>
<rect x="92.25" y="233.80" width="6.10" height="3.40" fill="#BCBCC0"/>
<rect x="99.60" y="233.80" width="6.10" height="3.40" fill="#BCBCC0"/>
<rect x="106.95" y="233.80" width="6.10" height="3.40" fill="#BCBCC0"/>
<rect x="114.30" y="233.80" width="6.10" height="3.40" fill="#BCBCC0"/>
<rect x="121.65" y="233.80" width="6.10" height="3.40" fill="#BCBCC0"/>
<rect x="129.00" y="233.80" width="6.10" height="3.40" fill="#BCBCC0"/>
<rect x="148.00" y="233.80" width="6.10" height="3.40" fill="#BCBCC0"/>
<rect x="155.35" y="233.80" width="6.10" height="3.40" fill="#BCBCC0"/>
<rect x="162.70" y="233.80" width="6.10" height="3.40" fill="#BCBCC0"/>
<rect x="170.05" y="233.80" width="6.10" height="3.40" fill="#BCBCC0"/>
<rect x="184.75" y="233.80" width="6.10" height="3.40" fill="#1E9CD8"/>
<rect x="192.10" y="233.80" width="6.10" height="3.40" fill="#BCBCC0"/>
<rect x="199.45" y="233.80" width="6.10" height="3.40" fill="#BCBCC0"/>
<rect x="214.15" y="233.80" width="6.10" height="3.40" fill="#BCBCC0"/>
<rect x="221.50" y="233.80" width="6.10" height="3.40" fill="#BCBCC0"/>
<rect x="240.30" y="233.80" width="6.10" height="3.40" fill="#BCBCC0"/>
<rect x="247.65" y="233.80" width="6.10" height="3.40" fill="#BCBCC0"/>
<rect x="255.00" y="233.80" width="6.10" height="3.40" fill="#BCBCC0"/>
<rect x="262.35" y="233.80" width="6.10" height="3.40" fill="#BCBCC0"/>
<rect x="269.70" y="233.80" width="6.10" height="3.40" fill="#BCBCC0"/>
<rect x="277.05" y="233.80" width="6.10" height="3.40" fill="#BCBCC0"/>
<rect x="284.40" y="233.80" width="6.10" height="3.40" fill="#BCBCC0"/>
<rect x="291.75" y="233.80" width="6.10" height="3.40" fill="#BCBCC0"/>
<rect x="299.10" y="233.80" width="6.10" height="3.40" fill="#BCBCC0"/>
<rect x="306.45" y="233.80" width="6.10" height="3.40" fill="#BCBCC0"/>
<rect x="313.80" y="233.80" width="6.10" height="3.40" fill="#BCBCC0"/>
<rect x="321.15" y="233.80" width="6.10" height="3.40" fill="#BCBCC0"/>
<rect x="328.50" y="233.80" width="6.10" height="3.40" fill="#1E9CD8"/>
<rect x="335.85" y="233.80" width="6.10" height="3.40" fill="#BCBCC0"/>
<rect x="343.20" y="233.80" width="6.10" height="3.40" fill="#BCBCC0"/>
<rect x="350.55" y="233.80" width="6.10" height="3.40" fill="#1E9CD8"/>
<rect x="357.90" y="233.80" width="6.10" height="3.40" fill="#BCBCC0"/>
<rect x="365.25" y="233.80" width="6.10" height="3.40" fill="#BCBCC0"/>
<rect x="379.95" y="233.80" width="6.10" height="3.40" fill="#BCBCC0"/>
<rect x="387.30" y="233.80" width="6.10" height="3.40" fill="#BCBCC0"/>
<rect x="394.65" y="233.80" width="6.10" height="3.40" fill="#1E9CD8"/>
<rect x="402.00" y="233.80" width="6.10" height="3.40" fill="#BCBCC0"/>
<rect x="409.35" y="233.80" width="6.10" height="3.40" fill="#BCBCC0"/>
<rect x="416.70" y="233.80" width="6.10" height="3.40" fill="#BCBCC0"/>
<rect x="424.05" y="233.80" width="6.10" height="3.40" fill="#BCBCC0"/>
<rect x="40.80" y="238.80" width="6.10" height="3.40" fill="#BCBCC0"/>
<rect x="48.15" y="238.80" width="6.10" height="3.40" fill="#BCBCC0"/>
<rect x="55.50" y="238.80" width="6.10" height="3.40" fill="#BCBCC0"/>
<rect x="62.85" y="238.80" width="6.10" height="3.40" fill="#1E9CD8"/>
<rect x="70.20" y="238.80" width="6.10" height="3.40" fill="#BCBCC0"/>
<rect x="77.55" y="238.80" width="6.10" height="3.40" fill="#BCBCC0"/>
<rect x="84.90" y="238.80" width="6.10" height="3.40" fill="#BCBCC0"/>
<rect x="92.25" y="238.80" width="6.10" height="3.40" fill="#BCBCC0"/>
<rect x="99.60" y="238.80" width="6.10" height="3.40" fill="#BCBCC0"/>
<rect x="106.95" y="238.80" width="6.10" height="3.40" fill="#BCBCC0"/>
<rect x="114.30" y="238.80" width="6.10" height="3.40" fill="#BCBCC0"/>
<rect x="121.65" y="238.80" width="6.10" height="3.40" fill="#BCBCC0"/>
<rect x="129.00" y="238.80" width="6.10" height="3.40" fill="#BCBCC0"/>
<rect x="148.00" y="238.80" width="6.10" height="3.40" fill="#BCBCC0"/>
<rect x="155.35" y="238.80" width="6.10" height="3.40" fill="#BCBCC0"/>
<rect x="162.70" y="238.80" width="6.10" height="3.40" fill="#BCBCC0"/>
<rect x="170.05" y="238.80" width="6.10" height="3.40" fill="#1E9CD8"/>
<rect x="177.40" y="238.80" width="6.10" height="3.40" fill="#BCBCC0"/>
<rect x="184.75" y="238.80" width="6.10" height="3.40" fill="#BCBCC0"/>
<rect x="192.10" y="238.80" width="6.10" height="3.40" fill="#BCBCC0"/>
<rect x="199.45" y="238.80" width="6.10" height="3.40" fill="#BCBCC0"/>
<rect x="206.80" y="238.80" width="6.10" height="3.40" fill="#BCBCC0"/>
<rect x="214.15" y="238.80" width="6.10" height="3.40" fill="#1E9CD8"/>
<rect x="221.50" y="238.80" width="6.10" height="3.40" fill="#BCBCC0"/>
<rect x="240.30" y="238.80" width="6.10" height="3.40" fill="#BCBCC0"/>
<rect x="247.65" y="238.80" width="6.10" height="3.40" fill="#BCBCC0"/>
<rect x="255.00" y="238.80" width="6.10" height="3.40" fill="#BCBCC0"/>
<rect x="262.35" y="238.80" width="6.10" height="3.40" fill="#BCBCC0"/>
<rect x="269.70" y="238.80" width="6.10" height="3.40" fill="#BCBCC0"/>
<rect x="277.05" y="238.80" width="6.10" height="3.40" fill="#BCBCC0"/>
<rect x="284.40" y="238.80" width="6.10" height="3.40" fill="#BCBCC0"/>
<rect x="291.75" y="238.80" width="6.10" height="3.40" fill="#BCBCC0"/>
<rect x="299.10" y="238.80" width="6.10" height="3.40" fill="#BCBCC0"/>
<rect x="306.45" y="238.80" width="6.10" height="3.40" fill="#BCBCC0"/>
<rect x="313.80" y="238.80" width="6.10" height="3.40" fill="#BCBCC0"/>
<rect x="321.15" y="238.80" width="6.10" height="3.40" fill="#BCBCC0"/>
<rect x="328.50" y="238.80" width="6.10" height="3.40" fill="#BCBCC0"/>
<rect x="335.85" y="238.80" width="6.10" height="3.40" fill="#BCBCC0"/>
<rect x="343.20" y="238.80" width="6.10" height="3.40" fill="#BCBCC0"/>
<rect x="350.55" y="238.80" width="6.10" height="3.40" fill="#BCBCC0"/>
<rect x="357.90" y="238.80" width="6.10" height="3.40" fill="#BCBCC0"/>
<rect x="365.25" y="238.80" width="6.10" height="3.40" fill="#BCBCC0"/>
<rect x="372.60" y="238.80" width="6.10" height="3.40" fill="#BCBCC0"/>
<rect x="379.95" y="238.80" width="6.10" height="3.40" fill="#BCBCC0"/>
<rect x="387.30" y="238.80" width="6.10" height="3.40" fill="#BCBCC0"/>
<rect x="394.65" y="238.80" width="6.10" height="3.40" fill="#BCBCC0"/>
<rect x="402.00" y="238.80" width="6.10" height="3.40" fill="#1E9CD8"/>
<rect x="409.35" y="238.80" width="6.10" height="3.40" fill="#BCBCC0"/>
<rect x="416.70" y="238.80" width="6.10" height="3.40" fill="#BCBCC0"/>
<rect x="424.05" y="238.80" width="6.10" height="3.40" fill="#BCBCC0"/>
<rect x="40.80" y="243.80" width="6.10" height="3.40" fill="#BCBCC0"/>
<rect x="48.15" y="243.80" width="6.10" height="3.40" fill="#BCBCC0"/>
<rect x="62.85" y="243.80" width="6.10" height="3.40" fill="#BCBCC0"/>
<rect x="70.20" y="243.80" width="6.10" height="3.40" fill="#BCBCC0"/>
<rect x="77.55" y="243.80" width="6.10" height="3.40" fill="#BCBCC0"/>
<rect x="84.90" y="243.80" width="6.10" height="3.40" fill="#BCBCC0"/>
<rect x="92.25" y="243.80" width="6.10" height="3.40" fill="#BCBCC0"/>
<rect x="99.60" y="243.80" width="6.10" height="3.40" fill="#BCBCC0"/>
<rect x="106.95" y="243.80" width="6.10" height="3.40" fill="#BCBCC0"/>
<rect x="114.30" y="243.80" width="6.10" height="3.40" fill="#BCBCC0"/>
<rect x="121.65" y="243.80" width="6.10" height="3.40" fill="#BCBCC0"/>
<rect x="129.00" y="243.80" width="6.10" height="3.40" fill="#BCBCC0"/>
<rect x="148.00" y="243.80" width="6.10" height="3.40" fill="#BCBCC0"/>
<rect x="155.35" y="243.80" width="6.10" height="3.40" fill="#BCBCC0"/>
<rect x="162.70" y="243.80" width="6.10" height="3.40" fill="#BCBCC0"/>
<rect x="170.05" y="243.80" width="6.10" height="3.40" fill="#BCBCC0"/>
<rect x="184.75" y="243.80" width="6.10" height="3.40" fill="#BCBCC0"/>
<rect x="192.10" y="243.80" width="6.10" height="3.40" fill="#BCBCC0"/>
<rect x="199.45" y="243.80" width="6.10" height="3.40" fill="#BCBCC0"/>
<rect x="214.15" y="243.80" width="6.10" height="3.40" fill="#BCBCC0"/>
<rect x="221.50" y="243.80" width="6.10" height="3.40" fill="#BCBCC0"/>
<rect x="240.30" y="243.80" width="6.10" height="3.40" fill="#BCBCC0"/>
<rect x="247.65" y="243.80" width="6.10" height="3.40" fill="#BCBCC0"/>
<rect x="255.00" y="243.80" width="6.10" height="3.40" fill="#BCBCC0"/>
<rect x="262.35" y="243.80" width="6.10" height="3.40" fill="#BCBCC0"/>
<rect x="269.70" y="243.80" width="6.10" height="3.40" fill="#BCBCC0"/>
<rect x="277.05" y="243.80" width="6.10" height="3.40" fill="#BCBCC0"/>
<rect x="284.40" y="243.80" width="6.10" height="3.40" fill="#BCBCC0"/>
<rect x="291.75" y="243.80" width="6.10" height="3.40" fill="#BCBCC0"/>
<rect x="299.10" y="243.80" width="6.10" height="3.40" fill="#BCBCC0"/>
<rect x="306.45" y="243.80" width="6.10" height="3.40" fill="#BCBCC0"/>
<rect x="313.80" y="243.80" width="6.10" height="3.40" fill="#BCBCC0"/>
<rect x="321.15" y="243.80" width="6.10" height="3.40" fill="#BCBCC0"/>
<rect x="328.50" y="243.80" width="6.10" height="3.40" fill="#1E9CD8"/>
<rect x="335.85" y="243.80" width="6.10" height="3.40" fill="#1E9CD8"/>
<rect x="343.20" y="243.80" width="6.10" height="3.40" fill="#1E9CD8"/>
<rect x="350.55" y="243.80" width="6.10" height="3.40" fill="#BCBCC0"/>
<rect x="357.90" y="243.80" width="6.10" height="3.40" fill="#1E9CD8"/>
<rect x="365.25" y="243.80" width="6.10" height="3.40" fill="#BCBCC0"/>
<rect x="379.95" y="243.80" width="6.10" height="3.40" fill="#BCBCC0"/>
<rect x="387.30" y="243.80" width="6.10" height="3.40" fill="#BCBCC0"/>
<rect x="394.65" y="243.80" width="6.10" height="3.40" fill="#BCBCC0"/>
<rect x="402.00" y="243.80" width="6.10" height="3.40" fill="#BCBCC0"/>
<rect x="409.35" y="243.80" width="6.10" height="3.40" fill="#BCBCC0"/>
<rect x="416.70" y="243.80" width="6.10" height="3.40" fill="#BCBCC0"/>
<rect x="424.05" y="243.80" width="6.10" height="3.40" fill="#BCBCC0"/>
<rect x="40.80" y="248.80" width="6.10" height="3.40" fill="#BCBCC0"/>
<rect x="48.15" y="248.80" width="6.10" height="3.40" fill="#BCBCC0"/>
<rect x="62.85" y="248.80" width="6.10" height="3.40" fill="#BCBCC0"/>
<rect x="70.20" y="248.80" width="6.10" height="3.40" fill="#BCBCC0"/>
<rect x="77.55" y="248.80" width="6.10" height="3.40" fill="#BCBCC0"/>
<rect x="84.90" y="248.80" width="6.10" height="3.40" fill="#BCBCC0"/>
<rect x="92.25" y="248.80" width="6.10" height="3.40" fill="#BCBCC0"/>
<rect x="99.60" y="248.80" width="6.10" height="3.40" fill="#BCBCC0"/>
<rect x="106.95" y="248.80" width="6.10" height="3.40" fill="#BCBCC0"/>
<rect x="114.30" y="248.80" width="6.10" height="3.40" fill="#BCBCC0"/>
<rect x="121.65" y="248.80" width="6.10" height="3.40" fill="#BCBCC0"/>
<rect x="129.00" y="248.80" width="6.10" height="3.40" fill="#BCBCC0"/>
<rect x="148.00" y="248.80" width="6.10" height="3.40" fill="#BCBCC0"/>
<rect x="155.35" y="248.80" width="6.10" height="3.40" fill="#BCBCC0"/>
<rect x="162.70" y="248.80" width="6.10" height="3.40" fill="#BCBCC0"/>
<rect x="170.05" y="248.80" width="6.10" height="3.40" fill="#BCBCC0"/>
<rect x="184.75" y="248.80" width="6.10" height="3.40" fill="#BCBCC0"/>
<rect x="192.10" y="248.80" width="6.10" height="3.40" fill="#BCBCC0"/>
<rect x="199.45" y="248.80" width="6.10" height="3.40" fill="#BCBCC0"/>
<rect x="214.15" y="248.80" width="6.10" height="3.40" fill="#BCBCC0"/>
<rect x="221.50" y="248.80" width="6.10" height="3.40" fill="#BCBCC0"/>
<rect x="240.30" y="248.80" width="6.10" height="3.40" fill="#BCBCC0"/>
<rect x="247.65" y="248.80" width="6.10" height="3.40" fill="#BCBCC0"/>
<rect x="255.00" y="248.80" width="6.10" height="3.40" fill="#BCBCC0"/>
<rect x="262.35" y="248.80" width="6.10" height="3.40" fill="#1E9CD8"/>
<rect x="269.70" y="248.80" width="6.10" height="3.40" fill="#1E9CD8"/>
<rect x="277.05" y="248.80" width="6.10" height="3.40" fill="#BCBCC0"/>
<rect x="284.40" y="248.80" width="6.10" height="3.40" fill="#BCBCC0"/>
<rect x="291.75" y="248.80" width="6.10" height="3.40" fill="#BCBCC0"/>
<rect x="299.10" y="248.80" width="6.10" height="3.40" fill="#BCBCC0"/>
<rect x="306.45" y="248.80" width="6.10" height="3.40" fill="#BCBCC0"/>
<rect x="313.80" y="248.80" width="6.10" height="3.40" fill="#BCBCC0"/>
<rect x="321.15" y="248.80" width="6.10" height="3.40" fill="#BCBCC0"/>
<rect x="328.50" y="248.80" width="6.10" height="3.40" fill="#BCBCC0"/>
<rect x="335.85" y="248.80" width="6.10" height="3.40" fill="#BCBCC0"/>
<rect x="343.20" y="248.80" width="6.10" height="3.40" fill="#BCBCC0"/>
<rect x="350.55" y="248.80" width="6.10" height="3.40" fill="#BCBCC0"/>
<rect x="357.90" y="248.80" width="6.10" height="3.40" fill="#BCBCC0"/>
<rect x="365.25" y="248.80" width="6.10" height="3.40" fill="#BCBCC0"/>
<rect x="379.95" y="248.80" width="6.10" height="3.40" fill="#BCBCC0"/>
<rect x="387.30" y="248.80" width="6.10" height="3.40" fill="#BCBCC0"/>
<rect x="394.65" y="248.80" width="6.10" height="3.40" fill="#BCBCC0"/>
<rect x="402.00" y="248.80" width="6.10" height="3.40" fill="#1E9CD8"/>
<rect x="409.35" y="248.80" width="6.10" height="3.40" fill="#1E9CD8"/>
<rect x="416.70" y="248.80" width="6.10" height="3.40" fill="#BCBCC0"/>
<rect x="424.05" y="248.80" width="6.10" height="3.40" fill="#BCBCC0"/>
<rect x="40.80" y="253.80" width="6.10" height="3.40" fill="#BCBCC0"/>
<rect x="48.15" y="253.80" width="6.10" height="3.40" fill="#BCBCC0"/>
<rect x="55.50" y="253.80" width="6.10" height="3.40" fill="#BCBCC0"/>
<rect x="62.85" y="253.80" width="6.10" height="3.40" fill="#BCBCC0"/>
<rect x="70.20" y="253.80" width="6.10" height="3.40" fill="#BCBCC0"/>
<rect x="77.55" y="253.80" width="6.10" height="3.40" fill="#BCBCC0"/>
<rect x="84.90" y="253.80" width="6.10" height="3.40" fill="#BCBCC0"/>
<rect x="92.25" y="253.80" width="6.10" height="3.40" fill="#BCBCC0"/>
<rect x="99.60" y="253.80" width="6.10" height="3.40" fill="#BCBCC0"/>
<rect x="106.95" y="253.80" width="6.10" height="3.40" fill="#BCBCC0"/>
<rect x="114.30" y="253.80" width="6.10" height="3.40" fill="#BCBCC0"/>
<rect x="121.65" y="253.80" width="6.10" height="3.40" fill="#BCBCC0"/>
<rect x="129.00" y="253.80" width="6.10" height="3.40" fill="#BCBCC0"/>
<rect x="148.00" y="253.80" width="6.10" height="3.40" fill="#BCBCC0"/>
<rect x="155.35" y="253.80" width="6.10" height="3.40" fill="#BCBCC0"/>
<rect x="162.70" y="253.80" width="6.10" height="3.40" fill="#BCBCC0"/>
<rect x="170.05" y="253.80" width="6.10" height="3.40" fill="#BCBCC0"/>
<rect x="177.40" y="253.80" width="6.10" height="3.40" fill="#BCBCC0"/>
<rect x="184.75" y="253.80" width="6.10" height="3.40" fill="#BCBCC0"/>
<rect x="192.10" y="253.80" width="6.10" height="3.40" fill="#BCBCC0"/>
<rect x="199.45" y="253.80" width="6.10" height="3.40" fill="#BCBCC0"/>
<rect x="206.80" y="253.80" width="6.10" height="3.40" fill="#1E9CD8"/>
<rect x="214.15" y="253.80" width="6.10" height="3.40" fill="#BCBCC0"/>
<rect x="221.50" y="253.80" width="6.10" height="3.40" fill="#BCBCC0"/>
<rect x="240.30" y="253.80" width="6.10" height="3.40" fill="#BCBCC0"/>
<rect x="247.65" y="253.80" width="6.10" height="3.40" fill="#BCBCC0"/>
<rect x="255.00" y="253.80" width="6.10" height="3.40" fill="#BCBCC0"/>
<rect x="262.35" y="253.80" width="6.10" height="3.40" fill="#1E9CD8"/>
<rect x="269.70" y="253.80" width="6.10" height="3.40" fill="#BCBCC0"/>
<rect x="277.05" y="253.80" width="6.10" height="3.40" fill="#BCBCC0"/>
<rect x="284.40" y="253.80" width="6.10" height="3.40" fill="#BCBCC0"/>
<rect x="291.75" y="253.80" width="6.10" height="3.40" fill="#BCBCC0"/>
<rect x="299.10" y="253.80" width="6.10" height="3.40" fill="#BCBCC0"/>
<rect x="306.45" y="253.80" width="6.10" height="3.40" fill="#BCBCC0"/>
<rect x="313.80" y="253.80" width="6.10" height="3.40" fill="#BCBCC0"/>
<rect x="321.15" y="253.80" width="6.10" height="3.40" fill="#BCBCC0"/>
<rect x="328.50" y="253.80" width="6.10" height="3.40" fill="#BCBCC0"/>
<rect x="335.85" y="253.80" width="6.10" height="3.40" fill="#1E9CD8"/>
<rect x="343.20" y="253.80" width="6.10" height="3.40" fill="#BCBCC0"/>
<rect x="350.55" y="253.80" width="6.10" height="3.40" fill="#BCBCC0"/>
<rect x="357.90" y="253.80" width="6.10" height="3.40" fill="#BCBCC0"/>
<rect x="365.25" y="253.80" width="6.10" height="3.40" fill="#BCBCC0"/>
<rect x="372.60" y="253.80" width="6.10" height="3.40" fill="#BCBCC0"/>
<rect x="379.95" y="253.80" width="6.10" height="3.40" fill="#1E9CD8"/>
<rect x="387.30" y="253.80" width="6.10" height="3.40" fill="#BCBCC0"/>
<rect x="394.65" y="253.80" width="6.10" height="3.40" fill="#BCBCC0"/>
<rect x="402.00" y="253.80" width="6.10" height="3.40" fill="#BCBCC0"/>
<rect x="409.35" y="253.80" width="6.10" height="3.40" fill="#BCBCC0"/>
<rect x="416.70" y="253.80" width="6.10" height="3.40" fill="#BCBCC0"/>
<rect x="424.05" y="253.80" width="6.10" height="3.40" fill="#BCBCC0"/>
<rect x="442.30" y="19.80" width="34.42" height="4.00" fill="#1E9CD8"/>
<rect x="476.72" y="19.80" width="14.56" height="4.00" fill="#FBB516"/>
<rect x="491.29" y="19.80" width="17.21" height="4.00" fill="#F68B1F"/>
<rect x="442.30" y="30.55" width="6.62" height="4.00" fill="#8278BC"/>
<rect x="448.92" y="30.55" width="21.18" height="4.00" fill="#0E4A83"/>
<rect x="470.10" y="30.55" width="37.07" height="4.00" fill="#FBB516"/>
<rect x="442.30" y="41.10" width="1.00" height="4.00" fill="#5E3719"/>
<rect x="443.10" y="41.10" width="1.90" height="4.00" fill="#3BB54A"/>
<rect x="445.00" y="41.10" width="8.90" height="4.00" fill="#F68B1F"/>
<rect x="453.90" y="41.10" width="1.00" height="4.00" fill="#FBB516"/>
<rect x="454.90" y="41.10" width="3.00" height="4.00" fill="#C5132F"/>
<rect x="457.90" y="41.10" width="3.85" height="4.00" fill="#8278BC"/>
<rect x="461.75" y="41.10" width="14.95" height="4.00" fill="#0E4A83"/>
<rect x="476.70" y="41.10" width="26.50" height="4.00" fill="#BCBCC0"/>
<rect x="442.30" y="55.50" width="14.56" height="2.80" fill="#1E9CD8"/>
<rect x="456.86" y="55.50" width="51.64" height="2.80" fill="#BCBCC0"/>
<rect x="442.30" y="60.65" width="11.92" height="2.80" fill="#1E9CD8"/>
<rect x="454.22" y="60.65" width="52.96" height="2.80" fill="#BCBCC0"/>
<rect x="442.30" y="65.80" width="15.89" height="2.80" fill="#1E9CD8"/>
<rect x="458.19" y="65.80" width="50.31" height="2.80" fill="#BCBCC0"/>
<rect x="442.30" y="70.95" width="14.56" height="2.80" fill="#1E9CD8"/>
<rect x="456.86" y="70.95" width="51.64" height="2.80" fill="#BCBCC0"/>
<rect x="442.30" y="76.10" width="31.78" height="2.80" fill="#1E9CD8"/>
<rect x="474.08" y="76.10" width="31.78" height="2.80" fill="#BCBCC0"/>
<rect x="442.30" y="89.15" width="13.24" height="2.70" fill="#0E4A83"/>
<rect x="455.54" y="89.15" width="11.92" height="2.70" fill="#1E9CD8"/>
<rect x="467.46" y="89.15" width="41.04" height="2.70" fill="#BCBCC0"/>
<rect x="442.30" y="94.15" width="3.97" height="2.70" fill="#0E4A83"/>
<rect x="446.27" y="94.15" width="21.18" height="2.70" fill="#1E9CD8"/>
<rect x="467.46" y="94.15" width="35.75" height="2.70" fill="#BCBCC0"/>
<rect x="442.30" y="99.15" width="22.51" height="2.70" fill="#1E9CD8"/>
<rect x="464.81" y="99.15" width="43.69" height="2.70" fill="#BCBCC0"/>
<rect x="442.30" y="104.15" width="18.54" height="2.70" fill="#1E9CD8"/>
<rect x="460.84" y="104.15" width="42.37" height="2.70" fill="#BCBCC0"/>
<rect x="442.30" y="109.15" width="3.97" height="2.70" fill="#0E4A83"/>
<rect x="446.27" y="109.15" width="10.59" height="2.70" fill="#1E9CD8"/>
<rect x="456.86" y="109.15" width="46.34" height="2.70" fill="#BCBCC0"/>
<rect x="442.30" y="114.15" width="3.97" height="2.70" fill="#0E4A83"/>
<rect x="446.27" y="114.15" width="9.27" height="2.70" fill="#1E9CD8"/>
<rect x="455.54" y="114.15" width="47.66" height="2.70" fill="#BCBCC0"/>
<rect x="442.30" y="119.15" width="13.24" height="2.70" fill="#1E9CD8"/>
<rect x="455.54" y="119.15" width="47.66" height="2.70" fill="#BCBCC0"/>
<rect x="442.30" y="124.15" width="5.30" height="2.70" fill="#0E4A83"/>
<rect x="447.60" y="124.15" width="5.30" height="2.70" fill="#1E9CD8"/>
<rect x="452.89" y="124.15" width="55.61" height="2.70" fill="#BCBCC0"/>
<rect x="442.30" y="129.15" width="2.65" height="2.70" fill="#0E4A83"/>
<rect x="444.95" y="129.15" width="7.94" height="2.70" fill="#1E9CD8"/>
<rect x="452.89" y="129.15" width="50.31" height="2.70" fill="#BCBCC0"/>
<rect x="442.30" y="134.15" width="2.65" height="2.70" fill="#0E4A83"/>
<rect x="444.95" y="134.15" width="6.62" height="2.70" fill="#1E9CD8"/>
<rect x="451.57" y="134.15" width="56.93" height="2.70" fill="#BCBCC0"/>
<rect x="442.30" y="139.15" width="2.65" height="2.70" fill="#0E4A83"/>
<rect x="444.95" y="139.15" width="6.62" height="2.70" fill="#1E9CD8"/>
<rect x="451.57" y="139.15" width="51.64" height="2.70" fill="#BCBCC0"/>
<rect x="442.30" y="144.15" width="9.27" height="2.70" fill="#1E9CD8"/>
<rect x="451.57" y="144.15" width="56.93" height="2.70" fill="#BCBCC0"/>
<rect x="442.30" y="149.15" width="9.27" height="2.70" fill="#1E9CD8"/>
<rect x="451.57" y="149.15" width="51.64" height="2.70" fill="#BCBCC0"/>
<rect x="442.30" y="154.15" width="7.94" height="2.70" fill="#1E9CD8"/>
<rect x="450.24" y="154.15" width="52.96" height="2.70" fill="#BCBCC0"/>
<rect x="442.30" y="159.15" width="7.94" height="2.70" fill="#1E9CD8"/>
<rect x="450.24" y="159.15" width="52.96" height="2.70" fill="#BCBCC0"/>
<rect x="442.30" y="164.15" width="6.62" height="2.70" fill="#1E9CD8"/>
<rect x="448.92" y="164.15" width="54.28" height="2.70" fill="#BCBCC0"/>
<rect x="442.30" y="169.15" width="6.62" height="2.70" fill="#1E9CD8"/>
<rect x="448.92" y="169.15" width="59.58" height="2.70" fill="#BCBCC0"/>
<rect x="442.30" y="174.15" width="6.62" height="2.70" fill="#1E9CD8"/>
<rect x="448.92" y="174.15" width="54.28" height="2.70" fill="#BCBCC0"/>
<rect x="442.30" y="179.15" width="6.62" height="2.70" fill="#1E9CD8"/>
<rect x="448.92" y="179.15" width="54.28" height="2.70" fill="#BCBCC0"/>
<rect x="442.30" y="184.15" width="1.32" height="2.70" fill="#0E4A83"/>
<rect x="443.62" y="184.15" width="5.30" height="2.70" fill="#1E9CD8"/>
<rect x="448.92" y="184.15" width="54.28" height="2.70" fill="#BCBCC0"/>
<rect x="442.30" y="189.15" width="6.62" height="2.70" fill="#1E9CD8"/>
<rect x="448.92" y="189.15" width="54.28" height="2.70" fill="#BCBCC0"/>
<rect x="442.30" y="194.15" width="6.62" height="2.70" fill="#1E9CD8"/>
<rect x="448.92" y="194.15" width="54.28" height="2.70" fill="#BCBCC0"/>
<rect x="442.30" y="199.15" width="6.62" height="2.70" fill="#1E9CD8"/>
<rect x="448.92" y="199.15" width="54.28" height="2.70" fill="#BCBCC0"/>
<rect x="442.30" y="204.15" width="6.62" height="2.70" fill="#1E9CD8"/>
<rect x="448.92" y="204.15" width="54.28" height="2.70" fill="#BCBCC0"/>
<rect x="442.30" y="209.15" width="5.30" height="2.70" fill="#1E9CD8"/>
<rect x="447.60" y="209.15" width="55.61" height="2.70" fill="#BCBCC0"/>
<rect x="442.30" y="214.15" width="5.30" height="2.70" fill="#1E9CD8"/>
<rect x="447.60" y="214.15" width="55.61" height="2.70" fill="#BCBCC0"/>
<rect x="442.30" y="219.15" width="5.30" height="2.70" fill="#1E9CD8"/>
<rect x="447.60" y="219.15" width="55.61" height="2.70" fill="#BCBCC0"/>
<rect x="442.30" y="224.15" width="5.30" height="2.70" fill="#1E9CD8"/>
<rect x="447.60" y="224.15" width="55.61" height="2.70" fill="#BCBCC0"/>
<rect x="442.30" y="229.15" width="5.30" height="2.70" fill="#1E9CD8"/>
<rect x="447.60" y="229.15" width="55.61" height="2.70" fill="#BCBCC0"/>
<rect x="442.30" y="234.15" width="5.30" height="2.70" fill="#1E9CD8"/>
<rect x="447.60" y="234.15" width="55.61" height="2.70" fill="#BCBCC0"/>
<rect x="442.30" y="239.15" width="5.30" height="2.70" fill="#1E9CD8"/>
<rect x="447.60" y="239.15" width="60.90" height="2.70" fill="#BCBCC0"/>
<rect x="442.30" y="244.15" width="5.30" height="2.70" fill="#1E9CD8"/>
<rect x="447.60" y="244.15" width="55.61" height="2.70" fill="#BCBCC0"/>
<rect x="442.30" y="249.15" width="5.30" height="2.70" fill="#1E9CD8"/>
<rect x="447.60" y="249.15" width="55.61" height="2.70" fill="#BCBCC0"/>
<rect x="442.30" y="254.15" width="5.30" height="2.70" fill="#1E9CD8"/>
<rect x="447.60" y="254.15" width="60.90" height="2.70" fill="#BCBCC0"/>
<rect x="37.90" y="287.80" width="5.40" height="5.10" fill="#0E4A83"/>
<rect x="37.90" y="297.25" width="5.40" height="5.10" fill="#8278BC"/>
<rect x="37.90" y="306.70" width="5.40" height="5.10" fill="#C5132F"/>
<rect x="37.90" y="316.15" width="5.40" height="5.10" fill="#F68B1F"/>
<rect x="74.70" y="287.80" width="5.40" height="5.10" fill="#BCBCC0"/>
<rect x="74.70" y="297.25" width="5.40" height="5.10" fill="#3BB54A"/>
<rect x="74.70" y="306.70" width="5.40" height="5.10" fill="#5E3719"/>
<rect x="141.10" y="287.90" width="5.40" height="5.00" fill="#FBB516"/>
<rect x="141.10" y="297.50" width="5.40" height="5.00" fill="#0E4A83"/>
<rect x="141.10" y="307.10" width="5.40" height="5.00" fill="#8278BC"/>
<rect x="185.10" y="288.30" width="5.40" height="4.60" fill="#1E9CD8"/>
<rect x="185.10" y="297.90" width="5.40" height="4.80" fill="#BCBCC0"/>
<rect x="305.40" y="287.80" width="5.60" height="5.20" fill="#1E9CD8"/>
<rect x="305.40" y="297.40" width="5.60" height="5.20" fill="#0E4A83"/>
<rect x="305.40" y="307.00" width="5.60" height="5.00" fill="#BCBCC0"/>
<rect x="441.45" y="16.2" width="1.3" height="253.0" fill="#231F20"/>
<rect x="441.45" y="267.95" width="67.6" height="1.2" fill="#231F20"/>
<rect x="441.45" y="268" width="1.15" height="3.3" fill="#231F20"/>
<rect x="474.90" y="268" width="1.15" height="3.3" fill="#231F20"/>
<rect x="507.85" y="268" width="1.15" height="3.3" fill="#231F20"/>
</g>
<rect x="0.5" y="0.5" width="519" height="334" fill="none" stroke="#000" stroke-width="1"/>
</g>
</svg>
</body></html>
